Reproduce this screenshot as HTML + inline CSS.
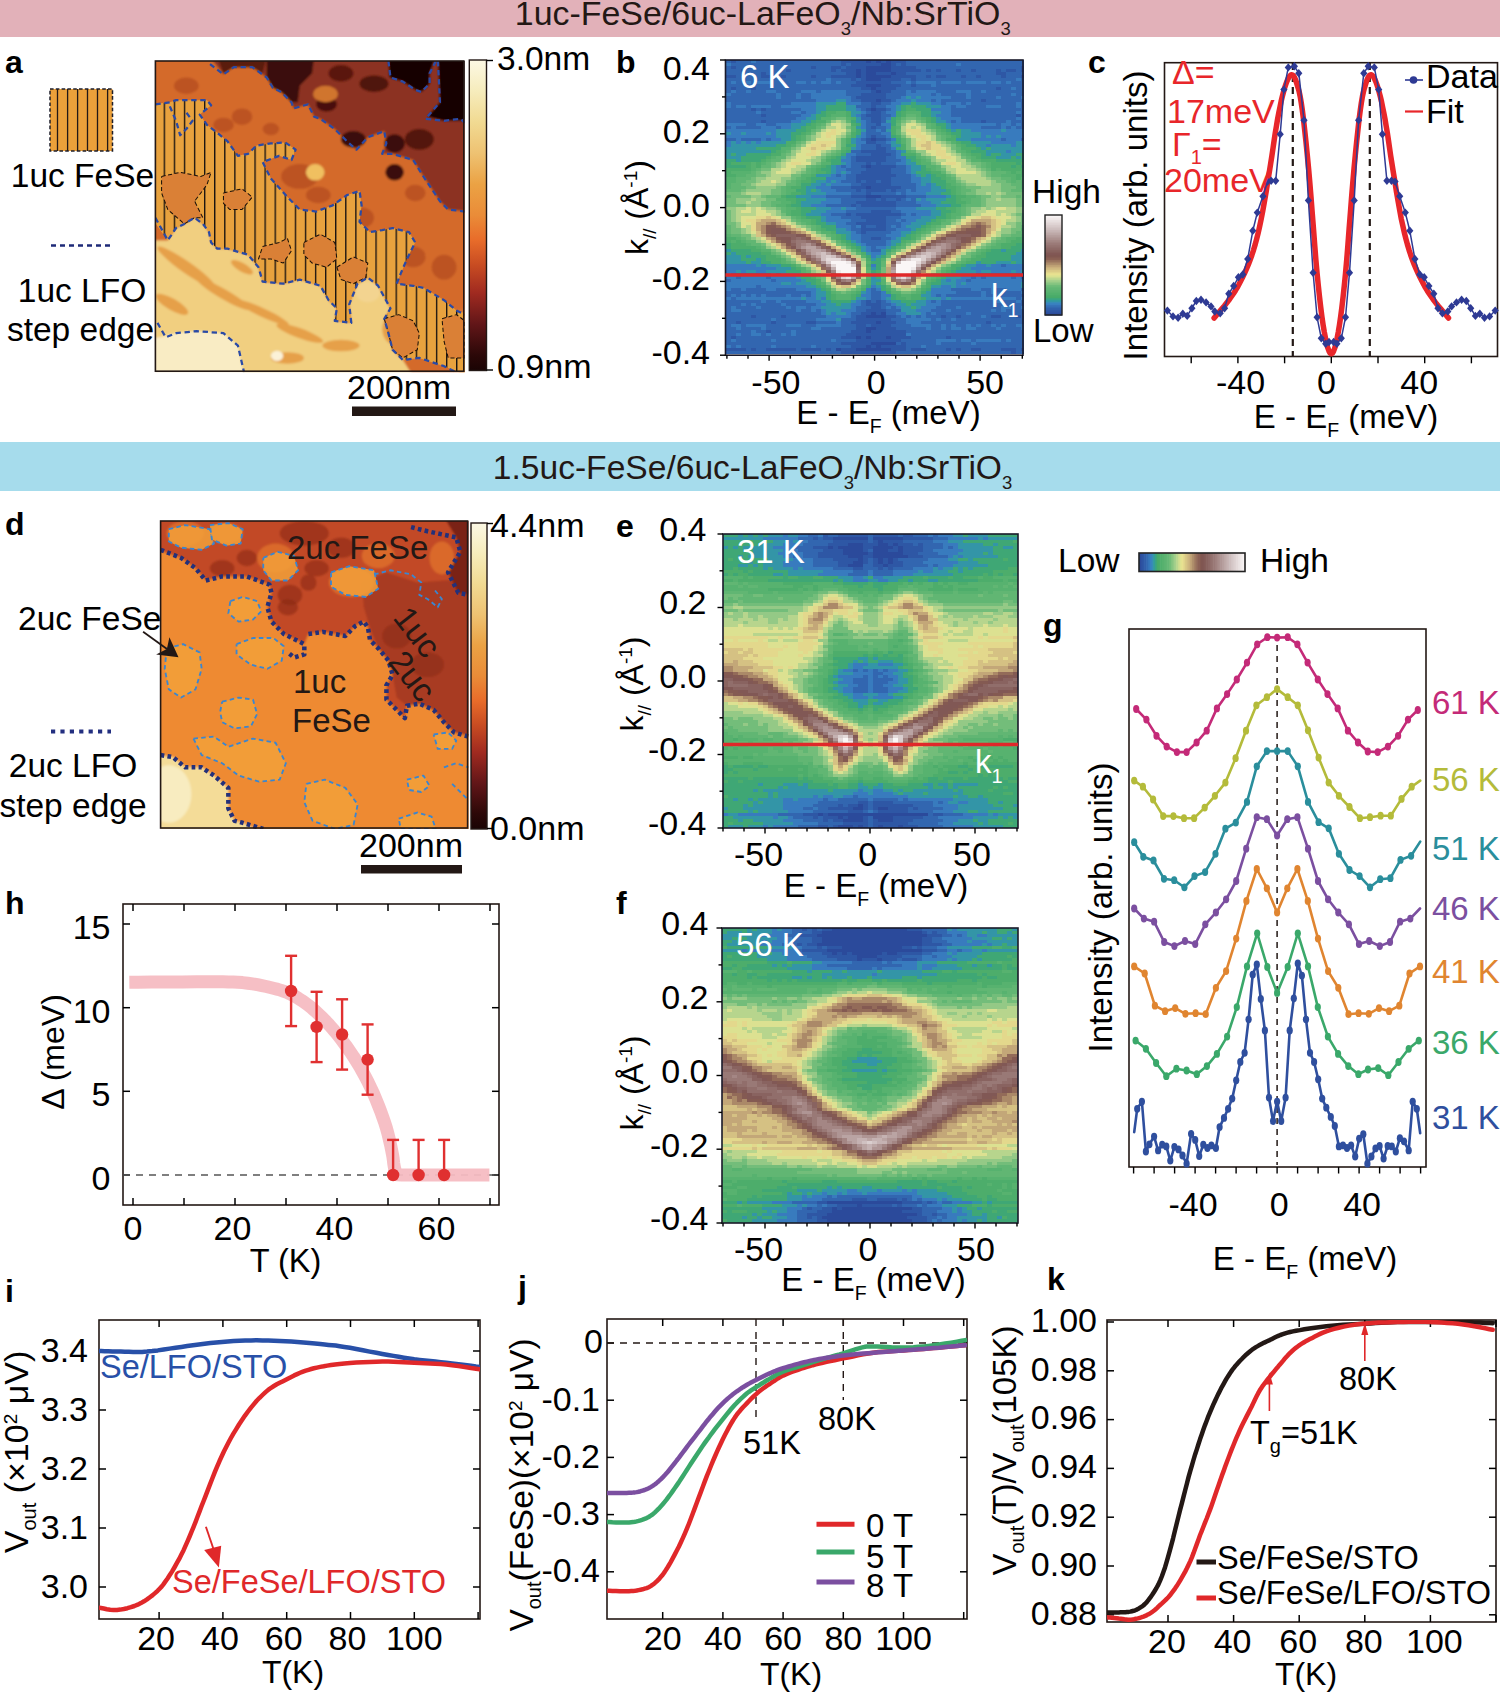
<!DOCTYPE html>
<html><head><meta charset="utf-8"><style>
html,body{margin:0;padding:0;background:#fff;width:1500px;height:1702px;overflow:hidden;}
svg{display:block;}
text{font-family:"Liberation Sans", sans-serif;}
</style></head><body>
<svg width="1500" height="1702" viewBox="0 0 1500 1702">
<rect x="0.0" y="0.0" width="1500.0" height="37.0" fill="#e2b1b9" stroke="none" stroke-width="1" />
<text x="514.8" y="24.8" font-size="33.9" fill="#231815">1uc-FeSe/6uc-LaFeO<tspan font-size="18.5" dy="10">3</tspan><tspan dy="-10">/Nb:SrTiO</tspan><tspan font-size="18.5" dy="10">3</tspan></text>
<rect x="0.0" y="442.0" width="1500.0" height="49.0" fill="#a6dcec" stroke="none" stroke-width="1" />
<text x="492.8" y="478.5" font-size="33.6" fill="#231815">1.5uc-FeSe/6uc-LaFeO<tspan font-size="18.5" dy="10">3</tspan><tspan dy="-10">/Nb:SrTiO</tspan><tspan font-size="18.5" dy="10">3</tspan></text>
<text x="5.0" y="73.0" font-size="32" text-anchor="start" fill="#000" font-weight="bold" >a</text>
<text x="616.0" y="73.0" font-size="32" text-anchor="start" fill="#000" font-weight="bold" >b</text>
<text x="1088.0" y="73.0" font-size="32" text-anchor="start" fill="#000" font-weight="bold" >c</text>
<text x="5.0" y="535.0" font-size="32" text-anchor="start" fill="#000" font-weight="bold" >d</text>
<text x="616.0" y="536.5" font-size="32" text-anchor="start" fill="#000" font-weight="bold" >e</text>
<text x="1043.0" y="636.0" font-size="32" text-anchor="start" fill="#000" font-weight="bold" >g</text>
<text x="616.0" y="914.0" font-size="32" text-anchor="start" fill="#000" font-weight="bold" >f</text>
<text x="5.0" y="914.0" font-size="32" text-anchor="start" fill="#000" font-weight="bold" >h</text>
<text x="5.0" y="1302.0" font-size="32" text-anchor="start" fill="#000" font-weight="bold" >i</text>
<text x="518.0" y="1298.0" font-size="32" text-anchor="start" fill="#000" font-weight="bold" >j</text>
<text x="1047.0" y="1290.0" font-size="32" text-anchor="start" fill="#000" font-weight="bold" >k</text>
<g shape-rendering="crispEdges">
<path fill="#3266b0" d="M726 60H731V63H726zM736 60H751V63H736zM756 60H841V63H756zM906 60H1024V63H906zM731 63H841V66H731zM846 63H851V66H846zM896 63H901V66H896zM906 63H956V66H906zM961 63H1024V66H961zM726 66H731V69H726zM736 66H746V69H736zM751 66H811V69H751zM816 66H831V69H816zM841 66H846V69H841zM916 66H1021V69H916zM726 69H741V72H726zM746 69H786V72H746zM791 69H831V72H791zM836 69H841V72H836zM921 69H926V72H921zM931 69H936V72H931zM941 69H956V72H941zM961 69H971V72H961zM976 69H996V72H976zM1001 69H1006V72H1001zM1016 69H1021V72H1016zM726 72H761V75H726zM766 72H846V75H766zM906 72H996V75H906zM1006 72H1024V75H1006zM736 75H761V78H736zM771 75H781V78H771zM786 75H811V78H786zM816 75H831V78H816zM916 75H926V78H916zM931 75H936V78H931zM946 75H961V78H946zM966 75H976V78H966zM981 75H1001V78H981zM1006 75H1021V78H1006zM726 78H826V81H726zM831 78H851V81H831zM856 78H861V81H856zM901 78H911V81H901zM916 78H1016V81H916zM1021 78H1024V81H1021zM726 81H731V84H726zM736 81H746V84H736zM751 81H756V84H751zM771 81H796V84H771zM806 81H811V84H806zM816 81H821V84H816zM831 81H836V84H831zM841 81H856V84H841zM891 81H906V84H891zM911 81H916V84H911zM936 81H941V84H936zM961 81H966V84H961zM986 81H991V84H986zM1001 81H1006V84H1001zM1011 81H1024V84H1011zM726 84H851V87H726zM901 84H911V87H901zM916 84H931V87H916zM936 84H1024V87H936zM726 87H731V90H726zM736 87H751V90H736zM756 87H861V90H756zM896 87H996V90H896zM1001 87H1011V90H1001zM1016 87H1024V90H1016zM726 90H731V93H726zM736 90H746V93H736zM751 90H766V93H751zM776 90H801V93H776zM816 90H821V93H816zM846 90H871V93H846zM891 90H906V93H891zM911 90H916V93H911zM936 90H956V93H936zM971 90H981V93H971zM986 90H1024V93H986zM731 93H776V96H731zM781 93H796V96H781zM801 93H811V96H801zM846 93H861V96H846zM886 93H906V96H886zM931 93H936V96H931zM941 93H966V96H941zM971 93H1011V96H971zM1016 93H1024V96H1016zM726 96H776V99H726zM781 96H796V99H781zM801 96H811V99H801zM851 96H856V99H851zM886 96H901V99H886zM951 96H966V99H951zM971 96H996V99H971zM1001 96H1021V99H1001zM726 99H816V102H726zM851 99H861V102H851zM891 99H896V102H891zM931 99H936V102H931zM941 99H981V102H941zM986 99H1024V102H986zM731 102H791V105H731zM861 102H871V105H861zM881 102H891V105H881zM941 102H946V105H941zM961 102H966V105H961zM971 102H1016V105H971zM1021 102H1024V105H1021zM731 105H736V108H731zM746 105H751V108H746zM771 105H781V108H771zM856 105H871V108H856zM876 105H886V108H876zM951 105H956V108H951zM966 105H986V108H966zM1001 105H1016V108H1001zM1021 105H1024V108H1021zM726 108H751V111H726zM756 108H761V111H756zM766 108H801V111H766zM861 108H866V111H861zM886 108H891V111H886zM951 108H1024V111H951zM726 111H756V114H726zM761 111H791V114H761zM801 111H806V114H801zM866 111H871V114H866zM881 111H886V114H881zM951 111H1016V114H951zM1021 111H1024V114H1021zM726 114H761V117H726zM766 114H801V117H766zM861 114H866V117H861zM881 114H891V117H881zM951 114H1016V117H951zM1021 114H1024V117H1021zM726 117H796V120H726zM861 117H871V120H861zM881 117H886V120H881zM961 117H1016V120H961zM1021 117H1024V120H1021zM726 120H761V123H726zM766 120H791V123H766zM866 120H871V123H866zM881 120H886V123H881zM951 120H956V123H951zM961 120H981V123H961zM986 120H1006V123H986zM1011 120H1024V123H1011zM746 123H756V126H746zM766 123H776V126H766zM866 123H876V126H866zM996 123H1001V126H996zM1011 123H1016V126H1011zM1021 123H1024V126H1021zM726 126H731V129H726zM736 126H761V129H736zM776 126H781V129H776zM866 126H871V129H866zM876 126H886V129H876zM981 126H1001V129H981zM1006 126H1011V129H1006zM1016 126H1024V129H1016zM866 129H876V132H866zM881 129H886V132H881zM866 132H881V135H866zM866 135H871V138H866zM876 135H886V138H876zM726 138H736V141H726zM741 138H761V141H741zM766 138H771V141H766zM861 138H866V141H861zM886 138H891V141H886zM1001 138H1006V141H1001zM1021 138H1024V141H1021zM876 141H886V144H876zM861 144H876V147H861zM881 144H891V147H881zM861 147H876V150H861zM886 147H891V150H886zM851 150H861V153H851zM886 150H896V153H886zM856 153H871V156H856zM891 153H896V156H891zM851 156H856V159H851zM886 156H896V159H886zM851 159H856V162H851zM886 159H901V162H886zM851 162H866V165H851zM871 162H876V165H871zM881 162H896V165H881zM841 165H846V168H841zM851 165H861V168H851zM896 165H906V168H896zM846 168H866V171H846zM891 168H906V171H891zM851 171H861V174H851zM891 171H906V174H891zM836 174H841V177H836zM846 174H856V177H846zM896 174H911V177H896zM846 177H856V180H846zM891 177H911V180H891zM841 180H856V183H841zM861 180H866V183H861zM876 180H881V183H876zM891 180H911V183H891zM851 183H861V186H851zM891 183H916V186H891zM831 186H851V189H831zM901 186H916V189H901zM836 189H856V192H836zM861 189H866V192H861zM886 189H891V192H886zM896 189H906V192H896zM911 189H916V192H911zM851 192H866V195H851zM871 192H896V195H871zM901 192H906V195H901zM826 195H851V198H826zM906 195H926V198H906zM841 198H866V201H841zM876 198H881V201H876zM886 198H896V201H886zM901 198H906V201H901zM911 198H916V201H911zM841 201H856V204H841zM896 201H916V204H896zM826 204H851V207H826zM856 204H861V207H856zM896 204H921V207H896zM856 207H896V210H856zM846 210H871V213H846zM891 210H901V213H891zM831 213H846V216H831zM851 213H856V216H851zM901 213H906V216H901zM911 213H916V216H911zM841 216H861V219H841zM886 216H901V219H886zM851 219H866V222H851zM886 219H896V222H886zM901 219H906V222H901zM846 222H856V225H846zM886 222H901V225H886zM851 225H856V228H851zM866 225H876V228H866zM886 225H891V228H886zM896 225H901V228H896zM851 228H861V231H851zM886 228H896V231H886zM856 231H861V234H856zM866 231H891V234H866zM861 234H886V237H861zM861 237H871V240H861zM881 237H891V240H881zM861 240H886V243H861zM866 243H886V246H866zM871 246H876V249H871zM871 249H881V252H871zM1001 264H1006V267H1001zM731 273H771V276H731zM776 273H781V276H776zM976 273H1024V276H976zM736 276H741V279H736zM766 276H771V279H766zM971 276H976V279H971zM981 276H986V279H981zM1011 276H1016V279H1011zM1021 276H1024V279H1021zM726 279H731V282H726zM771 279H776V282H771zM966 279H971V282H966zM756 285H761V288H756zM731 288H741V291H731zM746 288H766V291H746zM776 288H796V291H776zM871 288H876V291H871zM951 288H971V291H951zM981 288H991V291H981zM996 288H1006V291H996zM1021 288H1024V291H1021zM726 291H811V294H726zM871 291H881V294H871zM956 291H981V294H956zM986 291H991V294H986zM996 291H1021V294H996zM726 294H731V297H726zM736 294H741V297H736zM746 294H751V297H746zM756 294H761V297H756zM766 294H786V297H766zM791 294H801V297H791zM806 294H811V297H806zM871 294H881V297H871zM936 294H941V297H936zM946 294H981V297H946zM986 294H1024V297H986zM731 297H736V300H731zM871 297H881V300H871zM1016 297H1021V300H1016zM726 300H761V303H726zM766 300H776V303H766zM781 300H806V303H781zM861 300H866V303H861zM871 300H876V303H871zM881 300H886V303H881zM931 300H936V303H931zM941 300H996V303H941zM1001 300H1016V303H1001zM1021 300H1024V303H1021zM726 303H741V306H726zM746 303H751V306H746zM756 303H781V306H756zM786 303H816V306H786zM861 303H866V306H861zM881 303H891V306H881zM941 303H1024V306H941zM726 306H731V309H726zM736 306H756V309H736zM761 306H786V309H761zM791 306H796V309H791zM806 306H811V309H806zM856 306H871V309H856zM881 306H886V309H881zM891 306H896V309H891zM936 306H956V309H936zM961 306H1001V309H961zM1011 306H1021V309H1011zM726 309H731V312H726zM741 309H796V312H741zM801 309H811V312H801zM816 309H821V312H816zM856 309H866V312H856zM886 309H901V312H886zM931 309H946V312H931zM951 309H991V312H951zM996 309H1001V312H996zM1006 309H1024V312H1006zM726 312H821V315H726zM851 312H861V315H851zM886 312H896V315H886zM926 312H931V315H926zM936 312H966V315H936zM971 312H1024V315H971zM726 315H751V318H726zM756 315H781V318H756zM786 315H826V318H786zM851 315H856V318H851zM896 315H901V318H896zM906 315H911V318H906zM916 315H921V318H916zM926 315H941V318H926zM946 315H956V318H946zM961 315H981V318H961zM986 315H991V318H986zM1001 315H1016V318H1001zM1021 315H1024V318H1021zM726 318H771V321H726zM776 318H816V321H776zM841 318H856V321H841zM891 318H906V321H891zM931 318H936V321H931zM941 318H951V321H941zM956 318H1024V321H956zM726 321H736V324H726zM741 321H771V324H741zM776 321H806V324H776zM816 321H836V324H816zM841 321H851V324H841zM896 321H906V324H896zM921 321H986V324H921zM991 321H1024V324H991zM726 324H731V327H726zM741 324H746V327H741zM766 324H786V327H766zM801 324H816V327H801zM841 324H856V327H841zM866 324H871V327H866zM891 324H911V327H891zM931 324H941V327H931zM946 324H951V327H946zM956 324H966V327H956zM971 324H976V327H971zM981 324H991V327H981zM996 324H1001V327H996zM1006 324H1016V327H1006zM726 327H736V330H726zM741 327H761V330H741zM766 327H811V330H766zM821 327H856V330H821zM896 327H926V330H896zM931 327H941V330H931zM946 327H951V330H946zM961 327H966V330H961zM976 327H996V330H976zM1001 327H1021V330H1001zM726 330H751V333H726zM756 330H766V333H756zM771 330H791V333H771zM796 330H851V333H796zM906 330H1024V333H906zM726 333H736V336H726zM741 333H751V336H741zM761 333H766V336H761zM771 333H781V336H771zM786 333H791V336H786zM796 333H846V336H796zM911 333H1024V336H911zM726 336H731V339H726zM736 336H841V339H736zM911 336H946V339H911zM951 336H1024V339H951zM726 339H731V342H726zM736 339H771V342H736zM776 339H831V342H776zM836 339H856V342H836zM901 339H936V342H901zM956 339H961V342H956zM971 339H976V342H971zM1001 339H1006V342H1001zM1011 339H1024V342H1011zM726 342H841V345H726zM896 342H901V345H896zM906 342H936V345H906zM941 342H971V345H941zM976 342H1024V345H976zM731 345H736V348H731zM741 345H771V348H741zM776 345H811V348H776zM816 345H851V348H816zM906 345H921V348H906zM926 345H1024V348H926zM746 348H751V351H746zM756 348H766V351H756zM796 348H801V351H796zM821 348H826V351H821zM831 348H836V351H831zM906 348H911V351H906zM926 348H946V351H926zM951 348H956V351H951zM961 348H971V351H961zM981 348H1001V351H981zM1016 348H1021V351H1016zM726 351H841V354H726zM896 351H1011V354H896zM1016 351H1024V354H1016z"/>
<path fill="#2e57a5" d="M731 60H736V63H731zM841 60H866V63H841zM871 60H876V63H871zM881 60H886V63H881zM891 60H906V63H891zM841 63H846V66H841zM851 63H881V66H851zM891 63H896V66H891zM901 63H906V66H901zM731 66H736V69H731zM746 66H751V69H746zM811 66H816V69H811zM831 66H841V69H831zM846 66H866V69H846zM891 66H916V69H891zM1021 66H1024V69H1021zM741 69H746V72H741zM786 69H791V72H786zM831 69H836V72H831zM841 69H856V72H841zM861 69H866V72H861zM891 69H921V72H891zM926 69H931V72H926zM936 69H941V72H936zM956 69H961V72H956zM971 69H976V72H971zM996 69H1001V72H996zM1006 69H1016V72H1006zM1021 69H1024V72H1021zM761 72H766V75H761zM846 72H856V75H846zM861 72H866V75H861zM876 72H891V75H876zM896 72H906V75H896zM996 72H1006V75H996zM726 75H736V78H726zM761 75H771V78H761zM781 75H786V78H781zM811 75H816V78H811zM831 75H856V78H831zM861 75H866V78H861zM891 75H916V78H891zM926 75H931V78H926zM936 75H946V78H936zM961 75H966V78H961zM976 75H981V78H976zM1001 75H1006V78H1001zM1021 75H1024V78H1021zM851 78H856V81H851zM861 78H866V81H861zM881 78H901V81H881zM911 78H916V81H911zM856 81H891V84H856zM851 84H866V87H851zM881 84H901V87H881zM911 84H916V87H911zM731 87H736V90H731zM751 87H756V90H751zM861 87H871V90H861zM876 87H896V90H876zM996 87H1001V90H996zM871 90H876V93H871zM881 90H891V93H881zM861 93H886V96H861zM856 96H886V99H856zM861 99H876V102H861zM881 99H891V102H881zM981 99H986V102H981zM871 102H881V105H871zM871 105H876V108H871zM751 108H756V111H751zM761 108H766V111H761zM866 108H871V111H866zM876 108H886V111H876zM871 111H881V114H871zM761 114H766V117H761zM866 114H881V117H866zM1016 114H1021V117H1016zM871 117H881V120H871zM761 120H766V123H761zM871 120H881V123H871zM981 120H986V123H981zM876 123H881V126H876zM871 126H876V129H871zM871 135H876V138H871zM866 138H871V141H866zM876 138H886V141H876zM866 141H876V144H866zM876 144H881V147H876zM876 147H886V150H876zM861 150H886V153H861zM871 153H891V156H871zM856 156H886V159H856zM856 159H886V162H856zM866 162H871V165H866zM876 162H881V165H876zM861 165H866V168H861zM871 165H896V168H871zM866 168H891V171H866zM861 171H891V174H861zM856 174H896V177H856zM856 177H891V180H856zM856 180H861V183H856zM866 180H876V183H866zM881 180H891V183H881zM861 183H891V186H861zM851 186H866V189H851zM871 186H901V189H871zM856 189H861V192H856zM866 189H886V192H866zM891 189H896V192H891zM866 192H871V195H866zM851 195H866V198H851zM881 195H906V198H881zM866 198H876V201H866zM881 198H886V201H881zM896 198H901V201H896zM856 201H896V204H856zM851 204H856V207H851zM861 204H896V207H861zM871 210H891V213H871zM846 213H851V216H846zM856 213H901V216H856zM861 216H886V219H861zM866 219H886V222H866zM856 222H886V225H856zM861 225H866V228H861zM876 225H886V228H876zM861 228H886V231H861zM861 231H866V234H861zM871 237H881V240H871zM866 300H871V303H866zM876 300H881V303H876zM866 303H881V306H866zM871 306H881V309H871zM866 309H886V312H866zM861 312H871V315H861zM876 312H881V315H876zM751 315H756V318H751zM781 315H786V318H781zM856 315H866V318H856zM886 315H896V318H886zM941 315H946V318H941zM956 315H961V318H956zM991 315H1001V318H991zM1016 315H1021V318H1016zM856 318H891V321H856zM736 321H741V324H736zM771 321H776V324H771zM806 321H816V324H806zM851 321H876V324H851zM881 321H896V324H881zM986 321H991V324H986zM856 324H866V327H856zM871 324H891V327H871zM856 327H866V330H856zM876 327H896V330H876zM766 330H771V333H766zM851 330H866V333H851zM871 330H906V333H871zM846 333H906V336H846zM731 336H736V339H731zM841 336H856V339H841zM861 336H866V339H861zM871 336H886V339H871zM891 336H911V339H891zM946 336H951V339H946zM856 339H901V342H856zM841 342H871V345H841zM901 342H906V345H901zM851 345H866V348H851zM871 345H876V348H871zM881 345H906V348H881zM726 348H746V351H726zM751 348H756V351H751zM766 348H796V351H766zM801 348H821V351H801zM826 348H831V351H826zM841 348H856V351H841zM891 348H906V351H891zM911 348H926V351H911zM946 348H951V351H946zM956 348H961V351H956zM971 348H981V351H971zM1001 348H1016V351H1001zM1021 348H1024V351H1021zM841 351H896V354H841zM1011 351H1016V354H1011z"/>
<path fill="#387bbe" d="M751 60H756V63H751zM726 63H731V66H726zM956 63H961V66H956zM826 78H831V81H826zM1016 78H1021V81H1016zM731 81H736V84H731zM746 81H751V84H746zM756 81H771V84H756zM796 81H806V84H796zM811 81H816V84H811zM821 81H831V84H821zM836 81H841V84H836zM906 81H911V84H906zM916 81H936V84H916zM941 81H961V84H941zM966 81H986V84H966zM991 81H1001V84H991zM1006 81H1011V84H1006zM931 84H936V87H931zM1011 87H1016V90H1011zM731 90H736V93H731zM746 90H751V93H746zM766 90H776V93H766zM801 90H816V93H801zM821 90H846V93H821zM906 90H911V93H906zM916 90H936V93H916zM956 90H971V93H956zM981 90H986V93H981zM726 93H731V96H726zM776 93H781V96H776zM796 93H801V96H796zM811 93H846V96H811zM906 93H931V96H906zM936 93H941V96H936zM966 93H971V96H966zM1011 93H1016V96H1011zM776 96H781V99H776zM796 96H801V99H796zM811 96H851V99H811zM901 96H906V99H901zM911 96H916V99H911zM921 96H951V99H921zM966 96H971V99H966zM996 96H1001V99H996zM1021 96H1024V99H1021zM816 99H836V102H816zM846 99H851V102H846zM896 99H911V102H896zM916 99H931V102H916zM936 99H941V102H936zM726 102H731V105H726zM791 102H816V105H791zM846 102H861V105H846zM891 102H901V105H891zM931 102H941V105H931zM946 102H961V105H946zM966 102H971V105H966zM1016 102H1021V105H1016zM726 105H731V108H726zM736 105H746V108H736zM751 105H771V108H751zM781 105H816V108H781zM886 105H896V108H886zM941 105H951V108H941zM956 105H966V108H956zM986 105H1001V108H986zM1016 105H1021V108H1016zM801 108H816V111H801zM856 108H861V111H856zM891 108H896V111H891zM931 108H951V111H931zM756 111H761V114H756zM791 111H801V114H791zM806 111H816V114H806zM861 111H866V114H861zM886 111H896V114H886zM941 111H951V114H941zM1016 111H1021V114H1016zM801 114H811V117H801zM856 114H861V117H856zM891 114H896V117H891zM936 114H951V117H936zM796 117H806V120H796zM886 117H891V120H886zM941 117H961V120H941zM1016 117H1021V120H1016zM791 120H801V123H791zM861 120H866V123H861zM946 120H951V123H946zM956 120H961V123H956zM1006 120H1011V123H1006zM726 123H746V126H726zM756 123H766V126H756zM776 123H791V126H776zM861 123H866V126H861zM881 123H891V126H881zM951 123H996V126H951zM1001 123H1011V126H1001zM1016 123H1021V126H1016zM731 126H736V129H731zM761 126H776V129H761zM781 126H791V129H781zM861 126H866V129H861zM886 126H891V129H886zM951 126H981V129H951zM1001 126H1006V129H1001zM1011 126H1016V129H1011zM726 129H776V132H726zM876 129H881V132H876zM971 129H1001V132H971zM1006 129H1024V132H1006zM731 132H741V135H731zM746 132H766V135H746zM771 132H776V135H771zM861 132H866V135H861zM881 132H891V135H881zM981 132H1024V135H981zM726 135H776V138H726zM861 135H866V138H861zM886 135H891V138H886zM981 135H986V138H981zM991 135H996V138H991zM1001 135H1024V138H1001zM736 138H741V141H736zM761 138H766V141H761zM771 138H781V141H771zM856 138H861V141H856zM891 138H896V141H891zM971 138H1001V141H971zM1006 138H1021V141H1006zM726 141H731V144H726zM736 141H741V144H736zM746 141H751V144H746zM756 141H761V144H756zM856 141H866V144H856zM886 141H891V144H886zM991 141H1016V144H991zM726 144H731V147H726zM856 144H861V147H856zM986 144H991V147H986zM1011 144H1016V147H1011zM856 147H861V150H856zM891 147H896V150H891zM896 150H901V153H896zM1006 150H1011V153H1006zM846 153H856V156H846zM896 153H901V156H896zM846 156H851V159H846zM896 156H906V159H896zM841 159H851V162H841zM901 159H906V162H901zM846 162H851V165H846zM896 162H906V165H896zM836 165H841V168H836zM846 165H851V168H846zM906 165H911V168H906zM836 168H846V171H836zM906 168H911V171H906zM836 171H841V174H836zM846 171H851V174H846zM906 171H911V174H906zM831 174H836V177H831zM841 174H846V177H841zM911 174H916V177H911zM826 177H846V180H826zM911 177H921V180H911zM826 180H831V183H826zM836 180H841V183H836zM911 180H921V183H911zM821 183H826V186H821zM831 183H851V186H831zM916 183H921V186H916zM926 183H931V186H926zM816 186H831V189H816zM916 186H931V189H916zM821 189H836V192H821zM906 189H911V192H906zM916 189H931V192H916zM826 192H851V195H826zM896 192H901V195H896zM906 192H926V195H906zM811 195H826V198H811zM926 195H946V198H926zM826 198H841V201H826zM906 198H911V201H906zM921 198H926V201H921zM821 201H841V204H821zM916 201H931V204H916zM811 204H826V207H811zM921 204H936V207H921zM831 207H841V210H831zM846 207H856V210H846zM896 207H916V210H896zM826 210H846V213H826zM901 210H931V213H901zM821 213H831V216H821zM906 213H911V216H906zM916 213H931V216H916zM826 216H841V219H826zM901 216H921V219H901zM826 219H851V222H826zM896 219H901V222H896zM906 219H916V222H906zM836 222H846V225H836zM901 222H911V225H901zM836 225H851V228H836zM856 225H861V228H856zM891 225H896V228H891zM901 225H906V228H901zM846 228H851V231H846zM896 228H911V231H896zM851 231H856V234H851zM891 231H901V234H891zM851 234H861V237H851zM886 234H901V237H886zM851 237H861V240H851zM891 237H896V240H891zM856 240H861V243H856zM886 240H891V243H886zM861 243H866V246H861zM886 243H891V246H886zM866 246H871V249H866zM876 246H886V249H876zM866 249H871V252H866zM871 252H881V255H871zM871 255H876V258H871zM726 264H756V267H726zM761 264H766V267H761zM871 264H876V267H871zM976 264H986V267H976zM991 264H1001V267H991zM1006 264H1024V267H1006zM726 267H776V270H726zM971 267H1024V270H971zM726 270H736V273H726zM741 270H746V273H741zM756 270H766V273H756zM976 270H981V273H976zM991 270H1011V273H991zM1016 270H1021V273H1016zM726 273H731V276H726zM771 273H776V276H771zM781 273H796V276H781zM951 273H976V276H951zM726 276H736V279H726zM741 276H766V279H741zM771 276H796V279H771zM961 276H971V279H961zM976 276H981V279H976zM986 276H1011V279H986zM1016 276H1021V279H1016zM731 279H771V282H731zM776 279H801V282H776zM946 279H951V282H946zM956 279H966V282H956zM971 279H1024V282H971zM726 282H781V285H726zM791 282H796V285H791zM956 282H961V285H956zM966 282H1021V285H966zM726 285H756V288H726zM761 285H806V288H761zM871 285H876V288H871zM941 285H951V288H941zM956 285H1021V288H956zM726 288H731V291H726zM741 288H746V291H741zM766 288H776V291H766zM796 288H816V291H796zM866 288H871V291H866zM876 288H881V291H876zM931 288H951V291H931zM971 288H981V291H971zM991 288H996V291H991zM1006 288H1021V291H1006zM811 291H816V294H811zM866 291H871V294H866zM881 291H886V294H881zM931 291H956V294H931zM981 291H986V294H981zM991 291H996V294H991zM1021 291H1024V294H1021zM731 294H736V297H731zM741 294H746V297H741zM751 294H756V297H751zM761 294H766V297H761zM786 294H791V297H786zM801 294H806V297H801zM811 294H816V297H811zM861 294H871V297H861zM881 294H891V297H881zM931 294H936V297H931zM941 294H946V297H941zM981 294H986V297H981zM726 297H731V300H726zM736 297H801V300H736zM806 297H816V300H806zM821 297H826V300H821zM866 297H871V300H866zM881 297H886V300H881zM941 297H946V300H941zM951 297H1016V300H951zM1021 297H1024V300H1021zM761 300H766V303H761zM776 300H781V303H776zM806 300H821V303H806zM856 300H861V303H856zM886 300H891V303H886zM926 300H931V303H926zM936 300H941V303H936zM996 300H1001V303H996zM1016 300H1021V303H1016zM741 303H746V306H741zM751 303H756V306H751zM781 303H786V306H781zM816 303H826V306H816zM851 303H861V306H851zM891 303H896V306H891zM926 303H941V306H926zM731 306H736V309H731zM756 306H761V309H756zM786 306H791V309H786zM796 306H806V309H796zM811 306H821V309H811zM851 306H856V309H851zM886 306H891V309H886zM896 306H901V309H896zM921 306H936V309H921zM956 306H961V309H956zM1001 306H1011V309H1001zM1021 306H1024V309H1021zM731 309H741V312H731zM796 309H801V312H796zM811 309H816V312H811zM821 309H826V312H821zM841 309H856V312H841zM916 309H931V312H916zM946 309H951V312H946zM991 309H996V312H991zM1001 309H1006V312H1001zM821 312H826V315H821zM831 312H836V315H831zM846 312H851V315H846zM896 312H906V315H896zM921 312H926V315H921zM931 312H936V315H931zM966 312H971V315H966zM826 315H851V318H826zM901 315H906V318H901zM911 315H916V318H911zM921 315H926V318H921zM981 315H986V318H981zM771 318H776V321H771zM816 318H836V321H816zM906 318H931V321H906zM936 318H941V321H936zM951 318H956V321H951zM836 321H841V324H836zM906 321H921V324H906zM731 324H741V327H731zM746 324H766V327H746zM786 324H801V327H786zM816 324H841V327H816zM911 324H931V327H911zM941 324H946V327H941zM951 324H956V327H951zM966 324H971V327H966zM976 324H981V327H976zM991 324H996V327H991zM1001 324H1006V327H1001zM1016 324H1024V327H1016zM736 327H741V330H736zM761 327H766V330H761zM811 327H821V330H811zM926 327H931V330H926zM941 327H946V330H941zM951 327H961V330H951zM966 327H976V330H966zM996 327H1001V330H996zM1021 327H1024V330H1021zM751 330H756V333H751zM791 330H796V333H791zM736 333H741V336H736zM751 333H761V336H751zM766 333H771V336H766zM781 333H786V336H781zM791 333H796V336H791zM906 333H911V336H906zM731 339H736V342H731zM771 339H776V342H771zM831 339H836V342H831zM936 339H956V342H936zM961 339H971V342H961zM976 339H1001V342H976zM1006 339H1011V342H1006zM936 342H941V345H936zM971 342H976V345H971zM726 345H731V348H726zM736 345H741V348H736zM771 345H776V348H771zM811 345H816V348H811zM921 345H926V348H921z"/>
<path fill="#2b4a9b" d="M866 60H871V63H866zM876 60H881V63H876zM886 60H891V63H886zM881 63H891V66H881zM866 66H891V69H866zM856 69H861V72H856zM866 69H891V72H866zM856 72H861V75H856zM866 72H876V75H866zM891 72H896V75H891zM856 75H861V78H856zM866 75H891V78H866zM866 78H881V81H866zM866 84H881V87H866zM871 87H876V90H871zM876 90H881V93H876zM876 99H881V102H876zM871 108H876V111H871zM871 138H876V141H871zM866 165H871V168H866zM866 186H871V189H866zM866 195H881V198H866zM871 312H876V315H871zM881 312H886V315H881zM866 315H886V318H866zM876 321H881V324H876zM866 327H876V330H866zM866 330H871V333H866zM856 336H861V339H856zM866 336H871V339H866zM886 336H891V339H886zM871 342H896V345H871zM866 345H871V348H866zM876 345H881V348H876zM836 348H841V351H836zM856 348H891V351H856z"/>
<path fill="#3395a7" d="M906 96H911V99H906zM916 96H921V99H916zM836 99H846V102H836zM911 99H916V102H911zM816 102H836V105H816zM901 102H911V105H901zM916 102H931V105H916zM816 105H826V108H816zM846 105H856V108H846zM896 105H901V108H896zM926 105H941V108H926zM816 108H826V111H816zM846 108H856V111H846zM896 108H901V111H896zM816 111H821V114H816zM851 111H861V114H851zM931 111H941V114H931zM811 114H816V117H811zM851 114H856V117H851zM931 114H936V117H931zM806 117H816V120H806zM856 117H861V120H856zM936 117H941V120H936zM801 120H811V123H801zM856 120H861V123H856zM886 120H891V123H886zM936 120H946V123H936zM791 123H806V126H791zM946 123H951V126H946zM791 126H801V129H791zM856 126H861V129H856zM946 126H951V129H946zM776 129H796V132H776zM861 129H866V132H861zM886 129H891V132H886zM951 129H956V132H951zM961 129H971V132H961zM1001 129H1006V132H1001zM726 132H731V135H726zM741 132H746V135H741zM766 132H771V135H766zM776 132H791V135H776zM961 132H981V135H961zM776 135H791V138H776zM856 135H861V138H856zM961 135H981V138H961zM986 135H991V138H986zM996 135H1001V138H996zM781 138H791V141H781zM851 138H856V141H851zM956 138H971V141H956zM731 141H736V144H731zM741 141H746V144H741zM751 141H756V144H751zM761 141H786V144H761zM851 141H856V144H851zM891 141H896V144H891zM971 141H991V144H971zM1016 141H1024V144H1016zM731 144H776V147H731zM891 144H901V147H891zM976 144H986V147H976zM991 144H1011V147H991zM1016 144H1024V147H1016zM726 147H756V150H726zM851 147H856V150H851zM981 147H986V150H981zM991 147H1024V150H991zM726 150H771V153H726zM901 150H906V153H901zM986 150H1006V153H986zM1011 150H1024V153H1011zM726 153H731V156H726zM736 153H746V156H736zM986 153H991V156H986zM1001 153H1016V156H1001zM726 156H741V159H726zM841 156H846V159H841zM996 156H1011V159H996zM1016 156H1021V159H1016zM736 159H741V162H736zM906 159H911V162H906zM841 162H846V165H841zM906 162H916V165H906zM831 165H836V168H831zM911 165H921V168H911zM831 168H836V171H831zM911 168H921V171H911zM831 171H836V174H831zM841 171H846V174H841zM911 171H916V174H911zM816 174H831V177H816zM916 174H921V177H916zM926 174H931V177H926zM921 177H931V180H921zM816 180H826V183H816zM831 180H836V183H831zM921 180H931V183H921zM811 183H821V186H811zM826 183H831V186H826zM921 183H926V186H921zM931 183H936V186H931zM806 186H816V189H806zM931 186H941V189H931zM806 189H811V192H806zM816 189H821V192H816zM931 189H946V192H931zM806 192H826V195H806zM926 192H941V195H926zM796 195H811V198H796zM946 195H951V198H946zM806 198H826V201H806zM916 198H921V201H916zM926 198H946V201H926zM801 201H821V204H801zM931 201H941V204H931zM801 204H811V207H801zM936 204H951V207H936zM816 207H831V210H816zM841 207H846V210H841zM916 207H936V210H916zM811 210H826V213H811zM931 210H941V213H931zM806 213H821V216H806zM931 213H941V216H931zM821 216H826V219H821zM921 216H936V219H921zM821 219H826V222H821zM916 219H931V222H916zM826 222H836V225H826zM911 222H926V225H911zM906 225H921V228H906zM836 228H846V231H836zM911 228H916V231H911zM836 231H851V234H836zM901 231H911V234H901zM846 234H851V237H846zM901 234H906V237H901zM846 237H851V240H846zM896 237H901V240H896zM851 240H856V243H851zM891 240H901V243H891zM856 243H861V246H856zM891 243H896V246H891zM861 246H866V249H861zM886 246H891V249H886zM726 249H731V252H726zM861 249H866V252H861zM881 249H886V252H881zM1001 249H1006V252H1001zM1021 249H1024V252H1021zM731 252H736V255H731zM866 252H871V255H866zM881 252H886V255H881zM1016 252H1024V255H1016zM726 255H741V258H726zM746 255H751V258H746zM876 255H881V258H876zM1011 255H1024V258H1011zM726 258H741V261H726zM756 258H761V261H756zM871 258H876V261H871zM1011 258H1024V261H1011zM726 261H746V264H726zM751 261H761V264H751zM976 261H981V264H976zM996 261H1011V264H996zM1016 261H1024V264H1016zM756 264H761V267H756zM766 264H781V267H766zM966 264H976V267H966zM986 264H991V267H986zM776 267H791V270H776zM871 267H876V270H871zM961 267H971V270H961zM736 270H741V273H736zM746 270H756V273H746zM766 270H786V273H766zM956 270H976V273H956zM981 270H991V273H981zM1011 270H1016V273H1011zM1021 270H1024V273H1021zM796 273H806V276H796zM871 273H876V276H871zM946 273H951V276H946zM796 276H801V279H796zM871 276H876V279H871zM946 276H961V279H946zM801 279H806V282H801zM871 279H881V282H871zM941 279H946V282H941zM951 279H956V282H951zM781 282H791V285H781zM796 282H811V285H796zM871 282H876V285H871zM941 282H956V285H941zM961 282H966V285H961zM1021 282H1024V285H1021zM806 285H816V288H806zM876 285H881V288H876zM931 285H941V288H931zM951 285H956V288H951zM1021 285H1024V288H1021zM816 288H821V291H816zM816 291H826V294H816zM861 291H866V294H861zM926 291H931V294H926zM816 294H826V297H816zM921 294H931V297H921zM801 297H806V300H801zM816 297H821V300H816zM856 297H866V300H856zM886 297H891V300H886zM926 297H941V300H926zM946 297H951V300H946zM821 300H831V303H821zM851 300H856V303H851zM891 300H901V303H891zM916 300H926V303H916zM826 303H836V306H826zM841 303H851V306H841zM896 303H906V306H896zM911 303H926V306H911zM821 306H851V309H821zM901 306H911V309H901zM916 306H921V309H916zM826 309H841V312H826zM901 309H916V312H901zM826 312H831V315H826zM836 312H846V315H836zM906 312H921V315H906zM836 318H841V321H836z"/>
<path fill="#3fa775" d="M836 102H846V105H836zM911 102H916V105H911zM826 105H846V108H826zM901 105H906V108H901zM911 105H926V108H911zM826 108H846V111H826zM901 108H906V111H901zM916 108H931V111H916zM821 111H826V114H821zM896 111H901V114H896zM921 111H931V114H921zM816 114H826V117H816zM896 114H901V117H896zM921 114H931V117H921zM816 117H821V120H816zM891 117H896V120H891zM931 117H936V120H931zM811 120H816V123H811zM851 120H856V123H851zM891 120H896V123H891zM931 120H936V123H931zM806 123H811V126H806zM856 123H861V126H856zM891 123H896V126H891zM936 123H946V126H936zM801 126H806V129H801zM941 126H946V129H941zM796 129H806V132H796zM856 129H861V132H856zM946 129H951V132H946zM956 129H961V132H956zM791 132H801V135H791zM856 132H861V135H856zM951 132H961V135H951zM791 135H796V138H791zM891 135H896V138H891zM956 135H961V138H956zM791 138H796V141H791zM896 138H901V141H896zM896 141H901V144H896zM961 141H971V144H961zM776 144H786V147H776zM846 144H856V147H846zM966 144H976V147H966zM756 147H781V150H756zM896 147H901V150H896zM976 147H981V150H976zM986 147H991V150H986zM771 150H776V153H771zM846 150H851V153H846zM971 150H986V153H971zM731 153H736V156H731zM746 153H771V156H746zM841 153H846V156H841zM901 153H906V156H901zM981 153H986V156H981zM991 153H1001V156H991zM1016 153H1024V156H1016zM741 156H766V159H741zM836 156H841V159H836zM906 156H916V159H906zM981 156H996V159H981zM1011 156H1016V159H1011zM1021 156H1024V159H1021zM726 159H736V162H726zM741 159H761V162H741zM831 159H841V162H831zM911 159H916V162H911zM996 159H1024V162H996zM726 162H731V165H726zM831 162H841V165H831zM1016 162H1021V165H1016zM726 165H746V168H726zM826 165H831V168H826zM921 165H926V168H921zM1011 165H1016V168H1011zM1021 165H1024V168H1021zM821 168H831V171H821zM921 168H926V171H921zM826 171H831V174H826zM916 171H931V174H916zM921 174H926V177H921zM931 174H936V177H931zM811 177H826V180H811zM931 177H941V180H931zM811 180H816V183H811zM931 180H946V183H931zM801 183H811V186H801zM936 183H946V186H936zM801 186H806V189H801zM941 186H946V189H941zM796 189H806V192H796zM811 189H816V192H811zM946 189H951V192H946zM801 192H806V195H801zM941 192H951V195H941zM786 195H796V198H786zM951 195H956V198H951zM796 198H806V201H796zM946 198H956V201H946zM796 201H801V204H796zM941 201H956V204H941zM791 204H801V207H791zM951 204H961V207H951zM801 207H816V210H801zM936 207H946V210H936zM801 210H811V213H801zM941 210H951V213H941zM801 213H806V216H801zM941 213H946V216H941zM806 216H821V219H806zM936 216H946V219H936zM816 219H821V222H816zM931 219H936V222H931zM816 222H826V225H816zM926 222H931V225H926zM821 225H836V228H821zM921 225H926V228H921zM826 228H836V231H826zM916 228H921V231H916zM911 231H916V234H911zM841 234H846V237H841zM906 234H911V237H906zM841 237H846V240H841zM901 237H911V240H901zM846 240H851V243H846zM726 243H731V246H726zM851 243H856V246H851zM896 243H901V246H896zM1016 243H1024V246H1016zM726 246H731V249H726zM856 246H861V249H856zM891 246H896V249H891zM1011 246H1024V249H1011zM731 249H751V252H731zM886 249H891V252H886zM991 249H1001V252H991zM1006 249H1021V252H1006zM726 252H731V255H726zM736 252H761V255H736zM986 252H1016V255H986zM741 255H746V258H741zM751 255H766V258H751zM866 255H871V258H866zM881 255H886V258H881zM986 255H1011V258H986zM741 258H756V261H741zM761 258H766V261H761zM876 258H881V261H876zM981 258H1011V261H981zM746 261H751V264H746zM761 261H771V264H761zM871 261H881V264H871zM981 261H996V264H981zM1011 261H1016V264H1011zM781 264H791V267H781zM876 264H881V267H876zM961 264H966V267H961zM791 267H796V270H791zM876 267H881V270H876zM956 267H961V270H956zM786 270H801V273H786zM871 270H876V273H871zM951 270H956V273H951zM806 273H811V276H806zM876 273H881V276H876zM941 273H946V276H941zM801 276H811V279H801zM876 276H881V279H876zM941 276H946V279H941zM806 279H816V282H806zM936 279H941V282H936zM811 282H816V285H811zM876 282H881V285H876zM931 282H941V285H931zM816 285H821V288H816zM866 285H871V288H866zM881 285H886V288H881zM821 288H826V291H821zM881 288H886V291H881zM926 288H931V291H926zM826 291H831V294H826zM886 291H891V294H886zM921 291H926V294H921zM826 294H831V297H826zM856 294H861V297H856zM891 294H896V297H891zM826 297H831V300H826zM891 297H896V300H891zM921 297H926V300H921zM831 300H851V303H831zM901 300H916V303H901zM836 303H841V306H836zM906 303H911V306H906zM911 306H916V309H911z"/>
<path fill="#4dad6b" d="M906 105H911V108H906zM906 108H916V111H906zM826 111H836V114H826zM846 111H851V114H846zM901 111H906V114H901zM826 114H831V117H826zM846 114H851V117H846zM901 114H906V117H901zM851 117H856V120H851zM896 117H901V120H896zM926 117H931V120H926zM816 120H826V123H816zM926 120H931V123H926zM811 123H816V126H811zM851 123H856V126H851zM806 126H816V129H806zM891 126H896V129H891zM936 126H941V129H936zM806 129H811V132H806zM891 129H896V132H891zM941 129H946V132H941zM801 132H806V135H801zM851 132H856V135H851zM891 132H896V135H891zM946 132H951V135H946zM796 135H801V138H796zM851 135H856V138H851zM896 135H901V138H896zM951 135H956V138H951zM796 138H801V141H796zM846 138H851V141H846zM946 138H956V141H946zM786 141H796V144H786zM846 141H851V144H846zM956 141H961V144H956zM786 144H791V147H786zM901 144H906V147H901zM961 144H966V147H961zM846 147H851V150H846zM901 147H906V150H901zM961 147H976V150H961zM776 150H781V153H776zM841 150H846V153H841zM966 150H971V153H966zM771 153H781V156H771zM906 153H916V156H906zM971 153H981V156H971zM766 156H771V159H766zM831 156H836V159H831zM976 156H981V159H976zM761 159H766V162H761zM826 159H831V162H826zM916 159H921V162H916zM981 159H996V162H981zM731 162H751V165H731zM756 162H761V165H756zM916 162H921V165H916zM991 162H1016V165H991zM1021 162H1024V165H1021zM746 165H751V168H746zM756 165H761V168H756zM821 165H826V168H821zM991 165H1011V168H991zM1016 165H1021V168H1016zM726 168H751V171H726zM816 168H821V171H816zM926 168H931V171H926zM991 168H996V171H991zM1001 168H1024V171H1001zM726 171H731V174H726zM816 171H826V174H816zM931 171H941V174H931zM1011 171H1016V174H1011zM1021 171H1024V174H1021zM726 174H736V177H726zM811 174H816V177H811zM936 174H946V177H936zM1016 174H1024V177H1016zM806 177H811V180H806zM941 177H946V180H941zM1016 177H1021V180H1016zM801 180H811V183H801zM946 183H951V186H946zM791 186H801V189H791zM946 186H956V189H946zM951 189H956V192H951zM791 192H801V195H791zM951 192H956V195H951zM781 195H786V198H781zM956 195H966V198H956zM786 198H796V201H786zM956 198H961V201H956zM791 201H796V204H791zM956 201H966V204H956zM786 204H791V207H786zM796 207H801V210H796zM946 207H956V210H946zM791 210H801V213H791zM951 210H956V213H951zM791 213H801V216H791zM946 213H951V216H946zM801 216H806V219H801zM946 216H951V219H946zM811 219H816V222H811zM936 219H941V222H936zM811 222H816V225H811zM931 222H941V225H931zM926 225H931V228H926zM821 228H826V231H821zM921 228H926V231H921zM831 231H836V234H831zM916 231H921V234H916zM836 234H841V237H836zM911 234H916V237H911zM726 237H736V240H726zM836 237H841V240H836zM911 237H916V240H911zM1016 237H1024V240H1016zM726 240H731V243H726zM736 240H741V243H736zM841 240H846V243H841zM901 240H906V243H901zM1011 240H1024V243H1011zM731 243H746V246H731zM846 243H851V246H846zM1001 243H1016V246H1001zM731 246H756V249H731zM851 246H856V249H851zM1001 246H1011V249H1001zM751 249H761V252H751zM856 249H861V252H856zM986 249H991V252H986zM761 252H771V255H761zM861 252H866V255H861zM981 252H986V255H981zM766 255H776V258H766zM976 255H986V258H976zM766 258H781V261H766zM866 258H871V261H866zM971 258H981V261H971zM771 261H781V264H771zM966 261H976V264H966zM791 264H796V267H791zM866 264H871V267H866zM951 264H961V267H951zM796 267H801V270H796zM951 267H956V270H951zM876 270H881V273H876zM946 270H951V273H946zM936 273H941V276H936zM811 276H816V279H811zM936 276H941V279H936zM816 279H821V282H816zM866 279H871V282H866zM931 279H936V282H931zM816 282H821V285H816zM866 282H871V285H866zM926 282H931V285H926zM821 285H826V288H821zM926 285H931V288H926zM826 288H831V291H826zM861 288H866V291H861zM886 288H891V291H886zM921 288H926V291H921zM856 291H861V294H856zM831 294H836V297H831zM851 294H856V297H851zM896 294H901V297H896zM911 294H921V297H911zM831 297H836V300H831zM851 297H856V300H851zM896 297H906V300H896zM911 297H921V300H911z"/>
<path fill="#57b26f" d="M836 111H846V114H836zM906 111H921V114H906zM831 114H846V117H831zM916 114H921V117H916zM821 117H831V120H821zM846 117H851V120H846zM921 117H926V120H921zM896 120H901V123H896zM816 123H821V126H816zM931 123H936V126H931zM851 126H856V129H851zM896 126H901V129H896zM931 126H936V129H931zM851 129H856V132H851zM936 129H941V132H936zM806 132H811V135H806zM941 132H946V135H941zM801 135H806V138H801zM946 135H951V138H946zM801 138H806V141H801zM901 138H906V141H901zM901 141H906V144H901zM951 141H956V144H951zM791 144H796V147H791zM956 144H961V147H956zM781 147H791V150H781zM841 147H846V150H841zM781 150H786V153H781zM906 150H911V153H906zM961 150H966V153H961zM836 153H841V156H836zM966 153H971V156H966zM771 156H776V159H771zM826 156H831V159H826zM916 156H921V159H916zM971 156H976V159H971zM766 159H771V162H766zM921 159H926V162H921zM971 159H981V162H971zM751 162H756V165H751zM761 162H766V165H761zM821 162H831V165H821zM921 162H931V165H921zM986 162H991V165H986zM751 165H756V168H751zM816 165H821V168H816zM926 165H936V168H926zM986 165H991V168H986zM751 168H756V171H751zM811 168H816V171H811zM931 168H936V171H931zM996 168H1001V171H996zM731 171H751V174H731zM811 171H816V174H811zM1006 171H1011V174H1006zM1016 171H1021V174H1016zM736 174H746V177H736zM801 174H811V177H801zM1001 174H1016V177H1001zM726 177H736V180H726zM801 177H806V180H801zM946 177H951V180H946zM1011 177H1016V180H1011zM1021 177H1024V180H1021zM726 180H736V183H726zM796 180H801V183H796zM946 180H956V183H946zM1011 180H1016V183H1011zM1021 180H1024V183H1021zM726 183H731V186H726zM796 183H801V186H796zM951 183H956V186H951zM1021 183H1024V186H1021zM726 186H731V189H726zM786 186H791V189H786zM956 186H961V189H956zM1021 186H1024V189H1021zM786 189H796V192H786zM956 189H961V192H956zM786 192H791V195H786zM956 192H961V195H956zM966 195H976V198H966zM776 198H786V201H776zM961 198H971V201H961zM781 201H791V204H781zM966 201H971V204H966zM776 204H786V207H776zM961 204H966V207H961zM786 207H796V210H786zM956 207H961V210H956zM786 210H791V213H786zM956 210H961V213H956zM786 213H791V216H786zM951 213H961V216H951zM796 216H801V219H796zM951 216H956V219H951zM801 219H811V222H801zM941 219H946V222H941zM806 222H811V225H806zM816 225H821V228H816zM931 225H936V228H931zM816 228H821V231H816zM926 228H931V231H926zM1021 228H1024V231H1021zM821 231H831V234H821zM921 231H926V234H921zM726 234H731V237H726zM831 234H836V237H831zM916 234H921V237H916zM1021 234H1024V237H1021zM736 237H741V240H736zM831 237H836V240H831zM1006 237H1016V240H1006zM731 240H736V243H731zM741 240H746V243H741zM906 240H911V243H906zM1006 240H1011V243H1006zM746 243H751V246H746zM901 243H906V246H901zM996 243H1001V246H996zM756 246H761V249H756zM896 246H901V249H896zM991 246H1001V249H991zM761 249H771V252H761zM891 249H896V252H891zM981 249H986V252H981zM886 252H891V255H886zM976 252H981V255H976zM776 255H781V258H776zM861 255H866V258H861zM971 255H976V258H971zM781 258H786V261H781zM881 258H886V261H881zM966 258H971V261H966zM781 261H786V264H781zM866 261H871V264H866zM961 261H966V264H961zM801 267H806V270H801zM866 267H871V270H866zM946 267H951V270H946zM801 270H806V273H801zM941 270H946V273H941zM811 273H816V276H811zM866 273H871V276H866zM931 273H936V276H931zM866 276H871V279H866zM931 276H936V279H931zM881 279H886V282H881zM926 279H931V282H926zM821 282H826V285H821zM881 282H886V285H881zM861 285H866V288H861zM886 285H891V288H886zM921 285H926V288H921zM831 291H836V294H831zM851 291H856V294H851zM891 291H901V294H891zM916 291H921V294H916zM836 294H851V297H836zM901 294H911V297H901zM836 297H851V300H836zM906 297H911V300H906z"/>
<path fill="#61b673" d="M906 114H916V117H906zM831 117H836V120H831zM901 117H906V120H901zM916 117H921V120H916zM826 120H831V123H826zM846 120H851V123H846zM921 120H926V123H921zM821 123H826V126H821zM896 123H901V126H896zM926 123H931V126H926zM816 126H821V129H816zM926 126H931V129H926zM811 129H816V132H811zM896 129H901V132H896zM896 132H901V135H896zM936 132H941V135H936zM846 135H851V138H846zM941 135H946V138H941zM841 138H846V141H841zM941 138H946V141H941zM796 141H801V144H796zM841 141H846V144H841zM841 144H846V147H841zM956 147H961V150H956zM786 150H791V153H786zM836 150H841V153H836zM911 150H916V153H911zM956 150H961V153H956zM781 153H786V156H781zM831 153H836V156H831zM916 153H921V156H916zM961 153H966V156H961zM776 156H786V159H776zM921 156H926V159H921zM966 156H971V159H966zM771 159H781V162H771zM821 159H826V162H821zM926 159H931V162H926zM766 162H771V165H766zM981 162H986V165H981zM761 165H771V168H761zM811 165H816V168H811zM936 165H941V168H936zM981 165H986V168H981zM756 168H761V171H756zM806 168H811V171H806zM936 168H941V171H936zM986 168H991V171H986zM751 171H756V174H751zM806 171H811V174H806zM941 171H946V174H941zM991 171H1006V174H991zM746 174H756V177H746zM946 174H951V177H946zM991 174H1001V177H991zM736 177H751V180H736zM796 177H801V180H796zM951 177H956V180H951zM1001 177H1011V180H1001zM736 180H746V183H736zM791 180H796V183H791zM1006 180H1011V183H1006zM1016 180H1021V183H1016zM731 183H741V186H731zM786 183H796V186H786zM956 183H961V186H956zM1011 183H1021V186H1011zM731 186H746V189H731zM781 186H786V189H781zM961 186H966V189H961zM1016 186H1021V189H1016zM726 189H741V192H726zM781 189H786V192H781zM961 189H971V192H961zM1011 189H1024V192H1011zM781 192H786V195H781zM961 192H966V195H961zM726 195H731V198H726zM766 195H781V198H766zM976 195H981V198H976zM1016 195H1021V198H1016zM971 198H981V201H971zM771 201H781V204H771zM971 201H981V204H971zM771 204H776V207H771zM966 204H981V207H966zM781 207H786V210H781zM961 207H966V210H961zM781 210H786V213H781zM961 210H966V213H961zM961 213H966V216H961zM791 216H796V219H791zM956 216H961V219H956zM796 219H801V222H796zM946 219H951V222H946zM801 222H806V225H801zM941 222H951V225H941zM726 225H731V228H726zM811 225H816V228H811zM936 225H941V228H936zM1021 225H1024V228H1021zM726 228H731V231H726zM811 228H816V231H811zM931 228H936V231H931zM726 231H731V234H726zM926 231H931V234H926zM1016 231H1024V234H1016zM731 234H741V237H731zM826 234H831V237H826zM1011 234H1021V237H1011zM741 237H746V240H741zM916 237H921V240H916zM1001 237H1006V240H1001zM746 240H756V243H746zM836 240H841V243H836zM911 240H916V243H911zM996 240H1006V243H996zM751 243H761V246H751zM841 243H846V246H841zM991 243H996V246H991zM761 246H766V249H761zM846 246H851V249H846zM901 246H906V249H901zM986 246H991V249H986zM851 249H856V252H851zM976 249H981V252H976zM771 252H776V255H771zM856 252H861V255H856zM971 252H976V255H971zM886 255H891V258H886zM961 258H966V261H961zM786 261H791V264H786zM881 261H886V264H881zM956 261H961V264H956zM796 264H801V267H796zM881 264H886V267H881zM941 267H946V270H941zM806 270H811V273H806zM866 270H871V273H866zM881 273H886V276H881zM816 276H821V279H816zM881 276H886V279H881zM926 276H931V279H926zM826 285H831V288H826zM856 288H861V291H856zM891 288H896V291H891zM916 288H921V291H916zM836 291H841V294H836zM846 291H851V294H846zM911 291H916V294H911z"/>
<path fill="#73bd7a" d="M836 117H846V120H836zM906 117H916V120H906zM901 120H906V123H901zM916 120H921V123H916zM821 126H826V129H821zM846 126H851V129H846zM816 129H821V132H816zM931 129H936V132H931zM811 132H816V135H811zM846 132H851V135H846zM806 135H811V138H806zM901 135H906V138H901zM936 135H941V138H936zM806 138H811V141H806zM906 138H911V141H906zM936 138H941V141H936zM801 141H806V144H801zM906 141H911V144H906zM946 141H951V144H946zM796 144H801V147H796zM906 144H911V147H906zM951 144H956V147H951zM791 147H796V150H791zM906 147H911V150H906zM951 147H956V150H951zM831 150H836V153H831zM786 153H791V156H786zM826 153H831V156H826zM821 156H826V159H821zM926 156H931V159H926zM961 156H966V159H961zM966 159H971V162H966zM771 162H776V165H771zM816 162H821V165H816zM931 162H936V165H931zM971 162H981V165H971zM771 165H776V168H771zM806 165H811V168H806zM976 165H981V168H976zM761 168H771V171H761zM941 168H946V171H941zM981 168H986V171H981zM756 171H761V174H756zM801 171H806V174H801zM986 171H991V174H986zM756 174H766V177H756zM791 174H801V177H791zM951 174H956V177H951zM986 174H991V177H986zM751 177H756V180H751zM791 177H796V180H791zM991 177H1001V180H991zM746 180H756V183H746zM786 180H791V183H786zM956 180H961V183H956zM996 180H1006V183H996zM741 183H751V186H741zM961 183H966V186H961zM1001 183H1011V186H1001zM746 186H756V189H746zM776 186H781V189H776zM966 186H981V189H966zM1001 186H1016V189H1001zM741 189H746V192H741zM771 189H781V192H771zM971 189H976V192H971zM1001 189H1011V192H1001zM726 192H741V195H726zM771 192H781V195H771zM966 192H976V195H966zM1006 192H1024V195H1006zM731 195H751V198H731zM761 195H766V198H761zM981 195H991V198H981zM1001 195H1016V198H1001zM1021 195H1024V198H1021zM726 198H736V201H726zM766 198H776V201H766zM981 198H986V201H981zM1016 198H1024V201H1016zM726 201H736V204H726zM761 201H771V204H761zM981 201H986V204H981zM1016 201H1024V204H1016zM726 204H746V207H726zM761 204H771V207H761zM981 204H986V207H981zM1016 204H1024V207H1016zM776 207H781V210H776zM966 207H971V210H966zM726 210H731V213H726zM966 210H971V213H966zM726 213H731V216H726zM781 213H786V216H781zM966 213H971V216H966zM1016 213H1024V216H1016zM726 216H731V219H726zM1021 216H1024V219H1021zM726 219H731V222H726zM791 219H796V222H791zM951 219H956V222H951zM1021 219H1024V222H1021zM726 222H736V225H726zM796 222H801V225H796zM1016 222H1024V225H1016zM731 225H736V228H731zM806 225H811V228H806zM941 225H946V228H941zM1016 225H1021V228H1016zM731 228H741V231H731zM936 228H941V231H936zM1011 228H1021V231H1011zM731 231H741V234H731zM816 231H821V234H816zM1011 231H1016V234H1011zM741 234H751V237H741zM921 234H926V237H921zM1001 234H1011V237H1001zM746 237H751V240H746zM996 237H1001V240H996zM991 240H996V243H991zM761 243H766V246H761zM836 243H841V246H836zM906 243H911V246H906zM986 243H991V246H986zM981 246H986V249H981zM771 249H776V252H771zM896 249H901V252H896zM776 252H781V255H776zM891 252H896V255H891zM966 252H971V255H966zM781 255H786V258H781zM961 255H971V258H961zM786 258H791V261H786zM791 261H796V264H791zM946 264H951V267H946zM806 267H811V270H806zM881 267H886V270H881zM881 270H886V273H881zM936 270H941V273H936zM816 273H821V276H816zM821 276H826V279H821zM821 279H826V282H821zM861 279H866V282H861zM861 282H866V285H861zM921 282H926V285H921zM856 285H861V288H856zM831 288H836V291H831zM851 288H856V291H851zM841 291H846V294H841zM901 291H911V294H901z"/>
<path fill="#94c986" d="M831 120H836V123H831zM841 120H846V123H841zM906 120H911V123H906zM826 123H831V126H826zM846 123H851V126H846zM901 123H906V126H901zM921 123H926V126H921zM846 129H851V132H846zM926 129H931V132H926zM901 132H906V135H901zM931 132H936V135H931zM811 135H816V138H811zM841 135H846V138H841zM811 138H816V141H811zM836 138H841V141H836zM836 141H841V144H836zM941 141H946V144H941zM801 144H806V147H801zM836 144H841V147H836zM946 144H951V147H946zM796 147H801V150H796zM836 147H841V150H836zM911 147H916V150H911zM791 150H796V153H791zM826 150H831V153H826zM916 150H926V153H916zM951 150H956V153H951zM791 153H796V156H791zM821 153H826V156H821zM921 153H926V156H921zM956 153H961V156H956zM786 156H791V159H786zM816 156H821V159H816zM931 156H936V159H931zM781 159H786V162H781zM811 159H821V162H811zM931 159H936V162H931zM776 162H781V165H776zM811 162H816V165H811zM936 162H941V165H936zM966 162H971V165H966zM776 165H781V168H776zM941 165H946V168H941zM971 165H976V168H971zM801 168H806V171H801zM976 168H981V171H976zM761 171H771V174H761zM796 171H801V174H796zM946 171H951V174H946zM981 171H986V174H981zM766 174H771V177H766zM981 174H986V177H981zM756 177H766V180H756zM781 177H791V180H781zM956 177H961V180H956zM986 177H991V180H986zM756 180H761V183H756zM781 180H786V183H781zM961 180H966V183H961zM991 180H996V183H991zM751 183H756V186H751zM776 183H786V186H776zM966 183H976V186H966zM991 183H1001V186H991zM756 186H776V189H756zM981 186H1001V189H981zM746 189H771V192H746zM976 189H1001V192H976zM741 192H746V195H741zM761 192H771V195H761zM976 192H986V195H976zM991 192H996V195H991zM1001 192H1006V195H1001zM751 195H761V198H751zM991 195H1001V198H991zM736 198H751V201H736zM756 198H766V201H756zM986 198H996V201H986zM1001 198H1016V201H1001zM736 201H746V204H736zM751 201H761V204H751zM986 201H1016V204H986zM746 204H761V207H746zM986 204H1016V207H986zM726 207H736V210H726zM766 207H776V210H766zM971 207H981V210H971zM986 207H991V210H986zM1016 207H1024V210H1016zM731 210H736V213H731zM776 210H781V213H776zM971 210H976V213H971zM1016 210H1024V213H1016zM731 213H736V216H731zM776 213H781V216H776zM1011 213H1016V216H1011zM731 216H736V219H731zM781 216H791V219H781zM961 216H966V219H961zM1016 216H1021V219H1016zM731 219H736V222H731zM956 219H961V222H956zM1016 219H1021V222H1016zM736 222H741V225H736zM951 222H956V225H951zM1006 222H1016V225H1006zM736 225H741V228H736zM801 225H806V228H801zM1011 225H1016V228H1011zM741 228H746V231H741zM806 228H811V231H806zM1001 228H1011V231H1001zM741 231H746V234H741zM931 231H936V234H931zM1001 231H1011V234H1001zM821 234H826V237H821zM926 234H931V237H926zM751 237H756V240H751zM826 237H831V240H826zM921 237H926V240H921zM991 237H996V240H991zM756 240H761V243H756zM831 240H836V243H831zM916 240H921V243H916zM981 243H986V246H981zM766 246H771V249H766zM841 246H846V249H841zM976 246H981V249H976zM776 249H781V252H776zM846 249H851V252H846zM971 249H976V252H971zM781 252H786V255H781zM851 252H856V255H851zM786 255H791V258H786zM791 258H796V261H791zM861 258H866V261H861zM956 258H961V261H956zM951 261H956V264H951zM801 264H806V267H801zM941 264H946V267H941zM936 267H941V270H936zM811 270H816V273H811zM926 273H931V276H926zM921 279H926V282H921zM826 282H831V285H826zM886 282H891V285H886zM916 285H921V288H916zM846 288H851V291H846zM896 288H901V291H896zM911 288H916V291H911z"/>
<path fill="#b7d58d" d="M836 120H841V123H836zM911 120H916V123H911zM841 123H846V126H841zM916 123H921V126H916zM826 126H836V129H826zM841 126H846V129H841zM901 126H906V129H901zM911 126H916V129H911zM921 126H926V129H921zM821 129H826V132H821zM901 129H906V132H901zM921 129H926V132H921zM816 132H821V135H816zM841 132H846V135H841zM926 132H931V135H926zM816 135H821V138H816zM836 135H841V138H836zM906 135H911V138H906zM931 135H936V138H931zM911 138H916V141H911zM931 138H936V141H931zM806 141H811V144H806zM911 141H916V144H911zM936 141H941V144H936zM911 144H916V147H911zM941 144H946V147H941zM831 147H836V150H831zM946 147H951V150H946zM796 150H801V153H796zM821 150H826V153H821zM946 150H951V153H946zM926 153H931V156H926zM951 153H956V156H951zM791 156H796V159H791zM811 156H816V159H811zM956 156H961V159H956zM786 159H791V162H786zM806 159H811V162H806zM936 159H946V162H936zM956 159H966V162H956zM781 162H786V165H781zM961 162H966V165H961zM781 165H786V168H781zM796 165H806V168H796zM946 165H951V168H946zM961 165H971V168H961zM771 168H781V171H771zM791 168H801V171H791zM946 168H956V171H946zM966 168H976V171H966zM771 171H776V174H771zM791 171H796V174H791zM951 171H956V174H951zM976 171H981V174H976zM771 174H791V177H771zM956 174H981V177H956zM766 177H781V180H766zM961 177H986V180H961zM761 180H771V183H761zM776 180H781V183H776zM966 180H991V183H966zM756 183H776V186H756zM976 183H991V186H976zM746 192H761V195H746zM986 192H991V195H986zM996 192H1001V195H996zM751 198H756V201H751zM996 198H1001V201H996zM746 201H751V204H746zM736 207H746V210H736zM751 207H756V210H751zM761 207H766V210H761zM981 207H986V210H981zM991 207H996V210H991zM1006 207H1016V210H1006zM736 210H741V213H736zM751 210H756V213H751zM766 210H776V213H766zM976 210H986V213H976zM996 210H1016V213H996zM736 213H756V216H736zM771 213H776V216H771zM971 213H981V216H971zM996 213H1001V216H996zM1006 213H1011V216H1006zM736 216H741V219H736zM1011 216H1016V219H1011zM736 219H741V222H736zM786 219H791V222H786zM1006 219H1016V222H1006zM791 222H796V225H791zM956 222H961V225H956zM746 225H751V228H746zM796 225H801V228H796zM946 225H951V228H946zM1001 225H1011V228H1001zM746 228H751V231H746zM941 228H946V231H941zM746 231H751V234H746zM811 231H816V234H811zM996 231H1001V234H996zM751 234H756V237H751zM816 234H821V237H816zM996 234H1001V237H996zM756 237H761V240H756zM821 237H826V240H821zM761 240H766V243H761zM986 240H991V243H986zM766 243H771V246H766zM911 243H916V246H911zM771 246H776V249H771zM906 246H911V249H906zM901 249H906V252H901zM966 249H971V252H966zM961 252H966V255H961zM856 255H861V258H856zM956 255H961V258H956zM886 258H891V261H886zM796 261H801V264H796zM861 261H866V264H861zM946 261H951V264H946zM806 264H811V267H806zM861 264H866V267H861zM811 267H816V270H811zM816 270H821V273H816zM931 270H936V273H931zM821 273H826V276H821zM861 276H866V279H861zM831 285H836V288H831zM891 285H896V288H891zM836 288H846V291H836zM901 288H911V291H901z"/>
<path fill="#dce191" d="M831 123H841V126H831zM906 123H916V126H906zM836 126H841V129H836zM906 126H911V129H906zM916 126H921V129H916zM826 129H831V132H826zM836 129H846V132H836zM821 132H826V135H821zM836 132H841V135H836zM906 132H911V135H906zM921 132H926V135H921zM821 135H826V138H821zM831 135H836V138H831zM911 135H916V138H911zM926 135H931V138H926zM816 138H836V141H816zM916 138H921V141H916zM926 138H931V141H926zM811 141H816V144H811zM806 144H811V147H806zM831 144H836V147H831zM801 147H806V150H801zM826 147H831V150H826zM916 147H921V150H916zM941 147H946V150H941zM801 150H811V153H801zM816 150H821V153H816zM926 150H936V153H926zM796 153H806V156H796zM816 153H821V156H816zM931 153H936V156H931zM946 153H951V156H946zM796 156H811V159H796zM936 156H941V159H936zM951 156H956V159H951zM791 159H806V162H791zM946 159H956V162H946zM786 162H791V165H786zM801 162H811V165H801zM941 162H946V165H941zM956 162H961V165H956zM786 165H796V168H786zM951 165H961V168H951zM781 168H791V171H781zM956 168H966V171H956zM776 171H791V174H776zM956 171H976V174H956zM771 180H776V183H771zM746 207H751V210H746zM756 207H761V210H756zM996 207H1006V210H996zM741 210H751V213H741zM756 210H766V213H756zM986 210H996V213H986zM756 213H771V216H756zM981 213H996V216H981zM1001 213H1006V216H1001zM741 216H756V219H741zM776 216H781V219H776zM966 216H976V219H966zM996 216H1011V219H996zM741 219H746V222H741zM961 219H966V222H961zM1001 219H1006V222H1001zM741 222H751V225H741zM786 222H791V225H786zM1001 222H1006V225H1001zM741 225H746V228H741zM951 225H956V228H951zM801 228H806V231H801zM946 228H951V231H946zM996 228H1001V231H996zM751 231H756V234H751zM936 231H941V234H936zM931 234H936V237H931zM991 234H996V237H991zM761 237H766V240H761zM926 237H931V240H926zM986 237H991V240H986zM826 240H831V243H826zM981 240H986V243H981zM771 243H776V246H771zM831 243H836V246H831zM976 243H981V246H976zM971 246H976V249H971zM781 249H786V252H781zM786 252H791V255H786zM896 252H901V255H896zM791 255H796V258H791zM891 255H896V258H891zM951 258H956V261H951zM801 261H806V264H801zM936 264H941V267H936zM861 267H866V270H861zM931 267H936V270H931zM861 270H866V273H861zM861 273H866V276H861zM921 276H926V279H921zM826 279H831V282H826zM886 279H891V282H886zM856 282H861V285H856zM916 282H921V285H916zM851 285H856V288H851zM911 285H916V288H911z"/>
<path fill="#e3d88c" d="M831 129H836V132H831zM906 129H921V132H906zM826 132H836V135H826zM911 132H921V135H911zM826 135H831V138H826zM916 135H926V138H916zM921 138H926V141H921zM816 141H836V144H816zM916 141H926V144H916zM931 141H936V144H931zM811 144H821V147H811zM826 144H831V147H826zM916 144H921V147H916zM931 144H941V147H931zM806 147H811V150H806zM816 147H826V150H816zM921 147H926V150H921zM931 147H941V150H931zM811 150H816V153H811zM936 150H946V153H936zM806 153H816V156H806zM936 153H946V156H936zM941 156H951V159H941zM791 162H801V165H791zM946 162H956V165H946zM756 216H766V219H756zM771 216H776V219H771zM976 216H981V219H976zM991 216H996V219H991zM746 219H756V222H746zM781 219H786V222H781zM966 219H971V222H966zM996 219H1001V222H996zM751 222H756V225H751zM961 222H966V225H961zM996 222H1001V225H996zM751 225H756V228H751zM791 225H796V228H791zM996 225H1001V228H996zM751 228H756V231H751zM806 231H811V234H806zM941 231H946V234H941zM991 231H996V234H991zM811 234H816V237H811zM766 240H771V243H766zM921 240H926V243H921zM916 243H921V246H916zM776 246H781V249H776zM836 246H841V249H836zM911 246H916V249H911zM841 249H846V252H841zM906 249H911V252H906zM961 249H966V252H961zM796 258H801V261H796zM886 261H891V264H886zM811 264H816V267H811zM816 267H821V270H816zM926 270H931V273H926zM886 273H891V276H886zM921 273H926V276H921zM826 276H831V279H826zM886 276H891V279H886zM916 279H921V282H916zM831 282H836V285H831zM891 282H896V285H891zM836 285H841V288H836zM896 285H901V288H896z"/>
<path fill="#d5c183" d="M926 141H931V144H926zM821 144H826V147H821zM921 144H931V147H921zM811 147H816V150H811zM926 147H931V150H926zM766 216H771V219H766zM981 216H991V219H981zM756 219H761V222H756zM776 219H781V222H776zM991 219H996V222H991zM781 222H786V225H781zM991 222H996V225H991zM956 225H961V228H956zM991 225H996V228H991zM796 228H801V231H796zM951 228H956V231H951zM991 228H996V231H991zM756 231H761V234H756zM756 234H761V237H756zM986 234H991V237H986zM816 237H821V240H816zM931 237H936V240H931zM981 237H986V240H981zM821 240H826V243H821zM976 240H981V243H976zM776 243H781V246H776zM826 243H831V246H826zM971 243H976V246H971zM966 246H971V249H966zM791 252H796V255H791zM846 252H851V255H846zM901 252H906V255H901zM956 252H961V255H956zM796 255H801V258H796zM851 255H856V258H851zM951 255H956V258H951zM856 258H861V261H856zM946 258H951V261H946zM941 261H946V264H941zM886 264H891V267H886zM821 270H826V273H821zM856 279H861V282H856zM841 285H851V288H841zM901 285H911V288H901z"/>
<path fill="#c3a778" d="M761 219H776V222H761zM971 219H991V222H971zM756 222H766V225H756zM776 222H781V225H776zM966 222H971V225H966zM986 222H991V225H986zM756 225H761V228H756zM786 225H791V228H786zM756 228H761V231H756zM791 228H796V231H791zM986 228H991V231H986zM801 231H806V234H801zM986 231H991V234H986zM761 234H766V237H761zM936 234H941V237H936zM766 237H771V240H766zM811 237H816V240H811zM976 237H981V240H976zM771 240H776V243H771zM926 240H931V243H926zM921 243H926V246H921zM781 246H786V249H781zM831 246H836V249H831zM786 249H791V252H786zM836 249H841V252H836zM956 249H961V252H956zM801 258H806V261H801zM806 261H811V264H806zM931 264H936V267H931zM886 267H891V270H886zM926 267H931V270H926zM886 270H891V273H886zM826 273H831V276H826zM916 276H921V279H916zM851 282H856V285H851z"/>
<path fill="#ab8968" d="M766 222H771V225H766zM971 222H976V225H971zM981 222H986V225H981zM761 225H766V228H761zM781 225H786V228H781zM961 225H971V228H961zM986 225H991V228H986zM761 228H766V231H761zM786 228H791V231H786zM956 228H961V231H956zM761 231H766V234H761zM796 231H801V234H796zM946 231H951V234H946zM806 234H811V237H806zM941 234H946V237H941zM771 237H776V240H771zM971 240H976V243H971zM781 243H786V246H781zM966 243H971V246H966zM916 246H921V249H916zM961 246H966V249H961zM791 249H796V252H791zM841 252H846V255H841zM951 252H956V255H951zM896 255H901V258H896zM946 255H951V258H946zM891 258H896V261H891zM941 258H946V261H941zM936 261H941V264H936zM816 264H821V267H816zM921 270H926V273H921zM831 279H836V282H831zM911 282H916V285H911z"/>
<path fill="#936b59" d="M771 222H776V225H771zM976 222H981V225H976zM776 225H781V228H776zM971 225H976V228H971zM981 225H986V228H981zM961 228H966V231H961zM981 228H986V231H981zM791 231H796V234H791zM951 231H956V234H951zM981 231H986V234H981zM766 234H771V237H766zM981 234H986V237H981zM936 237H941V240H936zM971 237H976V240H971zM776 240H781V243H776zM816 240H821V243H816zM821 243H826V246H821zM961 243H966V246H961zM786 246H791V249H786zM911 249H916V252H911zM796 252H801V255H796zM906 252H911V255H906zM801 255H806V258H801zM811 261H816V264H811zM856 261H861V264H856zM821 267H826V270H821zM856 276H861V279H856zM891 279H896V282H891zM836 282H841V285H836zM896 282H901V285H896z"/>
<path fill="#845a52" d="M766 225H776V228H766zM766 228H771V231H766zM781 228H786V231H781zM966 228H981V231H966zM766 231H771V234H766zM786 231H791V234H786zM956 231H966V234H956zM771 234H776V237H771zM801 234H806V237H801zM946 234H951V237H946zM976 234H981V237H976zM776 237H781V240H776zM806 237H811V240H806zM966 237H971V240H966zM781 240H786V243H781zM931 240H936V243H931zM966 240H971V243H966zM786 243H791V246H786zM926 243H931V246H926zM826 246H831V249H826zM956 246H961V249H956zM831 249H836V252H831zM951 249H956V252H951zM946 252H951V255H946zM846 255H851V258H846zM806 258H811V261H806zM856 273H861V276H856zM916 273H921V276H916zM831 276H836V279H831zM911 279H916V282H911zM846 282H851V285H846zM906 282H911V285H906z"/>
<path fill="#815855" d="M976 225H981V228H976zM771 228H781V231H771zM771 231H786V234H771zM966 231H981V234H966zM796 234H801V237H796zM951 234H956V237H951zM971 234H976V237H971zM781 237H791V240H781zM941 237H946V240H941zM961 237H966V240H961zM786 240H791V243H786zM961 240H966V243H961zM816 243H821V246H816zM791 246H796V249H791zM921 246H926V249H921zM796 249H801V252H796zM916 249H921V252H916zM836 252H841V255H836zM901 255H906V258H901zM941 255H946V258H941zM851 258H856V261H851zM936 258H941V261H936zM891 261H896V264H891zM931 261H936V264H931zM856 264H861V267H856zM926 264H931V267H926zM921 267H926V270H921zM826 270H831V273H826zM836 279H841V282H836zM841 282H846V285H841zM901 282H906V285H901z"/>
<path fill="#896360" d="M776 234H796V237H776zM956 234H971V237H956zM791 237H796V240H791zM801 237H806V240H801zM956 237H961V240H956zM811 240H816V243H811zM936 240H941V243H936zM791 243H796V246H791zM956 243H961V246H956zM821 246H826V249H821zM801 252H806V255H801zM806 255H811V258H806zM821 264H826V267H821zM856 267H861V270H856zM831 273H836V276H831zM911 276H916V279H911zM851 279H856V282H851z"/>
<path fill="#916e6b" d="M796 237H801V240H796zM946 237H956V240H946zM791 240H796V243H791zM806 240H811V243H806zM941 240H946V243H941zM956 240H961V243H956zM931 243H936V246H931zM951 243H956V246H951zM951 246H956V249H951zM801 249H806V252H801zM826 249H831V252H826zM946 249H951V252H946zM911 252H916V255H911zM841 255H846V258H841zM811 258H816V261H811zM896 258H901V261H896zM816 261H821V264H816zM826 267H831V270H826zM856 270H861V273H856zM916 270H921V273H916zM891 276H896V279H891z"/>
<path fill="#997976" d="M796 240H806V243H796zM946 240H956V243H946zM796 243H801V246H796zM811 243H816V246H811zM796 246H801V249H796zM926 246H931V249H926zM921 249H926V252H921zM831 252H836V255H831zM941 252H946V255H941zM936 255H941V258H936zM931 258H936V261H931zM926 261H931V264H926zM891 264H896V267H891zM921 264H926V267H921zM891 273H896V276H891zM841 279H846V282H841zM896 279H901V282H896zM906 279H911V282H906z"/>
<path fill="#a48684" d="M801 243H806V246H801zM936 243H941V246H936zM946 243H951V246H946zM816 246H821V249H816zM946 246H951V249H946zM941 249H946V252H941zM806 252H811V255H806zM811 255H816V258H811zM906 255H911V258H906zM816 258H821V261H816zM831 270H836V273H831zM836 276H841V279H836zM846 279H851V282H846z"/>
<path fill="#af9594" d="M806 243H811V246H806zM941 243H946V246H941zM801 246H806V249H801zM931 246H936V249H931zM941 246H946V249H941zM806 249H811V252H806zM821 249H826V252H821zM916 252H921V255H916zM936 252H941V255H936zM836 255H841V258H836zM846 258H851V261H846zM821 261H826V264H821zM826 264H831V267H826zM891 267H896V270H891zM916 267H921V270H916zM911 273H916V276H911zM901 279H906V282H901z"/>
<path fill="#baa4a3" d="M806 246H816V249H806zM936 246H941V249H936zM811 249H821V252H811zM926 249H941V252H926zM811 252H816V255H811zM826 252H831V255H826zM816 255H821V258H816zM911 255H916V258H911zM931 255H936V258H931zM926 258H931V261H926zM851 261H856V264H851zM891 270H896V273H891zM851 276H856V279H851z"/>
<path fill="#c5b2b2" d="M816 252H821V255H816zM921 252H926V255H921zM931 252H936V255H931zM901 258H906V261H901zM921 261H926V264H921zM831 267H836V270H831zM836 273H841V276H836zM906 276H911V279H906z"/>
<path fill="#d0c1c1" d="M821 252H826V255H821zM926 252H931V255H926zM821 255H826V258H821zM831 255H836V258H831zM916 255H921V258H916zM926 255H931V258H926zM821 258H826V261H821zM841 258H846V261H841zM896 261H901V264H896zM916 264H921V267H916zM911 270H916V273H911zM896 276H901V279H896z"/>
<path fill="#dacece" d="M826 255H831V258H826zM921 255H926V258H921zM906 258H911V261H906zM921 258H926V261H921zM826 261H831V264H826zM851 264H856V267H851zM851 273H856V276H851zM841 276H846V279H841z"/>
<path fill="#e5dbdb" d="M826 258H841V261H826zM916 261H921V264H916zM831 264H836V267H831zM846 276H851V279H846zM901 276H906V279H901z"/>
<path fill="#efe9e9" d="M911 258H921V261H911zM846 261H851V264H846zM911 267H916V270H911zM836 270H841V273H836zM906 273H911V276H906z"/>
<path fill="#faf6f6" d="M831 261H846V264H831zM901 261H916V264H901zM836 264H851V267H836zM896 264H916V267H896zM836 267H856V270H836zM896 267H911V270H896zM841 270H856V273H841zM896 270H911V273H896zM841 273H851V276H841zM896 273H906V276H896z"/>
</g>
<g shape-rendering="crispEdges">
<path fill="#3fa775" d="M723 534H738V537H723zM743 534H748V537H743zM753 534H758V537H753zM763 534H768V537H763zM963 534H968V537H963zM988 534H1018V537H988zM723 540H748V543H723zM753 540H773V543H753zM963 540H1013V543H963zM723 543H758V546H723zM983 543H993V546H983zM998 543H1018V546H998zM728 546H733V549H728zM738 546H743V549H738zM993 546H1003V549H993zM1013 546H1018V549H1013zM723 549H743V552H723zM748 549H753V552H748zM993 549H1018V552H993zM723 552H753V555H723zM983 552H988V555H983zM993 552H1018V555H993zM723 555H738V558H723zM743 555H748V558H743zM998 555H1018V558H998zM723 558H728V561H723zM733 558H768V561H733zM958 558H968V561H958zM973 558H1003V561H973zM1008 558H1018V561H1008zM723 561H748V564H723zM753 561H763V564H753zM978 561H1018V564H978zM723 564H738V567H723zM748 564H753V567H748zM758 564H763V567H758zM988 564H1018V567H988zM723 567H733V570H723zM738 567H763V570H738zM768 567H773V570H768zM953 567H958V570H953zM963 567H968V570H963zM973 567H1008V570H973zM743 570H748V573H743zM753 570H788V573H753zM948 570H958V573H948zM963 570H993V573H963zM723 573H728V576H723zM733 573H738V576H733zM748 573H773V576H748zM783 573H788V576H783zM953 573H983V576H953zM988 573H993V576H988zM998 573H1003V576H998zM1013 573H1018V576H1013zM783 576H788V579H783zM798 576H813V579H798zM823 576H838V579H823zM868 576H873V579H868zM903 576H923V579H903zM928 576H948V579H928zM953 576H963V579H953zM768 579H833V582H768zM838 579H843V582H838zM898 579H908V582H898zM913 579H928V582H913zM938 579H978V582H938zM843 582H868V585H843zM873 582H888V585H873zM858 585H863V588H858zM873 585H883V588H873zM878 588H883V591H878zM888 651H893V654H888zM863 654H868V657H863zM873 654H878V657H873zM883 654H888V657H883zM898 654H903V657H898zM833 657H858V660H833zM868 657H873V660H868zM878 657H903V660H878zM838 660H853V663H838zM858 660H863V663H858zM868 660H878V663H868zM893 660H903V663H893zM833 663H848V666H833zM903 663H908V666H903zM838 666H848V669H838zM898 666H903V669H898zM833 669H838V672H833zM908 669H913V672H908zM833 672H838V675H833zM903 672H908V675H903zM828 675H833V678H828zM903 675H913V678H903zM828 678H838V681H828zM908 678H913V681H908zM828 681H833V684H828zM908 681H913V684H908zM833 684H838V687H833zM903 684H913V687H903zM828 687H833V690H828zM908 687H918V690H908zM828 690H838V693H828zM908 690H913V693H908zM838 693H843V696H838zM893 693H903V696H893zM833 696H848V699H833zM903 696H908V699H903zM843 699H853V702H843zM868 699H878V702H868zM888 699H903V702H888zM848 702H858V705H848zM868 702H873V705H868zM883 702H898V705H883zM848 705H858V708H848zM863 705H868V708H863zM873 705H888V708H873zM858 708H863V711H858zM873 708H878V711H873zM723 765H728V768H723zM733 765H753V768H733zM758 765H768V768H758zM958 765H968V768H958zM978 765H1013V768H978zM723 768H733V771H723zM753 768H758V771H753zM968 768H973V771H968zM723 771H728V774H723zM733 771H738V774H733zM948 771H958V774H948zM963 771H968V774H963zM978 774H983V777H978zM988 774H993V777H988zM723 777H748V780H723zM753 777H798V780H753zM803 777H808V780H803zM928 777H938V780H928zM943 777H963V780H943zM968 777H1003V780H968zM1008 777H1018V780H1008zM728 780H738V783H728zM743 780H813V783H743zM858 780H863V783H858zM928 780H948V783H928zM953 780H1008V783H953zM723 783H758V786H723zM763 783H783V786H763zM798 783H803V786H798zM808 783H828V786H808zM833 783H838V786H833zM848 783H858V786H848zM863 783H878V786H863zM883 783H893V786H883zM908 783H923V786H908zM933 783H938V786H933zM948 783H953V786H948zM978 783H1018V786H978zM723 786H778V789H723zM783 786H788V789H783zM808 786H838V789H808zM848 786H858V789H848zM868 786H873V789H868zM883 786H928V789H883zM933 786H943V789H933zM948 786H953V789H948zM958 786H993V789H958zM998 786H1003V789H998zM1008 786H1018V789H1008zM723 789H753V792H723zM758 789H763V792H758zM828 789H833V792H828zM893 789H898V792H893zM903 789H913V792H903zM953 789H958V792H953zM963 789H988V792H963zM993 789H1018V792H993zM723 792H768V795H723zM773 792H778V795H773zM898 792H903V795H898zM923 792H928V795H923zM963 792H1003V795H963zM1013 792H1018V795H1013zM728 795H768V798H728zM773 795H778V798H773zM953 795H958V798H953zM968 795H978V798H968zM983 795H1018V798H983zM723 798H733V801H723zM738 798H748V801H738zM753 798H758V801H753zM988 798H1018V801H988zM723 801H753V804H723zM758 801H763V804H758zM988 801H998V804H988zM1003 801H1018V804H1003zM723 804H743V807H723zM748 804H753V807H748zM993 804H1013V807H993zM728 807H743V810H728zM1003 807H1018V810H1003zM723 810H748V813H723zM753 810H758V813H753zM968 810H978V813H968zM988 810H1018V813H988zM723 816H733V819H723zM998 816H1003V819H998zM1008 816H1013V819H1008zM723 819H738V822H723zM743 819H753V822H743zM973 819H978V822H973zM988 819H1018V822H988zM723 822H728V825H723zM733 822H763V825H733zM978 822H983V825H978zM988 822H1008V825H988zM1013 822H1018V825H1013zM723 825H728V828H723zM743 825H748V828H743zM1003 825H1018V828H1003z"/>
<path fill="#3395a7" d="M738 534H743V537H738zM748 534H753V537H748zM758 534H763V537H758zM768 534H783V537H768zM788 534H798V537H788zM953 534H963V537H953zM968 534H988V537H968zM723 537H763V540H723zM978 537H983V540H978zM988 537H1018V540H988zM773 540H788V543H773zM793 540H798V543H793zM948 540H963V543H948zM758 543H783V546H758zM958 543H983V546H958zM993 543H998V546H993zM723 546H728V549H723zM733 546H738V549H733zM743 546H773V549H743zM958 546H993V549H958zM1003 546H1013V549H1003zM743 549H748V552H743zM753 549H783V552H753zM963 549H993V552H963zM753 552H778V555H753zM958 552H983V555H958zM988 552H993V555H988zM738 555H743V558H738zM748 555H783V558H748zM953 555H958V558H953zM963 555H998V558H963zM768 558H793V561H768zM948 558H958V561H948zM968 558H973V561H968zM748 561H753V564H748zM763 561H783V564H763zM958 561H978V564H958zM738 564H748V567H738zM753 564H758V567H753zM763 564H783V567H763zM953 564H988V567H953zM763 567H768V570H763zM773 567H793V570H773zM798 567H803V570H798zM933 567H938V570H933zM943 567H953V570H943zM958 567H963V570H958zM968 567H973V570H968zM788 570H823V573H788zM918 570H923V573H918zM933 570H948V573H933zM958 570H963V573H958zM773 573H783V576H773zM788 573H818V576H788zM913 573H953V576H913zM838 576H853V579H838zM863 576H868V579H863zM883 576H903V579H883zM833 579H838V582H833zM843 579H853V582H843zM868 579H878V582H868zM888 579H898V582H888zM908 579H913V582H908zM928 579H938V582H928zM858 657H868V660H858zM873 657H878V660H873zM853 660H858V663H853zM863 660H868V663H863zM878 660H893V663H878zM848 663H853V666H848zM868 663H878V666H868zM893 663H903V666H893zM848 666H853V669H848zM863 666H898V669H863zM838 669H843V672H838zM898 669H908V672H898zM838 672H853V675H838zM893 672H903V675H893zM833 675H838V678H833zM898 675H903V678H898zM838 678H843V681H838zM898 678H908V681H898zM833 681H838V684H833zM898 681H908V684H898zM838 684H848V687H838zM893 684H903V687H893zM833 687H843V690H833zM903 687H908V690H903zM838 690H843V693H838zM898 690H908V693H898zM843 693H853V696H843zM863 693H878V696H863zM888 693H893V696H888zM848 696H853V699H848zM868 696H873V699H868zM893 696H903V699H893zM853 699H868V702H853zM878 699H888V702H878zM858 702H868V705H858zM873 702H883V705H873zM858 705H863V708H858zM758 783H763V786H758zM783 783H798V786H783zM803 783H808V786H803zM858 783H863V786H858zM878 783H883V786H878zM923 783H933V786H923zM938 783H948V786H938zM953 783H978V786H953zM778 786H783V789H778zM788 786H808V789H788zM858 786H868V789H858zM873 786H883V789H873zM928 786H933V789H928zM943 786H948V789H943zM953 786H958V789H953zM753 789H758V792H753zM763 789H828V792H763zM833 789H858V792H833zM863 789H873V792H863zM883 789H893V792H883zM898 789H903V792H898zM913 789H953V792H913zM958 789H963V792H958zM768 792H773V795H768zM778 792H853V795H778zM868 792H873V795H868zM893 792H898V795H893zM903 792H923V795H903zM928 792H963V795H928zM768 795H773V798H768zM778 795H813V798H778zM818 795H823V798H818zM833 795H843V798H833zM908 795H953V798H908zM958 795H968V798H958zM978 795H983V798H978zM733 798H738V801H733zM748 798H753V801H748zM758 798H783V801H758zM793 798H798V801H793zM953 798H988V801H953zM753 801H758V804H753zM763 801H783V804H763zM948 801H958V804H948zM968 801H988V804H968zM998 801H1003V804H998zM743 804H748V807H743zM753 804H783V807H753zM958 804H993V807H958zM1013 804H1018V807H1013zM723 807H728V810H723zM743 807H783V810H743zM958 807H1003V810H958zM748 810H753V813H748zM758 810H788V813H758zM953 810H968V813H953zM978 810H988V813H978zM728 813H738V816H728zM988 813H993V816H988zM998 813H1018V816H998zM733 816H773V819H733zM778 816H788V819H778zM973 816H998V819H973zM1003 816H1008V819H1003zM1013 816H1018V819H1013zM738 819H743V822H738zM753 819H783V822H753zM958 819H973V822H958zM978 819H988V822H978zM763 822H793V825H763zM953 822H978V825H953zM983 822H988V825H983zM728 825H743V828H728zM748 825H763V828H748zM768 825H773V828H768zM973 825H1003V828H973z"/>
<path fill="#387bbe" d="M783 534H788V537H783zM798 534H808V537H798zM818 534H823V537H818zM928 534H933V537H928zM938 534H953V537H938zM763 537H798V540H763zM948 537H978V540H948zM983 537H988V540H983zM788 540H793V543H788zM798 540H808V543H798zM933 540H948V543H933zM783 543H803V546H783zM943 543H958V546H943zM773 546H793V549H773zM943 546H948V549H943zM953 546H958V549H953zM783 549H798V552H783zM933 549H963V552H933zM778 552H803V555H778zM938 552H958V555H938zM783 555H793V558H783zM798 555H803V558H798zM948 555H953V558H948zM958 555H963V558H958zM793 558H813V561H793zM928 558H948V561H928zM783 561H813V564H783zM923 561H958V564H923zM783 564H813V567H783zM928 564H933V567H928zM938 564H953V567H938zM793 567H798V570H793zM803 567H833V570H803zM913 567H933V570H913zM938 567H943V570H938zM823 570H853V573H823zM868 570H873V573H868zM893 570H918V573H893zM923 570H933V573H923zM818 573H848V576H818zM868 573H873V576H868zM893 573H913V576H893zM853 576H863V579H853zM873 576H883V579H873zM853 579H868V582H853zM878 579H888V582H878zM853 663H868V666H853zM878 663H893V666H878zM853 666H863V669H853zM843 669H853V672H843zM858 669H863V672H858zM868 669H873V672H868zM878 669H883V672H878zM888 669H898V672H888zM853 672H873V675H853zM883 672H893V675H883zM838 675H863V678H838zM868 675H873V678H868zM878 675H883V678H878zM888 675H898V678H888zM843 678H853V681H843zM868 678H873V681H868zM893 678H898V681H893zM838 681H853V684H838zM868 681H873V684H868zM888 681H898V684H888zM848 684H858V687H848zM868 684H873V687H868zM883 684H893V687H883zM843 687H853V690H843zM868 687H873V690H868zM888 687H903V690H888zM843 690H853V693H843zM868 690H873V693H868zM888 690H898V693H888zM853 693H863V696H853zM878 693H888V696H878zM853 696H868V699H853zM873 696H893V699H873zM858 789H863V792H858zM873 789H883V792H873zM853 792H868V795H853zM873 792H893V795H873zM813 795H818V798H813zM823 795H833V798H823zM843 795H853V798H843zM858 795H908V798H858zM783 798H793V801H783zM798 798H823V801H798zM828 798H838V801H828zM868 798H873V801H868zM898 798H903V801H898zM908 798H953V801H908zM783 801H818V804H783zM933 801H938V804H933zM943 801H948V804H943zM958 801H968V804H958zM783 804H813V807H783zM933 804H958V807H933zM783 807H803V810H783zM813 807H818V810H813zM943 807H958V810H943zM788 810H813V813H788zM868 810H873V813H868zM933 810H953V813H933zM723 813H728V816H723zM738 813H778V816H738zM963 813H988V816H963zM993 813H998V816H993zM773 816H778V819H773zM788 816H793V819H788zM938 816H973V819H938zM783 819H803V822H783zM943 819H958V822H943zM793 822H818V825H793zM938 822H953V825H938zM763 825H768V828H763zM773 825H798V828H773zM943 825H973V828H943z"/>
<path fill="#3266b0" d="M808 534H818V537H808zM828 534H838V537H828zM868 534H873V537H868zM898 534H903V537H898zM913 534H928V537H913zM933 534H938V537H933zM798 537H813V540H798zM818 537H823V540H818zM868 537H873V540H868zM933 537H948V540H933zM808 540H833V543H808zM868 540H873V543H868zM903 540H933V543H903zM803 543H828V546H803zM913 543H918V546H913zM923 543H943V546H923zM793 546H813V549H793zM923 546H943V549H923zM948 546H953V549H948zM798 549H823V552H798zM868 549H873V552H868zM923 549H933V552H923zM803 552H818V555H803zM918 552H938V555H918zM793 555H798V558H793zM803 555H818V558H803zM923 555H948V558H923zM813 558H833V561H813zM868 558H873V561H868zM898 558H928V561H898zM813 561H838V564H813zM868 561H873V564H868zM903 561H923V564H903zM813 564H838V567H813zM863 564H873V567H863zM903 564H928V567H903zM933 564H938V567H933zM833 567H853V570H833zM863 567H878V570H863zM883 567H888V570H883zM893 567H913V570H893zM853 570H868V573H853zM873 570H893V573H873zM848 573H868V576H848zM873 573H893V576H873zM853 669H858V672H853zM863 669H868V672H863zM873 669H878V672H873zM883 669H888V672H883zM873 672H883V675H873zM863 675H868V678H863zM873 675H878V678H873zM883 675H888V678H883zM853 678H868V681H853zM873 678H893V681H873zM853 681H868V684H853zM873 681H888V684H873zM858 684H868V687H858zM873 684H883V687H873zM853 687H868V690H853zM873 687H888V690H873zM853 690H868V693H853zM873 690H888V693H873zM853 795H858V798H853zM823 798H828V801H823zM838 798H868V801H838zM873 798H898V801H873zM903 798H908V801H903zM818 801H858V804H818zM868 801H873V804H868zM893 801H933V804H893zM938 801H943V804H938zM813 804H838V807H813zM843 804H848V807H843zM868 804H873V807H868zM913 804H933V807H913zM803 807H813V810H803zM818 807H828V810H818zM868 807H873V810H868zM908 807H913V810H908zM918 807H943V810H918zM813 810H848V813H813zM863 810H868V813H863zM873 810H878V813H873zM908 810H933V813H908zM778 813H803V816H778zM928 813H933V816H928zM943 813H963V816H943zM793 816H813V819H793zM818 816H823V819H818zM868 816H873V819H868zM923 816H938V819H923zM803 819H823V822H803zM828 819H833V822H828zM868 819H873V822H868zM913 819H943V822H913zM818 822H843V825H818zM868 822H873V825H868zM908 822H938V825H908zM798 825H818V828H798zM828 825H833V828H828zM868 825H873V828H868zM918 825H943V828H918z"/>
<path fill="#2e57a5" d="M823 534H828V537H823zM838 534H868V537H838zM873 534H898V537H873zM903 534H913V537H903zM813 537H818V540H813zM823 537H833V540H823zM903 537H933V540H903zM833 540H868V543H833zM873 540H878V543H873zM883 540H903V543H883zM828 543H848V546H828zM863 543H878V546H863zM888 543H893V546H888zM898 543H913V546H898zM918 543H923V546H918zM813 546H828V549H813zM833 546H838V549H833zM863 546H873V549H863zM893 546H898V549H893zM903 546H923V549H903zM823 549H843V552H823zM863 549H868V552H863zM888 549H898V552H888zM903 549H923V552H903zM818 552H843V555H818zM868 552H873V555H868zM903 552H918V555H903zM818 555H848V558H818zM863 555H873V558H863zM908 555H923V558H908zM833 558H858V561H833zM863 558H868V561H863zM873 558H878V561H873zM883 558H888V561H883zM893 558H898V561H893zM838 561H853V564H838zM863 561H868V564H863zM873 561H878V564H873zM883 561H888V564H883zM893 561H903V564H893zM838 564H848V567H838zM873 564H883V567H873zM888 564H903V567H888zM853 567H863V570H853zM878 567H883V570H878zM888 567H893V570H888zM858 801H868V804H858zM873 801H893V804H873zM838 804H843V807H838zM848 804H858V807H848zM863 804H868V807H863zM873 804H913V807H873zM828 807H853V810H828zM863 807H868V810H863zM873 807H878V810H873zM888 807H908V810H888zM913 807H918V810H913zM848 810H863V813H848zM878 810H908V813H878zM803 813H818V816H803zM823 813H828V816H823zM933 813H943V816H933zM813 816H818V819H813zM823 816H838V819H823zM843 816H848V819H843zM863 816H868V819H863zM893 816H923V819H893zM823 819H828V822H823zM833 819H843V822H833zM863 819H868V822H863zM873 819H878V822H873zM893 819H913V822H893zM843 822H868V825H843zM873 822H908V825H873zM818 825H828V828H818zM833 825H838V828H833zM853 825H858V828H853zM863 825H868V828H863zM873 825H878V828H873zM883 825H898V828H883zM903 825H918V828H903z"/>
<path fill="#2b4a9b" d="M833 537H868V540H833zM873 537H903V540H873zM878 540H883V543H878zM848 543H863V546H848zM878 543H888V546H878zM893 543H898V546H893zM828 546H833V549H828zM838 546H863V549H838zM873 546H893V549H873zM898 546H903V549H898zM843 549H863V552H843zM873 549H888V552H873zM898 549H903V552H898zM843 552H868V555H843zM873 552H903V555H873zM848 555H863V558H848zM873 555H908V558H873zM858 558H863V561H858zM878 558H883V561H878zM888 558H893V561H888zM853 561H863V564H853zM878 561H883V564H878zM888 561H893V564H888zM848 564H863V567H848zM883 564H888V567H883zM858 804H863V807H858zM853 807H863V810H853zM878 807H888V810H878zM818 813H823V816H818zM828 813H928V816H828zM838 816H843V819H838zM848 816H863V819H848zM873 816H893V819H873zM843 819H863V822H843zM878 819H893V822H878zM838 825H853V828H838zM858 825H863V828H858zM878 825H883V828H878zM898 825H903V828H898z"/>
<path fill="#4dad6b" d="M748 540H753V543H748zM1013 540H1018V543H1013zM728 558H733V561H728zM1003 558H1008V561H1003zM733 567H738V570H733zM1008 567H1018V570H1008zM723 570H743V573H723zM748 570H753V573H748zM993 570H1018V573H993zM728 573H733V576H728zM738 573H748V576H738zM983 573H988V576H983zM993 573H998V576H993zM1003 573H1013V576H1003zM743 576H748V579H743zM753 576H783V579H753zM788 576H798V579H788zM813 576H823V579H813zM923 576H928V579H923zM948 576H953V579H948zM963 576H978V579H963zM983 576H993V579H983zM723 579H733V582H723zM738 579H768V582H738zM978 579H1003V582H978zM1008 579H1018V582H1008zM783 582H813V585H783zM833 582H843V585H833zM868 582H873V585H868zM888 582H903V585H888zM908 582H913V585H908zM918 582H923V585H918zM933 582H938V585H933zM943 582H948V585H943zM958 582H968V585H958zM793 585H803V588H793zM813 585H818V588H813zM843 585H858V588H843zM863 585H873V588H863zM883 585H898V588H883zM933 585H943V588H933zM948 585H953V588H948zM768 588H798V591H768zM803 588H808V591H803zM813 588H818V591H813zM848 588H878V591H848zM883 588H898V591H883zM928 588H953V591H928zM958 588H978V591H958zM858 591H863V594H858zM878 591H883V594H878zM898 639H903V642H898zM893 645H898V648H893zM833 651H868V654H833zM873 651H883V654H873zM893 651H908V654H893zM833 654H863V657H833zM868 654H873V657H868zM878 654H883V657H878zM888 654H898V657H888zM903 657H908V660H903zM833 660H838V663H833zM903 660H908V663H903zM828 663H833V666H828zM908 663H913V666H908zM833 666H838V669H833zM903 666H913V669H903zM828 669H833V672H828zM913 669H918V672H913zM828 672H833V675H828zM908 672H913V675H908zM913 675H918V678H913zM823 678H828V681H823zM913 678H918V681H913zM823 681H828V684H823zM913 681H918V684H913zM823 684H833V687H823zM823 687H828V690H823zM823 690H828V693H823zM913 690H918V693H913zM833 693H838V696H833zM903 693H913V696H903zM828 696H833V699H828zM908 696H913V699H908zM838 699H843V702H838zM838 702H848V705H838zM898 702H903V705H898zM843 705H848V708H843zM868 705H873V708H868zM888 705H893V708H888zM848 708H858V711H848zM863 708H868V711H863zM878 708H888V711H878zM858 711H863V714H858zM873 711H883V714H873zM733 738H738V741H733zM1003 738H1018V741H1003zM723 747H728V750H723zM733 747H738V750H733zM1013 747H1018V750H1013zM723 756H738V759H723zM743 756H753V759H743zM968 756H973V759H968zM978 756H983V759H978zM988 756H993V759H988zM998 756H1003V759H998zM973 759H983V762H973zM993 759H998V762H993zM1003 759H1008V762H1003zM723 762H728V765H723zM743 762H763V765H743zM963 762H968V765H963zM978 762H983V765H978zM988 762H1018V765H988zM728 765H733V768H728zM753 765H758V768H753zM768 765H808V768H768zM933 765H938V768H933zM943 765H958V768H943zM968 765H978V768H968zM1013 765H1018V768H1013zM733 768H753V771H733zM758 768H778V771H758zM783 768H798V771H783zM803 768H808V771H803zM938 768H943V771H938zM948 768H968V771H948zM973 768H1018V771H973zM728 771H733V774H728zM738 771H808V774H738zM938 771H948V774H938zM958 771H963V774H958zM968 771H1018V774H968zM723 774H798V777H723zM803 774H808V777H803zM813 774H818V777H813zM933 774H978V777H933zM983 774H988V777H983zM993 774H1018V777H993zM748 777H753V780H748zM798 777H803V780H798zM808 777H823V780H808zM858 777H863V780H858zM873 777H883V780H873zM913 777H918V780H913zM923 777H928V780H923zM938 777H943V780H938zM963 777H968V780H963zM1003 777H1008V780H1003zM723 780H728V783H723zM738 780H743V783H738zM813 780H833V783H813zM848 780H858V783H848zM863 780H888V783H863zM908 780H928V783H908zM948 780H953V783H948zM1008 780H1018V783H1008zM828 783H833V786H828zM838 783H848V786H838zM893 783H908V786H893zM838 786H848V789H838zM993 786H998V789H993zM1003 786H1008V789H1003zM988 789H993V792H988zM1003 792H1013V795H1003zM723 795H728V798H723zM728 822H733V825H728zM1008 822H1013V825H1008z"/>
<path fill="#57b26f" d="M723 576H743V579H723zM748 576H753V579H748zM978 576H983V579H978zM993 576H1018V579H993zM733 579H738V582H733zM1003 579H1008V582H1003zM738 582H743V585H738zM748 582H783V585H748zM813 582H833V585H813zM903 582H908V585H903zM913 582H918V585H913zM923 582H933V585H923zM938 582H943V585H938zM948 582H958V585H948zM968 582H1008V585H968zM1013 582H1018V585H1013zM723 585H738V588H723zM743 585H748V588H743zM758 585H793V588H758zM803 585H813V588H803zM818 585H843V588H818zM898 585H908V588H898zM913 585H933V588H913zM943 585H948V588H943zM953 585H993V588H953zM998 585H1003V588H998zM1008 585H1013V588H1008zM723 588H768V591H723zM798 588H803V591H798zM808 588H813V591H808zM818 588H823V591H818zM838 588H848V591H838zM918 588H928V591H918zM953 588H958V591H953zM978 588H1018V591H978zM748 591H773V594H748zM778 591H803V594H778zM848 591H858V594H848zM863 591H878V594H863zM883 591H893V594H883zM933 591H953V594H933zM958 591H983V594H958zM988 591H993V594H988zM863 594H868V597H863zM873 594H878V597H873zM833 633H843V636H833zM898 633H903V636H898zM833 639H848V642H833zM888 639H898V642H888zM903 639H908V642H903zM838 642H848V645H838zM888 642H903V645H888zM833 645H858V648H833zM863 645H868V648H863zM888 645H893V648H888zM898 645H908V648H898zM833 648H858V651H833zM873 648H878V651H873zM888 648H908V651H888zM868 651H873V654H868zM883 651H888V654H883zM908 651H913V654H908zM828 654H833V657H828zM903 654H908V657H903zM828 657H833V660H828zM908 657H913V660H908zM908 660H913V663H908zM823 663H828V666H823zM913 663H918V666H913zM823 666H833V669H823zM818 669H828V672H818zM918 669H923V672H918zM823 672H828V675H823zM913 672H918V675H913zM818 675H828V678H818zM818 678H823V681H818zM918 678H923V681H918zM818 681H823V684H818zM918 681H928V684H918zM818 684H823V687H818zM913 684H923V687H913zM813 687H823V690H813zM918 687H928V690H918zM813 690H823V693H813zM918 690H928V693H918zM823 693H833V696H823zM913 693H918V696H913zM818 696H828V699H818zM913 696H923V699H913zM828 699H838V702H828zM903 699H908V702H903zM833 702H838V705H833zM903 702H913V705H903zM833 705H843V708H833zM893 705H903V708H893zM838 708H848V711H838zM868 708H873V711H868zM888 708H903V711H888zM843 711H858V714H843zM863 711H873V714H863zM883 711H888V714H883zM853 714H868V717H853zM873 714H893V717H873zM858 717H868V720H858zM873 717H878V720H873zM723 732H728V735H723zM723 735H733V738H723zM738 735H743V738H738zM998 735H1003V738H998zM1008 735H1013V738H1008zM723 738H733V741H723zM738 738H758V741H738zM763 738H773V741H763zM963 738H1003V741H963zM723 741H733V744H723zM748 741H753V744H748zM988 741H1003V744H988zM1013 741H1018V744H1013zM723 744H733V747H723zM738 744H748V747H738zM983 744H988V747H983zM993 744H998V747H993zM1003 744H1018V747H1003zM728 747H733V750H728zM738 747H768V750H738zM773 747H783V750H773zM963 747H983V750H963zM988 747H1013V750H988zM723 750H768V753H723zM778 750H783V753H778zM953 750H958V753H953zM978 750H988V753H978zM993 750H1018V753H993zM723 753H753V756H723zM758 753H763V756H758zM978 753H1018V756H978zM738 756H743V759H738zM753 756H798V759H753zM943 756H948V759H943zM953 756H968V759H953zM973 756H978V759H973zM983 756H988V759H983zM993 756H998V759H993zM1003 756H1018V759H1003zM723 759H798V762H723zM948 759H958V762H948zM963 759H973V762H963zM983 759H993V762H983zM998 759H1003V762H998zM1008 759H1018V762H1008zM728 762H743V765H728zM763 762H803V765H763zM808 762H813V765H808zM928 762H933V765H928zM938 762H963V765H938zM968 762H978V765H968zM983 762H988V765H983zM808 765H813V768H808zM818 765H823V768H818zM923 765H933V768H923zM938 765H943V768H938zM778 768H783V771H778zM798 768H803V771H798zM808 768H818V771H808zM923 768H938V771H923zM943 768H948V771H943zM808 771H818V774H808zM858 771H868V774H858zM873 771H883V774H873zM923 771H938V774H923zM798 774H803V777H798zM808 774H813V777H808zM818 774H823V777H818zM858 774H883V777H858zM918 774H933V777H918zM823 777H838V780H823zM848 777H858V780H848zM863 777H873V780H863zM883 777H893V780H883zM908 777H913V780H908zM918 777H923V780H918zM833 780H848V783H833zM888 780H908V783H888z"/>
<path fill="#61b673" d="M723 582H738V585H723zM743 582H748V585H743zM1008 582H1013V585H1008zM738 585H743V588H738zM748 585H758V588H748zM908 585H913V588H908zM993 585H998V588H993zM1003 585H1008V588H1003zM1013 585H1018V588H1013zM823 588H838V591H823zM898 588H918V591H898zM723 591H748V594H723zM773 591H778V594H773zM803 591H818V594H803zM843 591H848V594H843zM893 591H898V594H893zM918 591H933V594H918zM953 591H958V594H953zM983 591H988V594H983zM993 591H1018V594H993zM743 594H753V597H743zM763 594H813V597H763zM848 594H863V597H848zM868 594H873V597H868zM878 594H883V597H878zM933 594H978V597H933zM983 594H1003V597H983zM1008 594H1018V597H1008zM728 597H733V600H728zM738 597H778V600H738zM783 597H808V600H783zM858 597H878V600H858zM928 597H1018V600H928zM723 600H738V603H723zM743 600H803V603H743zM863 600H878V603H863zM938 600H1003V603H938zM1013 600H1018V603H1013zM898 630H908V633H898zM843 633H848V636H843zM893 633H898V636H893zM903 633H913V636H903zM893 636H908V639H893zM828 639H833V642H828zM848 639H888V642H848zM908 639H913V642H908zM833 642H838V645H833zM848 642H868V645H848zM873 642H888V645H873zM903 642H908V645H903zM828 645H833V648H828zM858 645H863V648H858zM868 645H888V648H868zM908 645H913V648H908zM828 648H833V651H828zM858 648H873V651H858zM878 648H888V651H878zM908 648H913V651H908zM828 651H833V654H828zM908 654H918V657H908zM823 657H828V660H823zM913 657H918V660H913zM823 660H833V663H823zM913 660H918V663H913zM918 663H923V666H918zM818 666H823V669H818zM913 666H923V669H913zM813 669H818V672H813zM923 669H928V672H923zM818 672H823V675H818zM918 672H923V675H918zM813 675H818V678H813zM918 675H928V678H918zM808 678H818V681H808zM923 678H928V681H923zM808 681H818V684H808zM928 681H938V684H928zM813 684H818V687H813zM923 684H928V687H923zM808 687H813V690H808zM928 687H933V690H928zM808 690H813V693H808zM928 690H933V693H928zM818 693H823V696H818zM918 693H928V696H918zM813 696H818V699H813zM823 699H828V702H823zM908 699H918V702H908zM823 702H833V705H823zM913 702H918V705H913zM828 705H833V708H828zM903 705H908V708H903zM833 708H838V711H833zM903 708H908V711H903zM838 711H843V714H838zM888 711H903V714H888zM843 714H853V717H843zM868 714H873V717H868zM893 714H898V717H893zM853 717H858V720H853zM868 717H873V720H868zM878 717H893V720H878zM858 720H878V723H858zM723 723H728V726H723zM728 726H733V729H728zM723 729H738V732H723zM998 729H1003V732H998zM1008 729H1013V732H1008zM728 732H758V735H728zM768 732H783V735H768zM978 732H1018V735H978zM733 735H738V738H733zM743 735H768V738H743zM773 735H783V738H773zM958 735H998V738H958zM1003 735H1008V738H1003zM1013 735H1018V738H1013zM758 738H763V741H758zM773 738H798V741H773zM948 738H963V741H948zM733 741H748V744H733zM753 741H783V744H753zM788 741H793V744H788zM948 741H953V744H948zM958 741H988V744H958zM1003 741H1013V744H1003zM733 744H738V747H733zM748 744H793V747H748zM958 744H963V747H958zM968 744H983V747H968zM988 744H993V747H988zM998 744H1003V747H998zM768 747H773V750H768zM783 747H793V750H783zM798 747H808V750H798zM938 747H963V750H938zM983 747H988V750H983zM768 750H778V753H768zM783 750H793V753H783zM803 750H808V753H803zM938 750H953V753H938zM958 750H978V753H958zM988 750H993V753H988zM753 753H758V756H753zM763 753H798V756H763zM943 753H978V756H943zM798 756H813V759H798zM933 756H943V759H933zM948 756H953V759H948zM798 759H813V762H798zM928 759H948V762H928zM958 759H963V762H958zM803 762H808V765H803zM923 762H928V765H923zM933 762H938V765H933zM813 765H818V768H813zM858 765H868V768H858zM873 765H883V768H873zM913 765H923V768H913zM818 768H828V771H818zM858 768H883V771H858zM913 768H923V771H913zM818 771H828V774H818zM868 771H873V774H868zM883 771H888V774H883zM913 771H923V774H913zM823 774H828V777H823zM853 774H858V777H853zM883 774H893V777H883zM913 774H918V777H913zM843 777H848V780H843zM893 777H908V780H893z"/>
<path fill="#73bd7a" d="M818 591H828V594H818zM838 591H843V594H838zM898 591H903V594H898zM913 591H918V594H913zM723 594H743V597H723zM753 594H763V597H753zM813 594H818V597H813zM883 594H893V597H883zM923 594H933V597H923zM978 594H983V597H978zM1003 594H1008V597H1003zM723 597H728V600H723zM733 597H738V600H733zM778 597H783V600H778zM808 597H818V600H808zM853 597H858V600H853zM878 597H893V600H878zM923 597H928V600H923zM738 600H743V603H738zM803 600H813V603H803zM858 600H863V603H858zM878 600H883V603H878zM928 600H938V603H928zM1003 600H1013V603H1003zM723 603H733V606H723zM738 603H803V606H738zM863 603H878V606H863zM943 603H1003V606H943zM1008 603H1018V606H1008zM868 606H873V609H868zM723 609H738V612H723zM743 609H788V612H743zM863 609H878V612H863zM943 609H998V612H943zM1003 609H1018V612H1003zM838 621H843V624H838zM898 621H903V624H898zM833 624H843V627H833zM898 624H903V627H898zM833 627H848V630H833zM898 627H908V630H898zM828 630H853V633H828zM893 630H898V633H893zM828 633H833V636H828zM848 633H858V636H848zM863 633H878V636H863zM883 633H893V636H883zM828 636H853V639H828zM888 636H893V639H888zM828 642H833V645H828zM868 642H873V645H868zM908 642H913V645H908zM823 645H828V648H823zM913 645H918V648H913zM913 648H918V651H913zM823 651H828V654H823zM913 651H918V654H913zM823 654H828V657H823zM818 657H823V660H818zM818 660H823V663H818zM918 660H923V663H918zM813 663H823V666H813zM923 663H928V666H923zM803 669H813V672H803zM928 669H933V672H928zM813 672H818V675H813zM923 672H928V675H923zM808 675H813V678H808zM928 675H933V678H928zM803 678H808V681H803zM928 678H933V681H928zM803 681H808V684H803zM803 684H813V687H803zM928 684H933V687H928zM803 687H808V690H803zM933 687H938V690H933zM803 690H808V693H803zM933 690H938V693H933zM808 693H818V696H808zM928 693H933V696H928zM923 696H933V699H923zM818 699H823V702H818zM918 699H923V702H918zM818 702H823V705H818zM918 702H923V705H918zM823 705H828V708H823zM908 705H918V708H908zM828 708H833V711H828zM908 708H913V711H908zM903 711H908V714H903zM838 714H843V717H838zM998 714H1003V717H998zM1013 714H1018V717H1013zM723 717H733V720H723zM738 717H753V720H738zM843 717H853V720H843zM893 717H898V720H893zM983 717H993V720H983zM998 717H1008V720H998zM1013 717H1018V720H1013zM723 720H758V723H723zM853 720H858V723H853zM878 720H888V723H878zM988 720H1018V723H988zM728 723H743V726H728zM748 723H758V726H748zM763 723H768V726H763zM858 723H878V726H858zM968 723H978V726H968zM983 723H993V726H983zM998 723H1018V726H998zM723 726H728V729H723zM733 726H768V729H733zM963 726H968V729H963zM973 726H1018V729H973zM738 729H768V732H738zM968 729H998V732H968zM1003 729H1008V732H1003zM1013 729H1018V732H1013zM758 732H768V735H758zM783 732H788V735H783zM953 732H978V735H953zM768 735H773V738H768zM783 735H798V738H783zM943 735H958V738H943zM798 738H808V741H798zM933 738H948V741H933zM783 741H788V744H783zM793 741H803V744H793zM943 741H948V744H943zM953 741H958V744H953zM793 744H808V747H793zM933 744H958V747H933zM963 744H968V747H963zM793 747H798V750H793zM808 747H818V750H808zM928 747H938V750H928zM793 750H803V753H793zM808 750H818V753H808zM923 750H938V753H923zM798 753H818V756H798zM928 753H943V756H928zM813 756H823V759H813zM923 756H933V759H923zM813 759H823V762H813zM918 759H928V762H918zM813 762H823V765H813zM858 762H873V765H858zM878 762H883V765H878zM918 762H923V765H918zM823 765H828V768H823zM853 765H858V768H853zM868 765H873V768H868zM883 765H888V768H883zM853 768H858V771H853zM883 768H888V771H883zM828 771H833V774H828zM853 771H858V774H853zM888 771H893V774H888zM908 771H913V774H908zM828 774H833V777H828zM848 774H853V777H848zM903 774H913V777H903zM838 777H843V780H838z"/>
<path fill="#94c986" d="M828 591H838V594H828zM903 591H913V594H903zM818 594H823V597H818zM843 594H848V597H843zM893 594H898V597H893zM918 594H923V597H918zM818 597H823V600H818zM848 597H853V600H848zM918 597H923V600H918zM813 600H818V603H813zM853 600H858V603H853zM883 600H888V603H883zM923 600H928V603H923zM733 603H738V606H733zM803 603H813V606H803zM858 603H863V606H858zM878 603H883V606H878zM928 603H943V606H928zM1003 603H1008V606H1003zM723 606H733V609H723zM743 606H803V609H743zM863 606H868V609H863zM873 606H878V609H873zM943 606H1018V609H943zM738 609H743V612H738zM788 609H803V612H788zM858 609H863V612H858zM878 609H883V612H878zM938 609H943V612H938zM998 609H1003V612H998zM723 612H728V615H723zM733 612H743V615H733zM748 612H798V615H748zM863 612H878V615H863zM948 612H983V615H948zM993 612H1003V615H993zM1013 612H1018V615H1013zM723 615H743V618H723zM748 615H758V618H748zM763 615H788V618H763zM863 615H878V618H863zM943 615H948V618H943zM953 615H973V618H953zM978 615H993V618H978zM1008 615H1018V618H1008zM733 618H738V621H733zM753 618H758V621H753zM768 618H778V621H768zM783 618H788V621H783zM838 618H843V621H838zM863 618H878V621H863zM898 618H903V621H898zM963 618H968V621H963zM993 618H998V621H993zM743 621H748V624H743zM768 621H778V624H768zM833 621H838V624H833zM843 621H848V624H843zM863 621H878V624H863zM903 621H908V624H903zM953 621H958V624H953zM973 621H978V624H973zM988 621H993V624H988zM843 624H848V627H843zM868 624H878V627H868zM893 624H898V627H893zM903 624H908V627H903zM953 624H958V627H953zM828 627H833V630H828zM893 627H898V630H893zM908 627H913V630H908zM858 630H863V633H858zM868 630H883V633H868zM888 630H893V633H888zM908 630H913V633H908zM823 633H828V636H823zM858 633H863V636H858zM878 633H883V636H878zM913 633H918V636H913zM853 636H888V639H853zM908 636H913V639H908zM818 639H828V642H818zM913 639H918V642H913zM823 642H828V645H823zM913 642H918V645H913zM823 648H828V651H823zM818 651H823V654H818zM918 651H923V654H918zM918 654H923V657H918zM813 657H818V660H813zM918 657H923V660H918zM813 660H818V663H813zM923 660H928V663H923zM808 663H813V666H808zM928 663H933V666H928zM808 666H818V669H808zM923 666H933V669H923zM793 669H803V672H793zM933 669H948V672H933zM798 672H803V675H798zM808 672H813V675H808zM928 672H938V675H928zM798 675H808V678H798zM933 675H943V678H933zM793 678H803V681H793zM933 678H943V681H933zM793 681H803V684H793zM938 681H943V684H938zM798 684H803V687H798zM933 684H943V687H933zM798 687H803V690H798zM938 687H943V690H938zM798 690H803V693H798zM938 690H943V693H938zM808 696H813V699H808zM813 699H818V702H813zM923 699H928V702H923zM818 705H823V708H818zM913 708H918V711H913zM1008 708H1013V711H1008zM723 711H743V714H723zM833 711H838V714H833zM983 711H988V714H983zM998 711H1018V714H998zM723 714H763V717H723zM833 714H838V717H833zM898 714H903V717H898zM978 714H998V717H978zM1003 714H1013V717H1003zM733 717H738V720H733zM753 717H773V720H753zM973 717H983V720H973zM993 717H998V720H993zM1008 717H1013V720H1008zM758 720H778V723H758zM848 720H853V723H848zM888 720H893V723H888zM958 720H988V723H958zM743 723H748V726H743zM758 723H763V726H758zM768 723H778V726H768zM878 723H883V726H878zM958 723H968V726H958zM978 723H983V726H978zM993 723H998V726H993zM768 726H783V729H768zM863 726H878V729H863zM953 726H963V729H953zM968 726H973V729H968zM768 729H793V732H768zM948 729H968V732H948zM788 732H798V735H788zM868 732H873V735H868zM943 732H953V735H943zM798 735H803V738H798zM938 735H943V738H938zM808 738H813V741H808zM868 738H873V741H868zM928 738H933V741H928zM803 741H813V744H803zM928 741H943V744H928zM808 744H818V747H808zM923 744H933V747H923zM818 747H823V750H818zM918 747H928V750H918zM818 750H823V753H818zM918 750H923V753H918zM818 753H823V756H818zM873 753H878V756H873zM918 753H928V756H918zM823 756H828V759H823zM863 756H878V759H863zM913 756H923V759H913zM823 759H828V762H823zM863 759H883V762H863zM913 759H918V762H913zM823 762H828V765H823zM873 762H878V765H873zM883 762H888V765H883zM913 762H918V765H913zM828 765H833V768H828zM908 765H913V768H908zM828 768H833V771H828zM848 768H853V771H848zM888 768H893V771H888zM908 768H913V771H908zM848 771H853V774H848zM833 774H848V777H833zM893 774H903V777H893z"/>
<path fill="#b7d58d" d="M823 594H828V597H823zM838 594H843V597H838zM898 594H903V597H898zM913 594H918V597H913zM843 597H848V600H843zM893 597H898V600H893zM818 600H823V603H818zM843 600H853V603H843zM888 600H893V603H888zM918 600H923V603H918zM883 603H888V606H883zM923 603H928V606H923zM733 606H743V609H733zM803 606H808V609H803zM858 606H863V609H858zM878 606H883V609H878zM933 606H943V609H933zM803 609H808V612H803zM933 609H938V612H933zM728 612H733V615H728zM743 612H748V615H743zM878 612H883V615H878zM943 612H948V615H943zM983 612H993V615H983zM1003 612H1013V615H1003zM743 615H748V618H743zM758 615H763V618H758zM788 615H798V618H788zM833 615H843V618H833zM858 615H863V618H858zM878 615H883V618H878zM898 615H908V618H898zM938 615H943V618H938zM948 615H953V618H948zM973 615H978V618H973zM993 615H1008V618H993zM723 618H733V621H723zM738 618H753V621H738zM758 618H768V621H758zM778 618H783V621H778zM788 618H798V621H788zM833 618H838V621H833zM843 618H848V621H843zM858 618H863V621H858zM878 618H883V621H878zM893 618H898V621H893zM903 618H908V621H903zM938 618H963V621H938zM968 618H993V621H968zM998 618H1018V621H998zM723 621H743V624H723zM748 621H768V624H748zM778 621H798V624H778zM828 621H833V624H828zM848 621H853V624H848zM878 621H883V624H878zM893 621H898V624H893zM908 621H913V624H908zM943 621H953V624H943zM958 621H973V624H958zM978 621H988V624H978zM993 621H1018V624H993zM723 624H738V627H723zM743 624H798V627H743zM828 624H833V627H828zM848 624H868V627H848zM878 624H893V627H878zM908 624H913V627H908zM948 624H953V627H948zM958 624H983V627H958zM988 624H1003V627H988zM1008 624H1018V627H1008zM768 627H773V630H768zM778 627H783V630H778zM788 627H793V630H788zM823 627H828V630H823zM848 627H893V630H848zM968 627H973V630H968zM823 630H828V633H823zM853 630H858V633H853zM863 630H868V633H863zM883 630H888V633H883zM913 630H918V633H913zM948 630H953V633H948zM963 630H973V633H963zM753 633H798V636H753zM943 633H948V636H943zM953 633H973V636H953zM983 633H988V636H983zM823 636H828V639H823zM913 636H918V639H913zM768 639H778V642H768zM783 639H798V642H783zM918 639H923V642H918zM948 639H968V642H948zM818 645H823V648H818zM918 645H923V648H918zM818 648H823V651H818zM918 648H923V651H918zM813 651H818V654H813zM813 654H823V657H813zM803 657H813V660H803zM923 657H943V660H923zM808 660H813V663H808zM928 660H938V663H928zM943 660H948V663H943zM798 663H808V666H798zM933 663H953V666H933zM798 666H808V669H798zM933 666H938V669H933zM778 669H783V672H778zM788 669H793V672H788zM948 669H958V672H948zM788 672H798V675H788zM803 672H808V675H803zM938 672H948V675H938zM793 675H798V678H793zM943 675H953V678H943zM788 678H793V681H788zM943 678H953V681H943zM943 681H953V684H943zM793 684H798V687H793zM943 684H948V687H943zM793 687H798V690H793zM943 687H948V690H943zM803 693H808V696H803zM933 693H938V696H933zM803 696H808V699H803zM933 696H938V699H933zM723 702H728V705H723zM813 702H818V705H813zM923 702H928V705H923zM1013 702H1018V705H1013zM723 705H738V708H723zM918 705H923V708H918zM998 705H1003V708H998zM1008 705H1018V708H1008zM723 708H758V711H723zM823 708H828V711H823zM983 708H1008V711H983zM1013 708H1018V711H1013zM743 711H763V714H743zM828 711H833V714H828zM908 711H913V714H908zM973 711H983V714H973zM988 711H998V714H988zM763 714H773V717H763zM903 714H908V717H903zM968 714H978V717H968zM773 717H783V720H773zM838 717H843V720H838zM898 717H903V720H898zM963 717H973V720H963zM778 720H783V723H778zM843 720H848V723H843zM893 720H898V723H893zM778 723H788V726H778zM853 723H858V726H853zM883 723H888V726H883zM953 723H958V726H953zM783 726H793V729H783zM858 726H863V729H858zM878 726H883V729H878zM948 726H953V729H948zM858 729H883V732H858zM943 729H948V732H943zM798 732H803V735H798zM863 732H868V735H863zM873 732H878V735H873zM938 732H943V735H938zM803 735H808V738H803zM863 735H878V738H863zM933 735H938V738H933zM813 738H818V741H813zM863 738H868V741H863zM873 738H878V741H873zM868 741H873V744H868zM923 741H928V744H923zM868 744H873V747H868zM863 747H878V750H863zM823 750H828V753H823zM863 750H878V753H863zM823 753H828V756H823zM863 753H873V756H863zM913 753H918V756H913zM828 756H833V759H828zM858 756H863V759H858zM878 756H883V759H878zM858 759H863V762H858zM828 762H833V765H828zM853 762H858V765H853zM908 762H913V765H908zM848 765H853V768H848zM833 771H838V774H833zM843 771H848V774H843zM893 771H898V774H893zM903 771H908V774H903z"/>
<path fill="#dce191" d="M828 594H838V597H828zM903 594H913V597H903zM823 597H828V600H823zM838 597H843V600H838zM898 597H903V600H898zM913 597H918V600H913zM893 600H898V603H893zM813 603H823V606H813zM848 603H858V606H848zM888 603H893V606H888zM808 606H813V609H808zM853 606H858V609H853zM928 606H933V609H928zM808 609H813V612H808zM848 609H858V612H848zM883 609H898V612H883zM928 609H933V612H928zM798 612H803V615H798zM833 612H838V615H833zM848 612H853V615H848zM858 612H863V615H858zM893 612H903V615H893zM933 612H943V615H933zM798 615H803V618H798zM843 615H848V618H843zM883 615H898V618H883zM933 615H938V618H933zM798 618H803V621H798zM828 618H833V621H828zM848 618H858V621H848zM883 618H893V621H883zM908 618H913V621H908zM798 621H803V624H798zM853 621H863V624H853zM883 621H893V624H883zM938 621H943V624H938zM738 624H743V627H738zM798 624H803V627H798zM823 624H828V627H823zM913 624H918V627H913zM938 624H948V627H938zM983 624H988V627H983zM1003 624H1008V627H1003zM723 627H768V630H723zM773 627H778V630H773zM783 627H788V630H783zM793 627H798V630H793zM913 627H918V630H913zM943 627H968V630H943zM973 627H1003V630H973zM1008 627H1018V630H1008zM723 630H803V633H723zM938 630H948V633H938zM953 630H963V633H953zM973 630H1003V633H973zM1008 630H1018V633H1008zM723 633H753V636H723zM798 633H803V636H798zM818 633H823V636H818zM918 633H923V636H918zM938 633H943V636H938zM948 633H953V636H948zM973 633H983V636H973zM988 633H1018V636H988zM768 636H778V639H768zM783 636H793V639H783zM943 636H978V639H943zM983 636H988V639H983zM723 639H733V642H723zM738 639H758V642H738zM763 639H768V642H763zM778 639H783V642H778zM798 639H803V642H798zM813 639H818V642H813zM928 639H948V642H928zM968 639H1013V642H968zM768 642H798V645H768zM818 642H823V645H818zM918 642H923V645H918zM943 642H968V645H943zM768 645H783V648H768zM788 645H798V648H788zM813 645H818V648H813zM923 645H928V648H923zM938 645H973V648H938zM978 645H983V648H978zM783 648H798V651H783zM813 648H818V651H813zM923 648H928V651H923zM943 648H958V651H943zM778 651H803V654H778zM808 651H813V654H808zM923 651H938V654H923zM943 651H968V654H943zM973 651H978V654H973zM778 654H798V657H778zM803 654H813V657H803zM923 654H933V657H923zM938 654H958V657H938zM763 657H803V660H763zM943 657H968V660H943zM773 660H808V663H773zM938 660H943V663H938zM948 660H963V663H948zM773 663H798V666H773zM953 663H963V666H953zM783 666H788V669H783zM793 666H798V669H793zM938 666H948V669H938zM953 666H958V669H953zM763 669H768V672H763zM783 669H788V672H783zM958 669H968V672H958zM778 672H788V675H778zM948 672H958V675H948zM778 675H793V678H778zM953 675H958V678H953zM778 678H788V681H778zM953 678H963V681H953zM783 681H793V684H783zM953 681H958V684H953zM788 684H793V687H788zM948 684H953V687H948zM788 687H793V690H788zM948 687H953V690H948zM793 690H798V693H793zM943 690H948V693H943zM798 693H803V696H798zM938 693H943V696H938zM798 696H803V699H798zM808 699H813V702H808zM928 699H933V702H928zM728 702H738V705H728zM743 702H748V705H743zM928 702H933V705H928zM1008 702H1013V705H1008zM738 705H758V708H738zM813 705H818V708H813zM923 705H928V708H923zM988 705H998V708H988zM1003 705H1008V708H1003zM758 708H763V711H758zM818 708H823V711H818zM973 708H983V711H973zM763 711H768V714H763zM823 711H828V714H823zM913 711H918V714H913zM773 714H778V717H773zM828 714H833V717H828zM908 714H913V717H908zM963 714H968V717H963zM953 717H963V720H953zM783 720H788V723H783zM953 720H958V723H953zM788 723H793V726H788zM848 723H853V726H848zM888 723H893V726H888zM948 723H953V726H948zM793 726H798V729H793zM853 726H858V729H853zM883 726H888V729H883zM943 726H948V729H943zM793 729H803V732H793zM938 729H943V732H938zM803 732H808V735H803zM933 732H938V735H933zM808 735H813V738H808zM928 735H933V738H928zM923 738H928V741H923zM813 741H818V744H813zM863 741H868V744H863zM873 741H878V744H873zM818 744H823V747H818zM863 744H868V747H863zM873 744H878V747H873zM918 744H923V747H918zM823 747H828V750H823zM913 747H918V750H913zM858 750H863V753H858zM913 750H918V753H913zM828 753H833V756H828zM858 753H863V756H858zM878 753H883V756H878zM908 753H913V756H908zM883 756H888V759H883zM828 759H833V762H828zM853 759H858V762H853zM883 759H888V762H883zM908 759H913V762H908zM888 765H893V768H888zM903 765H908V768H903zM903 768H908V771H903zM838 771H843V774H838zM898 771H903V774H898z"/>
<path fill="#e3d88c" d="M828 597H838V600H828zM903 597H913V600H903zM823 600H828V603H823zM838 600H843V603H838zM898 600H903V603H898zM913 600H918V603H913zM843 603H848V606H843zM893 603H898V606H893zM918 603H923V606H918zM813 606H818V609H813zM883 606H888V609H883zM923 606H928V609H923zM813 609H818V612H813zM833 609H848V612H833zM898 609H908V612H898zM923 609H928V612H923zM803 612H813V615H803zM838 612H848V615H838zM853 612H858V615H853zM883 612H893V615H883zM903 612H908V615H903zM928 612H933V615H928zM803 615H808V618H803zM828 615H833V618H828zM848 615H858V618H848zM908 615H913V618H908zM803 618H808V621H803zM803 621H808V624H803zM823 621H828V624H823zM913 621H918V624H913zM933 621H938V624H933zM803 624H808V627H803zM933 624H938V627H933zM798 627H803V630H798zM938 627H943V630H938zM1003 627H1008V630H1003zM818 630H823V633H818zM918 630H923V633H918zM1003 630H1008V633H1003zM803 633H818V636H803zM923 633H938V636H923zM723 636H768V639H723zM778 636H783V639H778zM793 636H803V639H793zM818 636H823V639H818zM918 636H923V639H918zM938 636H943V639H938zM978 636H983V639H978zM988 636H1013V639H988zM733 639H738V642H733zM758 639H763V642H758zM803 639H813V642H803zM923 639H928V642H923zM1013 639H1018V642H1013zM723 642H768V645H723zM798 642H818V645H798zM923 642H943V645H923zM968 642H1013V645H968zM723 645H768V648H723zM783 645H788V648H783zM798 645H813V648H798zM928 645H938V648H928zM973 645H978V648H973zM983 645H1013V648H983zM743 648H748V651H743zM753 648H783V651H753zM798 648H813V651H798zM928 648H943V651H928zM958 648H988V651H958zM723 651H728V654H723zM738 651H743V654H738zM753 651H778V654H753zM803 651H808V654H803zM938 651H943V654H938zM968 651H973V654H968zM978 651H993V654H978zM1013 651H1018V654H1013zM748 654H753V657H748zM758 654H778V657H758zM798 654H803V657H798zM933 654H938V657H933zM958 654H988V657H958zM743 657H763V660H743zM968 657H998V660H968zM1003 657H1008V660H1003zM753 660H773V663H753zM963 660H978V663H963zM983 660H988V663H983zM758 663H773V666H758zM963 663H978V666H963zM773 666H783V669H773zM788 666H793V669H788zM948 666H953V669H948zM958 666H968V669H958zM768 669H778V672H768zM968 669H978V672H968zM768 672H778V675H768zM958 672H973V675H958zM773 675H778V678H773zM958 675H968V678H958zM778 681H783V684H778zM958 681H963V684H958zM783 684H788V687H783zM953 684H958V687H953zM953 687H958V690H953zM788 690H793V693H788zM948 690H953V693H948zM943 693H948V696H943zM938 696H943V699H938zM803 699H808V702H803zM933 699H938V702H933zM1013 699H1018V702H1013zM738 702H743V705H738zM748 702H758V705H748zM808 702H813V705H808zM983 702H1008V705H983zM758 705H763V708H758zM978 705H988V708H978zM763 708H768V711H763zM918 708H923V711H918zM768 711H773V714H768zM968 711H973V714H968zM778 714H783V717H778zM958 714H963V717H958zM783 717H788V720H783zM833 717H838V720H833zM903 717H908V720H903zM788 720H793V723H788zM838 720H843V723H838zM898 720H903V723H898zM948 720H953V723H948zM793 723H798V726H793zM893 723H898V726H893zM943 723H948V726H943zM808 732H813V735H808zM858 732H863V735H858zM878 732H883V735H878zM928 732H933V735H928zM813 735H818V738H813zM923 735H928V738H923zM858 738H863V741H858zM818 741H823V744H818zM918 741H923V744H918zM823 744H828V747H823zM913 744H918V747H913zM858 747H863V750H858zM878 747H883V750H878zM828 750H833V753H828zM878 750H883V753H878zM908 750H913V753H908zM853 756H858V759H853zM908 756H913V759H908zM848 762H853V765H848zM888 762H893V765H888zM833 765H838V768H833zM843 765H848V768H843zM893 765H898V768H893zM833 768H838V771H833zM843 768H848V771H843zM893 768H898V771H893z"/>
<path fill="#d5c183" d="M828 600H838V603H828zM903 600H913V603H903zM823 603H828V606H823zM838 603H843V606H838zM898 603H903V606H898zM913 603H918V606H913zM818 606H823V609H818zM843 606H853V609H843zM888 606H898V609H888zM818 609H833V612H818zM908 609H923V612H908zM828 612H833V615H828zM908 612H913V615H908zM808 615H813V618H808zM913 615H918V618H913zM928 615H933V618H928zM823 618H828V621H823zM913 618H918V621H913zM928 618H938V621H928zM808 624H813V627H808zM818 624H823V627H818zM918 624H923V627H918zM928 624H933V627H928zM803 627H808V630H803zM818 627H823V630H818zM918 627H923V630H918zM928 627H938V630H928zM803 630H818V633H803zM923 630H938V633H923zM803 636H818V639H803zM923 636H938V639H923zM1013 636H1018V639H1013zM1013 642H1018V645H1013zM1013 645H1018V648H1013zM723 648H743V651H723zM748 648H753V651H748zM988 648H1018V651H988zM728 651H738V654H728zM743 651H753V654H743zM993 651H1013V654H993zM723 654H748V657H723zM753 654H758V657H753zM988 654H1018V657H988zM723 657H743V660H723zM998 657H1003V660H998zM1008 657H1018V660H1008zM723 660H733V663H723zM738 660H753V663H738zM978 660H983V663H978zM988 660H1013V663H988zM738 663H758V666H738zM978 663H1008V666H978zM753 666H773V669H753zM968 666H983V669H968zM748 669H763V672H748zM978 669H998V672H978zM763 672H768V675H763zM973 672H978V675H973zM768 675H773V678H768zM968 675H973V678H968zM773 678H778V681H773zM963 678H973V681H963zM963 681H968V684H963zM778 684H783V687H778zM958 684H963V687H958zM783 687H788V690H783zM793 693H798V696H793zM723 696H733V699H723zM793 696H798V699H793zM943 696H948V699H943zM1003 696H1018V699H1003zM723 699H738V702H723zM998 699H1013V702H998zM933 702H938V705H933zM978 702H983V705H978zM763 705H768V708H763zM808 705H813V708H808zM928 705H933V708H928zM973 705H978V708H973zM768 708H773V711H768zM813 708H818V711H813zM923 708H928V711H923zM968 708H973V711H968zM773 711H778V714H773zM918 711H923V714H918zM963 711H968V714H963zM783 714H788V717H783zM823 714H828V717H823zM913 714H918V717H913zM828 717H833V720H828zM908 717H913V720H908zM943 720H948V723H943zM843 723H848V726H843zM798 726H803V729H798zM848 726H853V729H848zM888 726H893V729H888zM938 726H943V729H938zM803 729H808V732H803zM853 729H858V732H853zM883 729H888V732H883zM933 729H938V732H933zM858 735H863V738H858zM878 735H883V738H878zM818 738H823V741H818zM878 738H883V741H878zM918 738H923V741H918zM858 744H863V747H858zM878 744H883V747H878zM828 747H833V750H828zM908 747H913V750H908zM833 756H838V759H833zM903 756H908V759H903zM833 759H838V762H833zM833 762H838V765H833zM903 762H908V765H903zM898 765H903V768H898zM838 768H843V771H838zM898 768H903V771H898z"/>
<path fill="#ab8968" d="M828 603H838V606H828zM903 603H913V606H903zM823 606H838V609H823zM903 606H913V609H903zM818 612H823V615H818zM913 612H918V615H913zM818 615H823V618H818zM918 615H928V618H918zM813 618H823V621H813zM918 618H928V621H918zM723 666H733V669H723zM1008 666H1018V669H1008zM723 669H733V672H723zM1013 669H1018V672H1013zM738 672H753V675H738zM993 672H998V675H993zM748 675H758V678H748zM983 675H988V678H983zM973 678H978V681H973zM768 681H773V684H768zM968 681H973V684H968zM963 684H968V687H963zM963 687H968V690H963zM778 690H783V693H778zM958 690H963V693H958zM723 693H728V696H723zM948 693H953V696H948zM743 696H753V699H743zM788 696H793V699H788zM948 696H953V699H948zM988 696H1003V699H988zM748 699H758V702H748zM983 699H988V702H983zM993 699H998V702H993zM763 702H768V705H763zM798 702H803V705H798zM938 702H943V705H938zM973 702H978V705H973zM768 705H773V708H768zM803 705H808V708H803zM933 705H938V708H933zM968 705H973V708H968zM928 708H933V711H928zM923 711H928V714H923zM953 711H958V714H953zM788 714H793V717H788zM818 714H823V717H818zM918 714H923V717H918zM948 714H953V717H948zM793 717H798V720H793zM943 717H948V720H943zM798 720H803V723H798zM828 720H833V723H828zM898 723H903V726H898zM843 726H848V729H843zM893 726H898V729H893zM808 729H813V732H808zM928 729H933V732H928zM853 732H858V735H853zM883 732H888V735H883zM923 732H928V735H923zM818 735H823V738H818zM918 735H923V738H918zM823 738H828V741H823zM913 738H918V741H913zM828 744H833V747H828zM908 744H913V747H908zM833 750H838V753H833zM853 750H858V753H853zM903 750H908V753H903zM903 753H908V756H903zM848 756H853V759H848zM888 756H893V759H888zM838 762H843V765H838zM893 762H903V765H893z"/>
<path fill="#c3a778" d="M838 606H843V609H838zM898 606H903V609H898zM913 606H923V609H913zM813 612H818V615H813zM823 612H828V615H823zM918 612H928V615H918zM813 615H818V618H813zM823 615H828V618H823zM808 618H813V621H808zM808 621H823V624H808zM918 621H933V624H918zM813 624H818V627H813zM923 624H928V627H923zM808 627H818V630H808zM923 627H928V630H923zM733 660H738V663H733zM1013 660H1018V663H1013zM723 663H738V666H723zM1008 663H1018V666H1008zM733 666H753V669H733zM983 666H1008V669H983zM733 669H748V672H733zM998 669H1013V672H998zM753 672H763V675H753zM978 672H993V675H978zM758 675H768V678H758zM973 675H983V678H973zM763 678H773V681H763zM773 681H778V684H773zM773 684H778V687H773zM778 687H783V690H778zM958 687H963V690H958zM783 690H788V693H783zM953 690H958V693H953zM788 693H793V696H788zM733 696H743V699H733zM738 699H748V702H738zM798 699H803V702H798zM938 699H943V702H938zM988 699H993V702H988zM758 702H763V705H758zM803 702H808V705H803zM773 708H778V711H773zM963 708H968V711H963zM778 711H783V714H778zM818 711H823V714H818zM958 711H963V714H958zM953 714H958V717H953zM788 717H793V720H788zM948 717H953V720H948zM793 720H798V723H793zM833 720H838V723H833zM903 720H908V723H903zM798 723H803V726H798zM838 723H843V726H838zM938 723H943V726H938zM803 726H808V729H803zM933 726H938V729H933zM813 732H818V735H813zM823 741H828V744H823zM858 741H863V744H858zM878 741H883V744H878zM913 741H918V744H913zM833 753H838V756H833zM853 753H858V756H853zM883 753H888V756H883zM848 759H853V762H848zM888 759H893V762H888zM903 759H908V762H903zM843 762H848V765H843zM838 765H843V768H838z"/>
<path fill="#845a52" d="M723 672H733V675H723zM1013 672H1018V675H1013zM733 675H743V678H733zM998 675H1003V678H998zM1008 675H1013V678H1008zM748 678H753V681H748zM988 678H998V681H988zM753 681H758V684H753zM978 681H988V684H978zM768 684H773V687H768zM768 687H773V690H768zM968 687H973V690H968zM728 690H738V693H728zM773 690H778V693H773zM1008 690H1018V693H1008zM733 693H743V696H733zM958 693H963V696H958zM993 693H1003V696H993zM758 696H768V699H758zM978 696H983V699H978zM763 699H768V702H763zM788 699H793V702H788zM793 702H798V705H793zM943 702H948V705H943zM963 702H968V705H963zM798 705H803V708H798zM938 705H943V708H938zM958 705H963V708H958zM783 708H788V711H783zM933 708H938V711H933zM953 708H958V711H953zM788 711H793V714H788zM808 711H813V714H808zM948 711H953V714H948zM793 714H798V717H793zM813 714H818V717H813zM923 714H928V717H923zM943 714H948V717H943zM798 717H803V720H798zM938 717H943V720H938zM803 723H808V726H803zM833 723H838V726H833zM903 723H908V726H903zM933 723H938V726H933zM838 726H843V729H838zM818 732H823V735H818zM828 741H833V744H828zM908 741H913V744H908zM853 747H858V750H853zM883 747H888V750H883zM898 756H903V759H898zM843 759H848V762H843zM893 759H898V762H893z"/>
<path fill="#936b59" d="M733 672H738V675H733zM998 672H1013V675H998zM743 675H748V678H743zM988 675H998V678H988zM753 678H763V681H753zM978 678H988V681H978zM758 681H768V684H758zM973 681H978V684H973zM968 684H973V687H968zM773 687H778V690H773zM723 690H728V693H723zM963 690H968V693H963zM728 693H733V696H728zM783 693H788V696H783zM953 693H958V696H953zM1003 693H1018V696H1003zM753 696H758V699H753zM783 696H788V699H783zM953 696H958V699H953zM983 696H988V699H983zM758 699H763V702H758zM793 699H798V702H793zM943 699H948V702H943zM978 699H983V702H978zM768 702H773V705H768zM968 702H973V705H968zM773 705H778V708H773zM963 705H968V708H963zM778 708H783V711H778zM803 708H813V711H803zM958 708H963V711H958zM783 711H788V714H783zM813 711H818V714H813zM823 717H828V720H823zM913 717H918V720H913zM908 720H913V723H908zM938 720H943V723H938zM808 726H813V729H808zM848 729H853V732H848zM888 729H893V732H888zM833 747H838V750H833zM903 747H908V750H903zM883 750H888V753H883zM838 756H843V759H838zM838 759H843V762H838zM898 759H903V762H898z"/>
<path fill="#815855" d="M723 675H733V678H723zM1003 675H1008V678H1003zM1013 675H1018V678H1013zM733 678H748V681H733zM998 678H1003V681H998zM748 681H753V684H748zM988 681H993V684H988zM763 684H768V687H763zM973 684H983V687H973zM723 687H733V690H723zM763 687H768V690H763zM973 687H978V690H973zM1013 687H1018V690H1013zM738 690H748V693H738zM768 690H773V693H768zM968 690H973V693H968zM998 690H1008V693H998zM743 693H758V696H743zM778 693H783V696H778zM978 693H983V696H978zM988 693H993V696H988zM768 696H773V699H768zM778 696H783V699H778zM958 696H978V699H958zM948 699H953V702H948zM968 699H978V702H968zM773 702H793V705H773zM948 702H963V705H948zM778 705H788V708H778zM793 705H798V708H793zM943 705H958V708H943zM788 708H803V711H788zM938 708H953V711H938zM793 711H808V714H793zM928 711H933V714H928zM938 711H948V714H938zM798 714H808V717H798zM938 714H943V717H938zM818 717H823V720H818zM918 717H923V720H918zM933 717H938V720H933zM803 720H808V723H803zM823 720H828V723H823zM913 720H918V723H913zM933 720H938V723H933zM898 726H903V729H898zM928 726H933V729H928zM813 729H818V732H813zM843 729H848V732H843zM923 729H928V732H923zM918 732H923V735H918zM823 735H828V738H823zM853 735H858V738H853zM883 735H888V738H883zM913 735H918V738H913zM908 738H913V741H908zM903 744H908V747H903zM838 753H843V756H838zM888 753H893V756H888zM843 756H848V759H843zM893 756H898V759H893z"/>
<path fill="#896360" d="M723 678H733V681H723zM1003 678H1013V681H1003zM723 681H728V684H723zM733 681H748V684H733zM993 681H1008V684H993zM1013 681H1018V684H1013zM723 684H728V687H723zM748 684H763V687H748zM983 684H988V687H983zM733 687H763V690H733zM978 687H1013V690H978zM748 690H768V693H748zM973 690H998V693H973zM758 693H763V696H758zM768 693H778V696H768zM963 693H968V696H963zM983 693H988V696H983zM773 696H778V699H773zM768 699H788V702H768zM953 699H968V702H953zM788 705H793V708H788zM933 711H938V714H933zM808 714H813V717H808zM928 714H938V717H928zM803 717H808V720H803zM923 717H928V720H923zM808 723H813V726H808zM828 723H833V726H828zM908 723H913V726H908zM928 723H933V726H928zM833 726H838V729H833zM923 726H928V729H923zM893 729H898V732H893zM828 738H833V741H828zM853 738H858V741H853zM883 738H888V741H883zM833 744H838V747H833zM853 744H858V747H853zM883 744H888V747H883zM848 753H853V756H848zM898 753H903V756H898z"/>
<path fill="#916e6b" d="M1013 678H1018V681H1013zM728 681H733V684H728zM1008 681H1013V684H1008zM728 684H748V687H728zM988 684H1018V687H988zM763 693H768V696H763zM968 693H978V696H968zM808 717H818V720H808zM928 717H933V720H928zM808 720H813V723H808zM918 720H933V723H918zM813 726H818V729H813zM903 726H908V729H903zM853 741H858V744H853zM883 741H888V744H883zM838 750H843V753H838zM848 750H853V753H848zM888 750H893V753H888zM898 750H903V753H898zM843 753H848V756H843zM893 753H898V756H893z"/>
<path fill="#997976" d="M813 720H823V723H813zM918 723H928V726H918zM908 726H913V729H908zM818 729H823V732H818zM838 729H843V732H838zM898 729H903V732H898zM918 729H923V732H918zM823 732H828V735H823zM848 732H853V735H848zM888 732H893V735H888zM913 732H918V735H913zM833 741H838V744H833zM903 741H908V744H903z"/>
<path fill="#a48684" d="M813 723H828V726H813zM913 723H918V726H913zM818 726H823V729H818zM828 726H833V729H828zM913 729H918V732H913zM828 735H833V738H828zM908 735H913V738H908zM903 738H908V741H903zM838 747H843V750H838zM848 747H853V750H848zM898 747H903V750H898z"/>
<path fill="#af9594" d="M823 726H828V729H823zM913 726H923V729H913zM823 729H838V732H823zM903 729H908V732H903zM843 732H848V735H843zM893 732H898V735H893zM833 738H838V741H833zM888 747H893V750H888zM843 750H848V753H843zM893 750H898V753H893z"/>
<path fill="#baa4a3" d="M908 729H913V732H908zM828 732H843V735H828zM898 732H913V735H898zM848 735H853V738H848zM888 735H893V738H888zM903 735H908V738H903zM838 744H843V747H838z"/>
<path fill="#c5b2b2" d="M833 735H838V738H833zM898 744H903V747H898zM843 747H848V750H843zM893 747H898V750H893z"/>
<path fill="#dacece" d="M838 735H843V738H838zM898 735H903V738H898zM848 738H853V741H848zM888 738H893V741H888zM898 738H903V741H898zM838 741H843V744H838zM898 741H903V744H898z"/>
<path fill="#e5dbdb" d="M843 735H848V738H843zM893 735H898V738H893zM838 738H843V741H838zM888 741H893V744H888z"/>
<path fill="#faf6f6" d="M843 738H848V741H843zM893 738H898V741H893zM843 741H848V744H843zM893 741H898V744H893z"/>
<path fill="#efe9e9" d="M848 741H853V744H848zM843 744H848V747H843zM893 744H898V747H893z"/>
<path fill="#d0c1c1" d="M848 744H853V747H848zM888 744H893V747H888z"/>
</g>
<g shape-rendering="crispEdges">
<path fill="#3fa775" d="M722 928H747V931H722zM752 928H757V931H752zM997 928H1012V931H997zM1017 928H1018V931H1017zM722 931H727V934H722zM742 931H747V934H742zM982 931H987V934H982zM997 931H1007V934H997zM1012 931H1018V934H1012zM732 937H747V940H732zM992 937H1002V940H992zM1007 937H1012V940H1007zM1017 937H1018V940H1017zM722 940H732V943H722zM737 940H742V943H737zM1017 940H1018V943H1017zM722 943H727V946H722zM1002 943H1007V946H1002zM727 946H772V949H727zM972 946H992V949H972zM1002 946H1012V949H1002zM722 952H757V955H722zM767 952H772V955H767zM982 952H1017V955H982zM722 955H727V958H722zM732 955H757V958H732zM977 955H1007V958H977zM1012 955H1017V958H1012zM722 958H767V961H722zM972 958H977V961H972zM982 958H1012V961H982zM1017 958H1018V961H1017zM767 961H787V964H767zM792 961H812V964H792zM937 961H967V964H937zM732 964H737V967H732zM747 964H772V967H747zM777 964H782V967H777zM787 964H792V967H787zM957 964H972V967H957zM977 964H987V967H977zM992 964H1002V967H992zM1007 964H1012V967H1007zM1017 964H1018V967H1017zM722 967H732V970H722zM742 967H787V970H742zM962 967H1002V970H962zM1007 967H1017V970H1007zM792 970H807V973H792zM812 970H832V973H812zM842 970H847V973H842zM877 970H882V973H877zM922 970H942V973H922zM952 970H957V973H952zM732 973H737V976H732zM747 973H757V976H747zM767 973H822V976H767zM937 973H977V976H937zM982 973H987V976H982zM747 976H752V979H747zM757 976H792V979H757zM802 976H807V979H802zM812 976H822V979H812zM827 976H832V979H827zM847 976H852V979H847zM867 976H872V979H867zM902 976H917V979H902zM922 976H982V979H922zM987 976H997V979H987zM767 979H772V982H767zM777 979H782V982H777zM787 979H792V982H787zM797 979H842V982H797zM847 979H857V982H847zM872 979H882V982H872zM887 979H917V982H887zM922 979H957V982H922zM972 979H977V982H972zM927 982H932V985H927zM862 1048H872V1051H862zM857 1051H882V1054H857zM857 1054H862V1057H857zM867 1054H872V1057H867zM847 1057H857V1060H847zM877 1057H897V1060H877zM842 1060H852V1063H842zM882 1060H897V1063H882zM842 1063H867V1066H842zM877 1063H892V1066H877zM847 1066H887V1069H847zM842 1069H852V1072H842zM877 1069H882V1072H877zM887 1069H897V1072H887zM857 1072H887V1075H857zM857 1075H882V1078H857zM842 1078H892V1081H842zM867 1081H887V1084H867zM857 1084H872V1087H857zM862 1087H872V1090H862zM782 1180H787V1183H782zM822 1180H837V1183H822zM897 1180H922V1183H897zM927 1180H937V1183H927zM952 1180H957V1183H952zM787 1183H922V1186H787zM927 1183H947V1186H927zM777 1186H792V1189H777zM797 1186H827V1189H797zM832 1186H837V1189H832zM842 1186H862V1189H842zM872 1186H897V1189H872zM902 1186H937V1189H902zM942 1186H962V1189H942zM967 1186H972V1189H967zM762 1189H797V1192H762zM817 1189H822V1192H817zM937 1189H962V1192H937zM782 1192H787V1195H782zM792 1192H802V1195H792zM807 1192H812V1195H807zM947 1192H967V1195H947zM752 1195H757V1198H752zM762 1195H787V1198H762zM952 1195H977V1198H952zM987 1195H992V1198H987zM747 1198H787V1201H747zM962 1198H982V1201H962zM987 1198H997V1201H987zM722 1201H737V1204H722zM742 1201H747V1204H742zM982 1201H987V1204H982zM992 1201H1018V1204H992zM762 1204H782V1207H762zM957 1204H972V1207H957zM987 1204H992V1207H987zM722 1207H762V1210H722zM967 1207H977V1210H967zM982 1207H1018V1210H982zM727 1210H732V1213H727zM747 1210H767V1213H747zM772 1210H777V1213H772zM972 1210H992V1213H972zM997 1210H1007V1213H997zM722 1213H752V1216H722zM757 1213H762V1216H757zM972 1213H982V1216H972zM987 1213H1018V1216H987zM722 1216H742V1219H722zM747 1216H757V1219H747zM762 1216H772V1219H762zM987 1216H997V1219H987zM1007 1216H1018V1219H1007zM727 1219H752V1222H727zM977 1219H982V1222H977zM987 1219H1018V1222H987zM737 1222H777V1223H737zM967 1222H997V1223H967z"/>
<path fill="#3395a7" d="M747 928H752V931H747zM757 928H772V931H757zM777 928H782V931H777zM947 928H952V931H947zM957 928H997V931H957zM1012 928H1017V931H1012zM727 931H742V934H727zM747 931H772V934H747zM967 931H982V934H967zM987 931H997V934H987zM1007 931H1012V934H1007zM722 934H762V937H722zM967 934H977V937H967zM987 934H1018V937H987zM722 937H732V940H722zM747 937H777V940H747zM972 937H992V940H972zM1002 937H1007V940H1002zM1012 937H1017V940H1012zM732 940H737V943H732zM742 940H762V943H742zM767 940H772V943H767zM967 940H972V943H967zM987 940H1017V943H987zM727 943H757V946H727zM982 943H987V946H982zM992 943H1002V946H992zM1007 943H1018V946H1007zM772 946H792V949H772zM947 946H972V949H947zM722 949H742V952H722zM747 949H752V952H747zM757 949H767V952H757zM972 949H982V952H972zM987 949H1018V952H987zM757 952H767V955H757zM772 952H782V955H772zM947 952H952V955H947zM957 952H982V955H957zM757 955H787V958H757zM952 955H977V958H952zM767 958H787V961H767zM947 958H952V961H947zM957 958H972V961H957zM977 958H982V961H977zM812 961H822V964H812zM917 961H937V964H917zM772 964H777V967H772zM782 964H787V967H782zM792 964H812V967H792zM917 964H922V967H917zM937 964H957V967H937zM972 964H977V967H972zM987 964H992V967H987zM787 967H812V970H787zM917 967H922V970H917zM932 967H962V970H932zM807 970H812V973H807zM832 970H842V973H832zM847 970H877V973H847zM882 970H922V973H882zM822 973H872V976H822zM877 973H937V976H877zM792 976H802V979H792zM807 976H812V979H807zM822 976H827V979H822zM832 976H847V979H832zM852 976H867V979H852zM872 976H902V979H872zM917 976H922V979H917zM857 1057H877V1060H857zM852 1060H882V1063H852zM867 1063H877V1066H867zM852 1069H877V1072H852zM882 1069H887V1072H882zM827 1186H832V1189H827zM837 1186H842V1189H837zM862 1186H872V1189H862zM897 1186H902V1189H897zM797 1189H817V1192H797zM822 1189H847V1192H822zM857 1189H877V1192H857zM882 1189H902V1192H882zM907 1189H912V1192H907zM917 1189H937V1192H917zM787 1192H792V1195H787zM802 1192H807V1195H802zM812 1192H822V1195H812zM827 1192H837V1195H827zM842 1192H847V1195H842zM862 1192H867V1195H862zM917 1192H947V1195H917zM787 1195H802V1198H787zM807 1195H812V1198H807zM922 1195H952V1198H922zM787 1198H802V1201H787zM937 1198H942V1201H937zM947 1198H962V1201H947zM737 1201H742V1204H737zM747 1201H772V1204H747zM972 1201H982V1204H972zM987 1201H992V1204H987zM782 1204H797V1207H782zM802 1204H807V1207H802zM942 1204H957V1207H942zM762 1207H787V1210H762zM952 1207H957V1210H952zM962 1207H967V1210H962zM977 1207H982V1210H977zM767 1210H772V1213H767zM777 1210H787V1213H777zM952 1210H957V1213H952zM962 1210H972V1213H962zM752 1213H757V1216H752zM762 1213H777V1216H762zM967 1213H972V1216H967zM982 1213H987V1216H982zM742 1216H747V1219H742zM757 1216H762V1219H757zM772 1216H787V1219H772zM957 1216H987V1219H957zM997 1216H1002V1219H997zM752 1219H777V1222H752zM957 1219H962V1222H957zM967 1219H977V1222H967zM982 1219H987V1222H982zM777 1222H797V1223H777zM947 1222H967V1223H947z"/>
<path fill="#387bbe" d="M772 928H777V931H772zM782 928H792V931H782zM952 928H957V931H952zM772 931H792V934H772zM947 931H967V934H947zM762 934H787V937H762zM952 934H957V937H952zM962 934H967V937H962zM977 934H987V937H977zM777 937H792V940H777zM942 937H972V940H942zM762 940H767V943H762zM772 940H792V943H772zM947 940H967V943H947zM972 940H987V943H972zM757 943H782V946H757zM952 943H982V946H952zM987 943H992V946H987zM792 946H802V949H792zM937 946H947V949H937zM742 949H747V952H742zM752 949H757V952H752zM767 949H797V952H767zM947 949H957V952H947zM962 949H972V952H962zM982 949H987V952H982zM782 952H802V955H782zM932 952H947V955H932zM952 952H957V955H952zM787 955H807V958H787zM922 955H932V958H922zM937 955H952V958H937zM787 958H812V961H787zM922 958H947V961H922zM952 958H957V961H952zM822 961H852V964H822zM882 961H887V964H882zM892 961H917V964H892zM812 964H827V967H812zM902 964H917V967H902zM922 964H937V967H922zM812 967H847V970H812zM872 967H877V970H872zM882 967H917V970H882zM922 967H932V970H922zM872 973H877V976H872zM847 1189H857V1192H847zM877 1189H882V1192H877zM902 1189H907V1192H902zM912 1189H917V1192H912zM822 1192H827V1195H822zM837 1192H842V1195H837zM847 1192H862V1195H847zM867 1192H917V1195H867zM802 1195H807V1198H802zM812 1195H827V1198H812zM832 1195H837V1198H832zM912 1195H922V1198H912zM802 1198H822V1201H802zM912 1198H917V1201H912zM922 1198H937V1201H922zM942 1198H947V1201H942zM772 1201H792V1204H772zM937 1201H942V1204H937zM952 1201H972V1204H952zM797 1204H802V1207H797zM807 1204H817V1207H807zM822 1204H827V1207H822zM917 1204H922V1207H917zM927 1204H942V1207H927zM787 1207H802V1210H787zM942 1207H952V1210H942zM957 1207H962V1210H957zM787 1210H797V1213H787zM937 1210H952V1213H937zM957 1210H962V1213H957zM777 1213H797V1216H777zM947 1213H967V1216H947zM787 1216H797V1219H787zM937 1216H942V1219H937zM947 1216H957V1219H947zM777 1219H797V1222H777zM932 1219H937V1222H932zM942 1219H957V1222H942zM962 1219H967V1222H962zM797 1222H807V1223H797zM932 1222H947V1223H932z"/>
<path fill="#3266b0" d="M792 928H802V931H792zM807 928H812V931H807zM817 928H822V931H817zM922 928H947V931H922zM792 931H812V934H792zM927 931H932V934H927zM937 931H947V934H937zM787 934H797V937H787zM942 934H952V937H942zM957 934H962V937H957zM792 937H812V940H792zM932 937H942V940H932zM792 940H812V943H792zM932 940H947V943H932zM782 943H797V946H782zM802 943H807V946H802zM942 943H952V946H942zM802 946H817V949H802zM822 946H827V949H822zM912 946H917V949H912zM922 946H937V949H922zM797 949H802V952H797zM937 949H947V952H937zM957 949H962V952H957zM802 952H822V955H802zM922 952H932V955H922zM807 955H827V958H807zM902 955H922V958H902zM932 955H937V958H932zM812 958H837V961H812zM897 958H902V961H897zM917 958H922V961H917zM852 961H882V964H852zM887 961H892V964H887zM827 964H902V967H827zM847 967H872V970H847zM877 967H882V970H877zM827 1195H832V1198H827zM837 1195H912V1198H837zM822 1198H852V1201H822zM867 1198H877V1201H867zM897 1198H902V1201H897zM907 1198H912V1201H907zM917 1198H922V1201H917zM792 1201H817V1204H792zM922 1201H927V1204H922zM932 1201H937V1204H932zM942 1201H952V1204H942zM817 1204H822V1207H817zM827 1204H837V1207H827zM892 1204H897V1207H892zM902 1204H917V1207H902zM922 1204H927V1207H922zM802 1207H807V1210H802zM812 1207H822V1210H812zM922 1207H942V1210H922zM797 1210H817V1213H797zM922 1210H937V1213H922zM797 1213H807V1216H797zM922 1213H932V1216H922zM937 1213H947V1216H937zM797 1216H807V1219H797zM812 1216H817V1219H812zM927 1216H937V1219H927zM942 1216H947V1219H942zM797 1219H817V1222H797zM927 1219H932V1222H927zM937 1219H942V1222H937zM807 1222H817V1223H807zM822 1222H827V1223H822zM917 1222H932V1223H917z"/>
<path fill="#2e57a5" d="M802 928H807V931H802zM812 928H817V931H812zM822 928H832V931H822zM907 928H922V931H907zM812 931H822V934H812zM922 931H927V934H922zM932 931H937V934H932zM797 934H817V937H797zM927 934H942V937H927zM812 937H822V940H812zM922 937H932V940H922zM812 940H822V943H812zM922 940H932V943H922zM797 943H802V946H797zM807 943H817V946H807zM922 943H942V946H922zM817 946H822V949H817zM827 946H842V949H827zM902 946H912V949H902zM917 946H922V949H917zM802 949H827V952H802zM922 949H937V952H922zM822 952H832V955H822zM837 952H842V955H837zM847 952H852V955H847zM882 952H887V955H882zM897 952H922V955H897zM827 955H857V958H827zM877 955H902V958H877zM837 958H857V961H837zM862 958H877V961H862zM882 958H897V961H882zM902 958H917V961H902zM852 1198H867V1201H852zM877 1198H897V1201H877zM902 1198H907V1201H902zM817 1201H827V1204H817zM902 1201H922V1204H902zM927 1201H932V1204H927zM837 1204H857V1207H837zM862 1204H892V1207H862zM897 1204H902V1207H897zM807 1207H812V1210H807zM822 1207H832V1210H822zM837 1207H842V1210H837zM912 1207H922V1210H912zM817 1210H832V1213H817zM902 1210H922V1213H902zM807 1213H827V1216H807zM917 1213H922V1216H917zM932 1213H937V1216H932zM807 1216H812V1219H807zM817 1216H822V1219H817zM907 1216H927V1219H907zM817 1219H827V1222H817zM912 1219H927V1222H912zM817 1222H822V1223H817zM827 1222H837V1223H827zM902 1222H917V1223H902z"/>
<path fill="#2b4a9b" d="M832 928H907V931H832zM822 931H922V934H822zM817 934H927V937H817zM822 937H922V940H822zM822 940H922V943H822zM817 943H922V946H817zM842 946H902V949H842zM827 949H922V952H827zM832 952H837V955H832zM842 952H847V955H842zM852 952H882V955H852zM887 952H897V955H887zM857 955H877V958H857zM857 958H862V961H857zM877 958H882V961H877zM827 1201H902V1204H827zM857 1204H862V1207H857zM832 1207H837V1210H832zM842 1207H912V1210H842zM832 1210H902V1213H832zM827 1213H917V1216H827zM822 1216H907V1219H822zM827 1219H912V1222H827zM837 1222H902V1223H837z"/>
<path fill="#4dad6b" d="M722 946H727V949H722zM992 946H1002V949H992zM1012 946H1018V949H1012zM1017 952H1018V955H1017zM727 955H732V958H727zM1007 955H1012V958H1007zM1017 955H1018V958H1017zM1012 958H1017V961H1012zM722 961H767V964H722zM787 961H792V964H787zM967 961H997V964H967zM1002 961H1018V964H1002zM722 964H732V967H722zM737 964H747V967H737zM1002 964H1007V967H1002zM1012 964H1017V967H1012zM732 967H742V970H732zM1002 967H1007V970H1002zM1017 967H1018V970H1017zM737 970H747V973H737zM752 970H792V973H752zM942 970H952V973H942zM957 970H1002V973H957zM1012 970H1017V973H1012zM722 973H732V976H722zM737 973H747V976H737zM757 973H767V976H757zM977 973H982V976H977zM987 973H1018V976H987zM722 976H747V979H722zM752 976H757V979H752zM982 976H987V979H982zM997 976H1018V979H997zM722 979H767V982H722zM772 979H777V982H772zM782 979H787V982H782zM792 979H797V982H792zM842 979H847V982H842zM857 979H872V982H857zM882 979H887V982H882zM917 979H922V982H917zM957 979H972V982H957zM977 979H1018V982H977zM722 982H727V985H722zM737 982H747V985H737zM752 982H837V985H752zM847 982H852V985H847zM877 982H882V985H877zM902 982H927V985H902zM932 982H977V985H932zM982 982H1002V985H982zM767 985H772V988H767zM947 985H952V988H947zM982 985H987V988H982zM947 991H952V994H947zM862 1033H867V1036H862zM857 1036H867V1039H857zM872 1036H887V1039H872zM857 1039H877V1042H857zM857 1042H887V1045H857zM862 1045H877V1048H862zM882 1045H887V1048H882zM847 1048H862V1051H847zM872 1048H892V1051H872zM842 1051H857V1054H842zM882 1051H892V1054H882zM897 1051H902V1054H897zM842 1054H857V1057H842zM862 1054H867V1057H862zM872 1054H892V1057H872zM832 1057H847V1060H832zM897 1057H907V1060H897zM832 1060H842V1063H832zM897 1060H912V1063H897zM832 1063H842V1066H832zM892 1063H902V1066H892zM837 1066H847V1069H837zM887 1066H902V1069H887zM827 1069H842V1072H827zM897 1069H912V1072H897zM837 1072H857V1075H837zM887 1072H902V1075H887zM842 1075H857V1078H842zM882 1075H897V1078H882zM837 1078H842V1081H837zM892 1078H907V1081H892zM842 1081H867V1084H842zM887 1081H892V1084H887zM897 1081H902V1084H897zM847 1084H857V1087H847zM872 1084H897V1087H872zM847 1087H857V1090H847zM872 1087H882V1090H872zM867 1090H872V1093H867zM877 1090H882V1093H877zM857 1093H867V1096H857zM872 1093H887V1096H872zM767 1177H772V1180H767zM792 1177H797V1180H792zM912 1177H917V1180H912zM922 1177H927V1180H922zM957 1177H962V1180H957zM972 1177H977V1180H972zM982 1177H987V1180H982zM722 1180H732V1183H722zM737 1180H782V1183H737zM787 1180H822V1183H787zM837 1180H897V1183H837zM922 1180H927V1183H922zM937 1180H952V1183H937zM957 1180H1018V1183H957zM732 1183H787V1186H732zM922 1183H927V1186H922zM947 1183H987V1186H947zM992 1183H1002V1186H992zM1007 1183H1012V1186H1007zM722 1186H737V1189H722zM747 1186H777V1189H747zM792 1186H797V1189H792zM937 1186H942V1189H937zM962 1186H967V1189H962zM972 1186H1002V1189H972zM1007 1186H1012V1189H1007zM737 1189H762V1192H737zM962 1189H997V1192H962zM1002 1189H1018V1192H1002zM722 1192H727V1195H722zM737 1192H782V1195H737zM967 1192H1002V1195H967zM1012 1192H1018V1195H1012zM722 1195H752V1198H722zM757 1195H762V1198H757zM977 1195H987V1198H977zM992 1195H1018V1198H992zM727 1198H747V1201H727zM982 1198H987V1201H982zM997 1198H1018V1201H997zM722 1204H737V1207H722zM742 1204H762V1207H742zM972 1204H987V1207H972zM992 1204H1018V1207H992zM722 1210H727V1213H722zM732 1210H747V1213H732zM992 1210H997V1213H992zM1007 1210H1018V1213H1007zM1002 1216H1007V1219H1002zM722 1219H727V1222H722zM722 1222H737V1223H722zM997 1222H1018V1223H997z"/>
<path fill="#57b26f" d="M997 961H1002V964H997zM722 970H737V973H722zM747 970H752V973H747zM1002 970H1012V973H1002zM1017 970H1018V973H1017zM727 982H737V985H727zM747 982H752V985H747zM837 982H847V985H837zM852 982H872V985H852zM882 982H902V985H882zM977 982H982V985H977zM1002 982H1018V985H1002zM722 985H732V988H722zM737 985H767V988H737zM772 985H837V988H772zM902 985H947V988H902zM952 985H982V988H952zM987 985H1012V988H987zM1017 985H1018V988H1017zM727 988H732V991H727zM752 988H757V991H752zM777 988H807V991H777zM817 988H822V991H817zM907 988H912V991H907zM917 988H922V991H917zM927 988H932V991H927zM937 988H977V991H937zM722 991H807V994H722zM812 991H822V994H812zM927 991H947V994H927zM952 991H987V994H952zM1002 991H1007V994H1002zM957 994H962V997H957zM862 1030H877V1033H862zM852 1033H857V1036H852zM867 1033H887V1036H867zM842 1036H857V1039H842zM867 1036H872V1039H867zM887 1036H892V1039H887zM847 1039H857V1042H847zM877 1039H897V1042H877zM847 1042H857V1045H847zM887 1042H902V1045H887zM842 1045H862V1048H842zM877 1045H882V1048H877zM887 1045H897V1048H887zM837 1048H847V1051H837zM892 1048H902V1051H892zM832 1051H842V1054H832zM892 1051H897V1054H892zM902 1051H907V1054H902zM837 1054H842V1057H837zM892 1054H912V1057H892zM827 1057H832V1060H827zM907 1057H912V1060H907zM827 1060H832V1063H827zM912 1060H917V1063H912zM822 1063H832V1066H822zM902 1063H912V1066H902zM827 1066H837V1069H827zM902 1066H912V1069H902zM817 1069H827V1072H817zM912 1069H922V1072H912zM832 1072H837V1075H832zM902 1072H912V1075H902zM832 1075H842V1078H832zM897 1075H907V1078H897zM827 1078H837V1081H827zM832 1081H842V1084H832zM892 1081H897V1084H892zM902 1081H912V1084H902zM832 1084H847V1087H832zM897 1084H907V1087H897zM837 1087H847V1090H837zM857 1087H862V1090H857zM882 1087H902V1090H882zM837 1090H842V1093H837zM852 1090H867V1093H852zM872 1090H877V1093H872zM882 1090H892V1093H882zM847 1093H857V1096H847zM867 1093H872V1096H867zM887 1093H892V1096H887zM897 1093H902V1096H897zM857 1096H862V1099H857zM867 1096H882V1099H867zM867 1099H872V1102H867zM877 1099H882V1102H877zM732 1168H742V1171H732zM987 1168H1002V1171H987zM1012 1168H1017V1171H1012zM752 1174H757V1177H752zM722 1177H767V1180H722zM772 1177H792V1180H772zM797 1177H867V1180H797zM877 1177H912V1180H877zM917 1177H922V1180H917zM927 1177H957V1180H927zM962 1177H972V1180H962zM977 1177H982V1180H977zM987 1177H1018V1180H987zM732 1180H737V1183H732zM722 1183H732V1186H722zM987 1183H992V1186H987zM1002 1183H1007V1186H1002zM1012 1183H1018V1186H1012zM737 1186H747V1189H737zM1002 1186H1007V1189H1002zM1012 1186H1018V1189H1012zM722 1189H737V1192H722zM997 1189H1002V1192H997zM727 1192H737V1195H727zM1002 1192H1012V1195H1002zM722 1198H727V1201H722zM737 1204H742V1207H737z"/>
<path fill="#61b673" d="M872 982H877V985H872zM732 985H737V988H732zM837 985H867V988H837zM877 985H902V988H877zM1012 985H1017V988H1012zM722 988H727V991H722zM732 988H752V991H732zM757 988H777V991H757zM807 988H817V991H807zM822 988H837V991H822zM912 988H917V991H912zM922 988H927V991H922zM932 988H937V991H932zM977 988H1018V991H977zM807 991H812V994H807zM822 991H832V994H822zM907 991H927V994H907zM987 991H1002V994H987zM1007 991H1018V994H1007zM727 994H732V997H727zM737 994H742V997H737zM747 994H802V997H747zM932 994H957V997H932zM962 994H972V997H962zM977 994H982V997H977zM987 994H992V997H987zM1002 994H1012V997H1002zM1017 994H1018V997H1017zM772 1000H777V1003H772zM782 1000H787V1003H782zM792 1000H797V1003H792zM942 1000H947V1003H942zM952 1000H972V1003H952zM847 1027H852V1030H847zM857 1027H887V1030H857zM847 1030H862V1033H847zM877 1030H892V1033H877zM842 1033H852V1036H842zM857 1033H862V1036H857zM887 1033H892V1036H887zM837 1036H842V1039H837zM892 1036H902V1039H892zM837 1039H847V1042H837zM897 1039H902V1042H897zM832 1042H847V1045H832zM902 1042H907V1045H902zM837 1045H842V1048H837zM897 1045H902V1048H897zM832 1048H837V1051H832zM902 1048H912V1051H902zM827 1051H832V1054H827zM907 1051H912V1054H907zM827 1054H837V1057H827zM822 1057H827V1060H822zM912 1057H917V1060H912zM817 1060H827V1063H817zM917 1060H922V1063H917zM912 1063H917V1066H912zM817 1066H827V1069H817zM912 1066H922V1069H912zM922 1069H927V1072H922zM817 1072H832V1075H817zM912 1072H917V1075H912zM822 1075H832V1078H822zM907 1075H917V1078H907zM822 1078H827V1081H822zM907 1078H922V1081H907zM822 1081H832V1084H822zM912 1081H917V1084H912zM827 1084H832V1087H827zM907 1084H917V1087H907zM827 1087H837V1090H827zM902 1087H912V1090H902zM842 1090H852V1093H842zM892 1090H907V1093H892zM837 1093H847V1096H837zM892 1093H897V1096H892zM902 1093H907V1096H902zM852 1096H857V1099H852zM862 1096H867V1099H862zM882 1096H887V1099H882zM852 1099H867V1102H852zM872 1099H877V1102H872zM882 1099H887V1102H882zM857 1102H862V1105H857zM867 1102H877V1105H867zM882 1102H887V1105H882zM857 1105H882V1108H857zM862 1108H877V1111H862zM722 1165H732V1168H722zM742 1165H747V1168H742zM977 1165H982V1168H977zM997 1165H1012V1168H997zM1017 1165H1018V1168H1017zM722 1168H732V1171H722zM742 1168H812V1171H742zM927 1168H942V1171H927zM947 1168H987V1171H947zM1002 1168H1012V1171H1002zM1017 1168H1018V1171H1017zM722 1171H797V1174H722zM947 1171H962V1174H947zM967 1171H1018V1174H967zM722 1174H752V1177H722zM757 1174H827V1177H757zM832 1174H837V1177H832zM882 1174H887V1177H882zM897 1174H902V1177H897zM907 1174H912V1177H907zM917 1174H927V1177H917zM932 1174H1018V1177H932zM867 1177H877V1180H867z"/>
<path fill="#73bd7a" d="M867 985H877V988H867zM837 988H852V991H837zM857 988H862V991H857zM887 988H907V991H887zM832 991H837V994H832zM902 991H907V994H902zM722 994H727V997H722zM732 994H737V997H732zM742 994H747V997H742zM802 994H822V997H802zM917 994H932V997H917zM972 994H977V997H972zM982 994H987V997H982zM992 994H1002V997H992zM1012 994H1017V997H1012zM727 997H732V1000H727zM747 997H772V1000H747zM777 997H787V1000H777zM797 997H802V1000H797zM937 997H957V1000H937zM962 997H972V1000H962zM977 997H987V1000H977zM992 997H997V1000H992zM1007 997H1012V1000H1007zM722 1000H772V1003H722zM777 1000H782V1003H777zM787 1000H792V1003H787zM797 1000H807V1003H797zM932 1000H942V1003H932zM947 1000H952V1003H947zM972 1000H1002V1003H972zM1007 1000H1018V1003H1007zM737 1003H747V1006H737zM757 1003H762V1006H757zM767 1003H792V1006H767zM937 1003H982V1006H937zM957 1006H962V1009H957zM967 1006H972V1009H967zM852 1027H857V1030H852zM887 1027H892V1030H887zM837 1030H847V1033H837zM892 1030H902V1033H892zM837 1033H842V1036H837zM892 1033H907V1036H892zM832 1036H837V1039H832zM902 1036H907V1039H902zM832 1039H837V1042H832zM902 1039H907V1042H902zM827 1042H832V1045H827zM907 1042H912V1045H907zM832 1045H837V1048H832zM902 1045H907V1048H902zM827 1048H832V1051H827zM912 1048H917V1051H912zM822 1051H827V1054H822zM912 1051H922V1054H912zM822 1054H827V1057H822zM912 1054H922V1057H912zM817 1057H822V1060H817zM917 1057H927V1060H917zM812 1060H817V1063H812zM922 1060H927V1063H922zM812 1063H822V1066H812zM917 1063H927V1066H917zM812 1066H817V1069H812zM922 1066H927V1069H922zM807 1069H817V1072H807zM927 1069H932V1072H927zM917 1072H922V1075H917zM817 1075H822V1078H817zM917 1075H927V1078H917zM812 1078H822V1081H812zM922 1078H927V1081H922zM817 1081H822V1084H817zM917 1081H922V1084H917zM822 1084H827V1087H822zM822 1087H827V1090H822zM912 1087H917V1090H912zM827 1090H837V1093H827zM907 1090H912V1093H907zM827 1093H837V1096H827zM907 1093H912V1096H907zM837 1096H852V1099H837zM887 1096H902V1099H887zM842 1099H852V1102H842zM887 1099H897V1102H887zM852 1102H857V1105H852zM862 1102H867V1105H862zM877 1102H882V1105H877zM847 1105H857V1108H847zM882 1105H892V1108H882zM852 1108H862V1111H852zM877 1108H887V1111H877zM867 1111H872V1114H867zM722 1159H727V1162H722zM742 1159H747V1162H742zM1012 1159H1018V1162H1012zM722 1162H747V1165H722zM987 1162H992V1165H987zM997 1162H1018V1165H997zM732 1165H742V1168H732zM747 1165H787V1168H747zM797 1165H802V1168H797zM937 1165H947V1168H937zM957 1165H977V1168H957zM982 1165H997V1168H982zM1012 1165H1017V1168H1012zM812 1168H857V1171H812zM892 1168H927V1171H892zM942 1168H947V1171H942zM797 1171H857V1174H797zM882 1171H892V1174H882zM897 1171H902V1174H897zM907 1171H947V1174H907zM962 1171H967V1174H962zM827 1174H832V1177H827zM837 1174H882V1177H837zM887 1174H897V1177H887zM902 1174H907V1177H902zM912 1174H917V1177H912zM927 1174H932V1177H927z"/>
<path fill="#94c986" d="M852 988H857V991H852zM862 988H887V991H862zM837 991H847V994H837zM852 991H857V994H852zM887 991H902V994H887zM822 994H832V997H822zM907 994H917V997H907zM722 997H727V1000H722zM732 997H747V1000H732zM772 997H777V1000H772zM787 997H797V1000H787zM802 997H812V1000H802zM927 997H937V1000H927zM957 997H962V1000H957zM972 997H977V1000H972zM987 997H992V1000H987zM997 997H1007V1000H997zM1012 997H1018V1000H1012zM807 1000H817V1003H807zM917 1000H932V1003H917zM1002 1000H1007V1003H1002zM722 1003H737V1006H722zM747 1003H757V1006H747zM762 1003H767V1006H762zM792 1003H807V1006H792zM932 1003H937V1006H932zM982 1003H1018V1006H982zM722 1006H727V1009H722zM747 1006H752V1009H747zM757 1006H807V1009H757zM937 1006H957V1009H937zM962 1006H967V1009H962zM972 1006H1007V1009H972zM757 1009H762V1012H757zM777 1009H782V1012H777zM787 1009H792V1012H787zM762 1012H782V1015H762zM787 1012H792V1015H787zM947 1012H957V1015H947zM967 1012H972V1015H967zM977 1012H982V1015H977zM767 1015H782V1018H767zM962 1015H967V1018H962zM987 1015H992V1018H987zM772 1018H782V1021H772zM862 1024H867V1027H862zM837 1027H847V1030H837zM892 1027H897V1030H892zM832 1030H837V1033H832zM902 1030H907V1033H902zM832 1033H837V1036H832zM907 1033H912V1036H907zM827 1036H832V1039H827zM907 1036H912V1039H907zM827 1039H832V1042H827zM907 1039H912V1042H907zM822 1045H832V1048H822zM907 1045H912V1048H907zM822 1048H827V1051H822zM817 1051H822V1054H817zM817 1054H822V1057H817zM812 1057H817V1060H812zM807 1060H812V1063H807zM927 1060H932V1063H927zM807 1063H812V1066H807zM927 1063H932V1066H927zM927 1066H932V1069H927zM802 1069H807V1072H802zM932 1069H937V1072H932zM807 1072H817V1075H807zM922 1072H932V1075H922zM812 1075H817V1078H812zM807 1078H812V1081H807zM812 1081H817V1084H812zM922 1081H927V1084H922zM817 1084H822V1087H817zM917 1084H927V1087H917zM817 1087H822V1090H817zM917 1087H922V1090H917zM822 1090H827V1093H822zM912 1090H917V1093H912zM822 1093H827V1096H822zM912 1093H917V1096H912zM832 1096H837V1099H832zM902 1096H912V1099H902zM837 1099H842V1102H837zM897 1099H907V1102H897zM842 1102H852V1105H842zM887 1102H897V1105H887zM842 1105H847V1108H842zM892 1105H897V1108H892zM887 1108H892V1111H887zM872 1111H877V1114H872zM867 1114H872V1117H867zM727 1150H732V1153H727zM1017 1150H1018V1153H1017zM722 1153H727V1156H722zM1012 1153H1018V1156H1012zM722 1156H732V1159H722zM742 1156H747V1159H742zM1002 1156H1018V1159H1002zM727 1159H742V1162H727zM747 1159H767V1162H747zM967 1159H1012V1162H967zM747 1162H772V1165H747zM782 1162H787V1165H782zM957 1162H987V1165H957zM992 1162H997V1165H992zM787 1165H797V1168H787zM802 1165H817V1168H802zM822 1165H837V1168H822zM897 1165H902V1168H897zM907 1165H937V1168H907zM947 1165H957V1168H947zM857 1168H892V1171H857zM857 1171H882V1174H857zM892 1171H897V1174H892zM902 1171H907V1174H902z"/>
<path fill="#b7d58d" d="M847 991H852V994H847zM857 991H867V994H857zM872 991H887V994H872zM832 994H842V997H832zM902 994H907V997H902zM812 997H827V1000H812zM917 997H927V1000H917zM817 1000H827V1003H817zM807 1003H817V1006H807zM927 1003H932V1006H927zM727 1006H747V1009H727zM752 1006H757V1009H752zM932 1006H937V1009H932zM1007 1006H1018V1009H1007zM722 1009H727V1012H722zM732 1009H757V1012H732zM762 1009H777V1012H762zM782 1009H787V1012H782zM792 1009H802V1012H792zM937 1009H987V1012H937zM997 1009H1018V1012H997zM722 1012H762V1015H722zM782 1012H787V1015H782zM792 1012H802V1015H792zM937 1012H947V1015H937zM957 1012H967V1015H957zM972 1012H977V1015H972zM982 1012H1018V1015H982zM722 1015H767V1018H722zM782 1015H802V1018H782zM942 1015H962V1018H942zM967 1015H987V1018H967zM992 1015H1018V1018H992zM722 1018H727V1021H722zM752 1018H772V1021H752zM782 1018H797V1021H782zM952 1018H987V1021H952zM992 1018H997V1021H992zM1002 1018H1007V1021H1002zM1017 1018H1018V1021H1017zM847 1024H862V1027H847zM867 1024H892V1027H867zM742 1027H747V1030H742zM752 1027H787V1030H752zM832 1027H837V1030H832zM897 1027H907V1030H897zM952 1027H987V1030H952zM1012 1027H1017V1030H1012zM747 1030H752V1033H747zM757 1030H782V1033H757zM827 1030H832V1033H827zM907 1030H912V1033H907zM957 1030H982V1033H957zM992 1030H1002V1033H992zM762 1033H772V1036H762zM777 1033H787V1036H777zM827 1033H832V1036H827zM962 1033H972V1036H962zM762 1036H777V1039H762zM822 1036H827V1039H822zM912 1036H917V1039H912zM957 1036H982V1039H957zM822 1039H827V1042H822zM912 1039H917V1042H912zM767 1042H772V1045H767zM822 1042H827V1045H822zM912 1042H922V1045H912zM912 1045H922V1048H912zM817 1048H822V1051H817zM917 1048H922V1051H917zM812 1051H817V1054H812zM922 1051H927V1054H922zM812 1054H817V1057H812zM922 1054H927V1057H922zM807 1057H812V1060H807zM927 1057H932V1060H927zM767 1060H772V1063H767zM802 1060H807V1063H802zM932 1060H937V1063H932zM802 1063H807V1066H802zM932 1063H937V1066H932zM802 1066H812V1069H802zM932 1066H937V1069H932zM802 1072H807V1075H802zM807 1075H812V1078H807zM927 1075H932V1078H927zM927 1078H932V1081H927zM812 1084H817V1087H812zM817 1090H822V1093H817zM917 1090H922V1093H917zM827 1096H832V1099H827zM912 1096H917V1099H912zM832 1099H837V1102H832zM907 1099H912V1102H907zM837 1102H842V1105H837zM897 1102H907V1105H897zM837 1105H842V1108H837zM897 1105H902V1108H897zM847 1108H852V1111H847zM892 1108H897V1111H892zM857 1111H867V1114H857zM877 1111H882V1114H877zM862 1114H867V1117H862zM872 1114H877V1117H872zM867 1117H872V1120H867zM722 1144H732V1147H722zM1007 1144H1018V1147H1007zM722 1150H727V1153H722zM732 1150H757V1153H732zM982 1150H1017V1153H982zM727 1153H747V1156H727zM987 1153H1012V1156H987zM732 1156H742V1159H732zM747 1156H757V1159H747zM762 1156H777V1159H762zM962 1156H967V1159H962zM972 1156H1002V1159H972zM767 1159H812V1162H767zM817 1159H832V1162H817zM922 1159H927V1162H922zM937 1159H967V1162H937zM772 1162H782V1165H772zM787 1162H817V1165H787zM827 1162H832V1165H827zM837 1162H847V1165H837zM892 1162H897V1165H892zM907 1162H957V1165H907zM817 1165H822V1168H817zM837 1165H857V1168H837zM862 1165H867V1168H862zM877 1165H897V1168H877zM902 1165H907V1168H902z"/>
<path fill="#dce191" d="M867 991H872V994H867zM842 994H847V997H842zM892 994H902V997H892zM827 997H832V1000H827zM902 997H917V1000H902zM827 1000H837V1003H827zM907 1000H917V1003H907zM817 1003H822V1006H817zM922 1003H927V1006H922zM807 1006H812V1009H807zM927 1006H932V1009H927zM727 1009H732V1012H727zM802 1009H807V1012H802zM932 1009H937V1012H932zM987 1009H997V1012H987zM802 1012H807V1015H802zM932 1012H937V1015H932zM802 1015H807V1018H802zM937 1015H942V1018H937zM727 1018H752V1021H727zM797 1018H802V1021H797zM867 1018H872V1021H867zM937 1018H952V1021H937zM987 1018H992V1021H987zM997 1018H1002V1021H997zM1007 1018H1017V1021H1007zM722 1021H727V1024H722zM737 1021H742V1024H737zM747 1021H792V1024H747zM852 1021H887V1024H852zM947 1021H992V1024H947zM1002 1021H1007V1024H1002zM737 1024H742V1027H737zM747 1024H787V1027H747zM837 1024H847V1027H837zM892 1024H897V1027H892zM957 1024H987V1027H957zM992 1024H997V1027H992zM722 1027H742V1030H722zM747 1027H752V1030H747zM787 1027H792V1030H787zM827 1027H832V1030H827zM907 1027H912V1030H907zM947 1027H952V1030H947zM987 1027H1012V1030H987zM1017 1027H1018V1030H1017zM722 1030H747V1033H722zM752 1030H757V1033H752zM782 1030H792V1033H782zM822 1030H827V1033H822zM947 1030H957V1033H947zM982 1030H992V1033H982zM1007 1030H1018V1033H1007zM722 1033H727V1036H722zM737 1033H762V1036H737zM772 1033H777V1036H772zM912 1033H917V1036H912zM952 1033H962V1036H952zM972 1033H1002V1036H972zM1007 1033H1012V1036H1007zM737 1036H762V1039H737zM777 1036H787V1039H777zM952 1036H957V1039H952zM982 1036H1002V1039H982zM757 1039H777V1042H757zM962 1039H987V1042H962zM747 1042H767V1045H747zM772 1042H787V1045H772zM817 1042H822V1045H817zM957 1042H977V1045H957zM982 1042H987V1045H982zM992 1042H997V1045H992zM762 1045H767V1048H762zM772 1045H782V1048H772zM817 1045H822V1048H817zM967 1045H972V1048H967zM757 1048H762V1051H757zM767 1048H782V1051H767zM812 1048H817V1051H812zM922 1048H927V1051H922zM957 1048H982V1051H957zM757 1051H777V1054H757zM807 1051H812V1054H807zM957 1051H982V1054H957zM762 1054H767V1057H762zM772 1054H777V1057H772zM807 1054H812V1057H807zM927 1054H932V1057H927zM972 1054H977V1057H972zM762 1057H782V1060H762zM802 1057H807V1060H802zM932 1057H942V1060H932zM957 1057H982V1060H957zM762 1060H767V1063H762zM797 1060H802V1063H797zM937 1060H942V1063H937zM962 1060H977V1063H962zM797 1063H802V1066H797zM937 1063H942V1066H937zM797 1069H802V1072H797zM937 1069H942V1072H937zM932 1072H937V1075H932zM802 1075H807V1078H802zM932 1075H937V1078H932zM802 1078H807V1081H802zM932 1078H937V1081H932zM807 1081H812V1084H807zM927 1081H932V1084H927zM927 1084H932V1087H927zM812 1087H817V1090H812zM922 1087H927V1090H922zM817 1093H822V1096H817zM917 1093H922V1096H917zM822 1096H827V1099H822zM827 1099H832V1102H827zM832 1102H837V1105H832zM832 1105H837V1108H832zM902 1105H907V1108H902zM837 1108H847V1111H837zM852 1111H857V1114H852zM882 1111H892V1114H882zM857 1114H862V1117H857zM877 1114H882V1117H877zM872 1117H877V1120H872zM1017 1138H1018V1141H1017zM732 1144H752V1147H732zM757 1144H767V1147H757zM942 1144H947V1147H942zM977 1144H1007V1147H977zM1012 1147H1018V1150H1012zM757 1150H782V1153H757zM817 1150H822V1153H817zM942 1150H947V1153H942zM952 1150H982V1153H952zM747 1153H777V1156H747zM947 1153H957V1156H947zM962 1153H987V1156H962zM757 1156H762V1159H757zM777 1156H802V1159H777zM807 1156H822V1159H807zM827 1156H832V1159H827zM912 1156H917V1159H912zM932 1156H937V1159H932zM947 1156H952V1159H947zM957 1156H962V1159H957zM967 1156H972V1159H967zM812 1159H817V1162H812zM832 1159H842V1162H832zM897 1159H922V1162H897zM927 1159H937V1162H927zM817 1162H827V1165H817zM832 1162H837V1165H832zM847 1162H857V1165H847zM887 1162H892V1165H887zM897 1162H907V1165H897zM857 1165H862V1168H857zM867 1165H877V1168H867z"/>
<path fill="#e3d88c" d="M847 994H867V997H847zM882 994H892V997H882zM832 997H837V1000H832zM902 1000H907V1003H902zM822 1003H832V1006H822zM907 1003H922V1006H907zM812 1006H822V1009H812zM922 1006H927V1009H922zM807 1009H812V1012H807zM927 1009H932V1012H927zM807 1012H817V1015H807zM927 1012H932V1015H927zM807 1015H812V1018H807zM932 1015H937V1018H932zM802 1018H807V1021H802zM847 1018H867V1021H847zM872 1018H897V1021H872zM932 1018H937V1021H932zM727 1021H737V1024H727zM742 1021H747V1024H742zM792 1021H797V1024H792zM842 1021H852V1024H842zM887 1021H897V1024H887zM942 1021H947V1024H942zM992 1021H1002V1024H992zM1007 1021H1018V1024H1007zM722 1024H737V1027H722zM742 1024H747V1027H742zM787 1024H792V1027H787zM897 1024H907V1027H897zM942 1024H957V1027H942zM987 1024H992V1027H987zM997 1024H1018V1027H997zM792 1027H797V1030H792zM822 1027H827V1030H822zM912 1027H917V1030H912zM942 1027H947V1030H942zM792 1030H797V1033H792zM912 1030H917V1033H912zM1002 1030H1007V1033H1002zM727 1033H737V1036H727zM787 1033H792V1036H787zM822 1033H827V1036H822zM917 1033H922V1036H917zM947 1033H952V1036H947zM1002 1033H1007V1036H1002zM1012 1033H1018V1036H1012zM722 1036H737V1039H722zM787 1036H792V1039H787zM817 1036H822V1039H817zM917 1036H922V1039H917zM947 1036H952V1039H947zM1002 1036H1018V1039H1002zM727 1039H732V1042H727zM737 1039H757V1042H737zM777 1039H792V1042H777zM817 1039H822V1042H817zM917 1039H922V1042H917zM952 1039H962V1042H952zM987 1039H1012V1042H987zM732 1042H747V1045H732zM787 1042H792V1045H787zM812 1042H817V1045H812zM947 1042H957V1045H947zM977 1042H982V1045H977zM987 1042H992V1045H987zM997 1042H1012V1045H997zM747 1045H762V1048H747zM767 1045H772V1048H767zM812 1045H817V1048H812zM957 1045H967V1048H957zM972 1045H987V1048H972zM742 1048H757V1051H742zM762 1048H767V1051H762zM782 1048H787V1051H782zM807 1048H812V1051H807zM927 1048H932V1051H927zM952 1048H957V1051H952zM982 1048H992V1051H982zM747 1051H757V1054H747zM777 1051H787V1054H777zM802 1051H807V1054H802zM927 1051H937V1054H927zM952 1051H957V1054H952zM982 1051H997V1054H982zM757 1054H762V1057H757zM767 1054H772V1057H767zM777 1054H787V1057H777zM802 1054H807V1057H802zM932 1054H937V1057H932zM957 1054H972V1057H957zM977 1054H987V1057H977zM747 1057H762V1060H747zM782 1057H802V1060H782zM952 1057H957V1060H952zM982 1057H987V1060H982zM757 1060H762V1063H757zM772 1060H797V1063H772zM942 1060H947V1063H942zM952 1060H962V1063H952zM977 1060H982V1063H977zM792 1063H797V1066H792zM942 1063H947V1066H942zM962 1063H972V1066H962zM797 1066H802V1069H797zM937 1066H942V1069H937zM942 1069H947V1072H942zM797 1072H802V1075H797zM937 1072H942V1075H937zM802 1081H807V1084H802zM807 1084H812V1087H807zM927 1087H932V1090H927zM812 1090H817V1093H812zM922 1090H927V1093H922zM922 1093H927V1096H922zM917 1096H922V1099H917zM822 1099H827V1102H822zM912 1099H917V1102H912zM827 1102H832V1105H827zM907 1102H912V1105H907zM907 1105H912V1108H907zM1017 1105H1018V1108H1017zM897 1108H907V1111H897zM847 1111H852V1114H847zM852 1114H857V1117H852zM882 1114H887V1117H882zM857 1117H867V1120H857zM867 1120H872V1123H867zM962 1123H967V1126H962zM722 1138H742V1141H722zM967 1138H972V1141H967zM992 1138H997V1141H992zM1002 1138H1017V1141H1002zM722 1141H732V1144H722zM1002 1141H1018V1144H1002zM752 1144H757V1147H752zM767 1144H807V1147H767zM812 1144H817V1147H812zM922 1144H927V1147H922zM937 1144H942V1147H937zM947 1144H977V1147H947zM722 1147H752V1150H722zM757 1147H762V1150H757zM987 1147H992V1150H987zM997 1147H1012V1150H997zM782 1150H817V1153H782zM822 1150H832V1153H822zM912 1150H942V1153H912zM947 1150H952V1153H947zM777 1153H832V1156H777zM902 1153H947V1156H902zM957 1153H962V1156H957zM802 1156H807V1159H802zM822 1156H827V1159H822zM832 1156H842V1159H832zM897 1156H912V1159H897zM917 1156H932V1159H917zM937 1156H947V1159H937zM952 1156H957V1159H952zM842 1159H857V1162H842zM882 1159H897V1162H882zM857 1162H862V1165H857zM877 1162H887V1165H877z"/>
<path fill="#d5c183" d="M867 994H882V997H867zM837 997H842V1000H837zM897 997H902V1000H897zM837 1000H842V1003H837zM897 1000H902V1003H897zM902 1003H907V1006H902zM822 1006H827V1009H822zM912 1006H922V1009H912zM812 1009H817V1012H812zM922 1009H927V1012H922zM922 1012H927V1015H922zM812 1015H817V1018H812zM857 1015H877V1018H857zM882 1015H887V1018H882zM892 1015H897V1018H892zM922 1015H932V1018H922zM807 1018H812V1021H807zM837 1018H847V1021H837zM897 1018H902V1021H897zM927 1018H932V1021H927zM797 1021H807V1024H797zM832 1021H842V1024H832zM897 1021H902V1024H897zM937 1021H942V1024H937zM792 1024H802V1027H792zM827 1024H837V1027H827zM907 1024H917V1027H907zM797 1027H802V1030H797zM817 1027H822V1030H817zM917 1027H922V1030H917zM937 1027H942V1030H937zM797 1030H802V1033H797zM817 1030H822V1033H817zM917 1030H922V1033H917zM937 1030H947V1033H937zM792 1033H797V1036H792zM817 1033H822V1036H817zM942 1033H947V1036H942zM792 1036H797V1039H792zM812 1036H817V1039H812zM922 1036H927V1039H922zM942 1036H947V1039H942zM722 1039H727V1042H722zM732 1039H737V1042H732zM812 1039H817V1042H812zM922 1039H927V1042H922zM947 1039H952V1042H947zM1012 1039H1018V1042H1012zM722 1042H732V1045H722zM792 1042H797V1045H792zM922 1042H927V1045H922zM1012 1042H1018V1045H1012zM732 1045H747V1048H732zM782 1045H792V1048H782zM922 1045H927V1048H922zM947 1045H957V1048H947zM987 1045H1007V1048H987zM737 1048H742V1051H737zM787 1048H792V1051H787zM802 1048H807V1051H802zM947 1048H952V1051H947zM992 1048H1002V1051H992zM732 1051H747V1054H732zM787 1051H802V1054H787zM937 1051H952V1054H937zM997 1051H1002V1054H997zM747 1054H757V1057H747zM787 1054H797V1057H787zM937 1054H957V1057H937zM987 1054H997V1057H987zM942 1057H952V1060H942zM987 1057H997V1060H987zM752 1060H757V1063H752zM947 1060H952V1063H947zM982 1060H992V1063H982zM757 1063H792V1066H757zM947 1063H962V1066H947zM972 1063H982V1066H972zM772 1066H782V1069H772zM792 1066H797V1069H792zM942 1066H952V1069H942zM967 1066H972V1069H967zM767 1069H797V1072H767zM947 1069H972V1072H947zM797 1075H802V1078H797zM937 1075H942V1078H937zM797 1078H802V1081H797zM937 1078H942V1081H937zM932 1081H937V1084H932zM932 1084H937V1087H932zM807 1087H812V1090H807zM812 1093H817V1096H812zM817 1096H822V1099H817zM912 1102H917V1105H912zM722 1105H737V1108H722zM827 1105H832V1108H827zM912 1105H917V1108H912zM997 1105H1002V1108H997zM1007 1105H1017V1108H1007zM722 1108H747V1111H722zM752 1108H757V1111H752zM832 1108H837V1111H832zM987 1108H1018V1111H987zM842 1111H847V1114H842zM892 1111H897V1114H892zM1007 1111H1012V1114H1007zM732 1114H737V1117H732zM747 1114H757V1117H747zM762 1114H767V1117H762zM847 1114H852V1117H847zM887 1114H892V1117H887zM977 1114H982V1117H977zM987 1114H992V1117H987zM1017 1114H1018V1117H1017zM747 1117H772V1120H747zM877 1117H887V1120H877zM967 1117H972V1120H967zM977 1117H987V1120H977zM997 1117H1002V1120H997zM742 1120H752V1123H742zM757 1120H777V1123H757zM872 1120H882V1123H872zM967 1120H972V1123H967zM982 1120H992V1123H982zM1017 1120H1018V1123H1017zM732 1123H737V1126H732zM742 1123H782V1126H742zM867 1123H872V1126H867zM957 1123H962V1126H957zM967 1123H997V1126H967zM1002 1123H1007V1126H1002zM1012 1123H1017V1126H1012zM722 1126H727V1129H722zM757 1126H772V1129H757zM777 1126H782V1129H777zM962 1126H972V1129H962zM977 1126H982V1129H977zM722 1129H727V1132H722zM747 1129H752V1132H747zM757 1129H782V1132H757zM952 1129H977V1132H952zM982 1129H992V1132H982zM1007 1129H1012V1132H1007zM1017 1129H1018V1132H1017zM722 1132H737V1135H722zM742 1132H762V1135H742zM767 1132H792V1135H767zM947 1132H957V1135H947zM967 1132H992V1135H967zM997 1132H1007V1135H997zM1012 1132H1018V1135H1012zM722 1135H737V1138H722zM777 1135H782V1138H777zM792 1135H797V1138H792zM967 1135H972V1138H967zM977 1135H982V1138H977zM992 1135H1018V1138H992zM742 1138H807V1141H742zM932 1138H967V1141H932zM972 1138H992V1141H972zM997 1138H1002V1141H997zM732 1141H762V1144H732zM767 1141H777V1144H767zM792 1141H802V1144H792zM967 1141H977V1144H967zM987 1141H1002V1144H987zM807 1144H812V1147H807zM817 1144H827V1147H817zM912 1144H922V1147H912zM927 1144H937V1147H927zM752 1147H757V1150H752zM762 1147H797V1150H762zM817 1147H822V1150H817zM952 1147H987V1150H952zM992 1147H997V1150H992zM832 1150H842V1153H832zM897 1150H912V1153H897zM832 1153H842V1156H832zM897 1153H902V1156H897zM842 1156H852V1159H842zM887 1156H897V1159H887zM857 1159H862V1162H857zM877 1159H882V1162H877zM862 1162H877V1165H862z"/>
<path fill="#c3a778" d="M842 997H847V1000H842zM852 997H862V1000H852zM887 997H897V1000H887zM842 1000H847V1003H842zM882 1000H887V1003H882zM892 1000H897V1003H892zM832 1003H837V1006H832zM827 1006H832V1009H827zM907 1006H912V1009H907zM817 1009H827V1012H817zM912 1009H922V1012H912zM817 1012H837V1015H817zM862 1012H882V1015H862zM917 1012H922V1015H917zM817 1015H832V1018H817zM837 1015H842V1018H837zM847 1015H857V1018H847zM877 1015H882V1018H877zM887 1015H892V1018H887zM897 1015H902V1018H897zM912 1015H922V1018H912zM812 1018H837V1021H812zM902 1018H927V1021H902zM822 1021H832V1024H822zM902 1021H917V1024H902zM927 1021H937V1024H927zM802 1024H807V1027H802zM822 1024H827V1027H822zM917 1024H922V1027H917zM937 1024H942V1027H937zM802 1027H817V1030H802zM927 1027H937V1030H927zM802 1030H807V1033H802zM812 1030H817V1033H812zM922 1030H937V1033H922zM797 1033H802V1036H797zM812 1033H817V1036H812zM922 1033H927V1036H922zM937 1033H942V1036H937zM797 1036H802V1039H797zM807 1036H812V1039H807zM937 1036H942V1039H937zM792 1039H797V1042H792zM927 1039H932V1042H927zM937 1039H947V1042H937zM807 1042H812V1045H807zM927 1042H932V1045H927zM942 1042H947V1045H942zM722 1045H732V1048H722zM792 1045H797V1048H792zM807 1045H812V1048H807zM927 1045H932V1048H927zM937 1045H942V1048H937zM1007 1045H1018V1048H1007zM727 1048H737V1051H727zM792 1048H802V1051H792zM932 1048H947V1051H932zM1002 1048H1018V1051H1002zM727 1051H732V1054H727zM1002 1051H1017V1054H1002zM737 1054H747V1057H737zM797 1054H802V1057H797zM1002 1054H1007V1057H1002zM742 1057H747V1060H742zM997 1057H1002V1060H997zM747 1060H752V1063H747zM992 1060H997V1063H992zM752 1063H757V1066H752zM982 1063H987V1066H982zM762 1066H772V1069H762zM782 1066H792V1069H782zM952 1066H967V1069H952zM972 1066H977V1069H972zM762 1069H767V1072H762zM972 1069H977V1072H972zM782 1072H797V1075H782zM942 1072H952V1075H942zM957 1072H962V1075H957zM792 1075H797V1078H792zM942 1078H947V1081H942zM937 1081H942V1084H937zM802 1084H807V1087H802zM807 1090H812V1093H807zM927 1090H932V1093H927zM722 1093H727V1096H722zM927 1093H932V1096H927zM1017 1093H1018V1096H1017zM722 1096H727V1099H722zM922 1096H927V1099H922zM1012 1096H1018V1099H1012zM722 1099H732V1102H722zM917 1099H922V1102H917zM1012 1099H1018V1102H1012zM722 1102H732V1105H722zM822 1102H827V1105H822zM997 1102H1007V1105H997zM1012 1102H1018V1105H1012zM737 1105H757V1108H737zM822 1105H827V1108H822zM982 1105H997V1108H982zM1002 1105H1007V1108H1002zM747 1108H752V1111H747zM757 1108H767V1111H757zM827 1108H832V1111H827zM907 1108H912V1111H907zM972 1108H987V1111H972zM722 1111H752V1114H722zM757 1111H762V1114H757zM897 1111H902V1114H897zM982 1111H992V1114H982zM997 1111H1007V1114H997zM1012 1111H1018V1114H1012zM722 1114H732V1117H722zM737 1114H747V1117H737zM757 1114H762V1117H757zM767 1114H777V1117H767zM842 1114H847V1117H842zM892 1114H897V1117H892zM962 1114H977V1117H962zM982 1114H987V1117H982zM992 1114H1017V1117H992zM722 1117H747V1120H722zM772 1117H782V1120H772zM847 1117H857V1120H847zM887 1117H892V1120H887zM957 1117H967V1120H957zM972 1117H977V1120H972zM987 1117H997V1120H987zM1002 1117H1018V1120H1002zM722 1120H742V1123H722zM752 1120H757V1123H752zM777 1120H787V1123H777zM857 1120H867V1123H857zM957 1120H967V1123H957zM972 1120H982V1123H972zM992 1120H1012V1123H992zM722 1123H732V1126H722zM737 1123H742V1126H737zM782 1123H787V1126H782zM872 1123H877V1126H872zM947 1123H957V1126H947zM997 1123H1002V1126H997zM1007 1123H1012V1126H1007zM1017 1123H1018V1126H1017zM727 1126H757V1129H727zM772 1126H777V1129H772zM782 1126H792V1129H782zM947 1126H962V1129H947zM972 1126H977V1129H972zM982 1126H1018V1129H982zM727 1129H747V1132H727zM752 1129H757V1132H752zM782 1129H802V1132H782zM942 1129H952V1132H942zM977 1129H982V1132H977zM992 1129H1007V1132H992zM1012 1129H1017V1132H1012zM737 1132H742V1135H737zM762 1132H767V1135H762zM792 1132H802V1135H792zM937 1132H947V1135H937zM957 1132H967V1135H957zM992 1132H997V1135H992zM1007 1132H1012V1135H1007zM737 1135H777V1138H737zM782 1135H792V1138H782zM797 1135H807V1138H797zM937 1135H967V1138H937zM972 1135H977V1138H972zM982 1135H992V1138H982zM807 1138H812V1141H807zM927 1138H932V1141H927zM762 1141H767V1144H762zM777 1141H792V1144H777zM802 1141H817V1144H802zM922 1141H967V1144H922zM977 1141H987V1144H977zM827 1144H832V1147H827zM907 1144H912V1147H907zM797 1147H817V1150H797zM822 1147H827V1150H822zM912 1147H952V1150H912zM842 1150H847V1153H842zM842 1153H847V1156H842zM892 1153H897V1156H892zM852 1156H857V1159H852zM882 1156H887V1159H882zM862 1159H877V1162H862z"/>
<path fill="#ab8968" d="M847 997H852V1000H847zM862 997H887V1000H862zM847 1000H882V1003H847zM887 1000H892V1003H887zM837 1003H847V1006H837zM892 1003H902V1006H892zM832 1006H842V1009H832zM897 1006H907V1009H897zM827 1009H832V1012H827zM907 1009H912V1012H907zM837 1012H862V1015H837zM882 1012H917V1015H882zM832 1015H837V1018H832zM842 1015H847V1018H842zM902 1015H912V1018H902zM807 1021H822V1024H807zM917 1021H927V1024H917zM807 1024H822V1027H807zM927 1024H937V1027H927zM922 1027H927V1030H922zM807 1030H812V1033H807zM802 1033H812V1036H802zM927 1033H937V1036H927zM802 1036H807V1039H802zM927 1036H937V1039H927zM797 1039H812V1042H797zM932 1039H937V1042H932zM797 1042H807V1045H797zM932 1042H942V1045H932zM797 1045H807V1048H797zM932 1045H937V1048H932zM942 1045H947V1048H942zM722 1048H727V1051H722zM722 1051H727V1054H722zM1017 1051H1018V1054H1017zM732 1054H737V1057H732zM997 1054H1002V1057H997zM732 1057H742V1060H732zM737 1060H747V1063H737zM997 1060H1002V1063H997zM747 1063H752V1066H747zM987 1063H992V1066H987zM752 1066H762V1069H752zM977 1066H987V1069H977zM757 1069H762V1072H757zM977 1069H982V1072H977zM772 1072H782V1075H772zM952 1072H957V1075H952zM962 1072H972V1075H962zM777 1075H792V1078H777zM942 1075H957V1078H942zM787 1078H797V1081H787zM947 1078H957V1081H947zM797 1081H802V1084H797zM797 1084H802V1087H797zM937 1084H942V1087H937zM802 1087H807V1090H802zM932 1087H937V1090H932zM1017 1087H1018V1090H1017zM727 1093H732V1096H727zM807 1093H812V1096H807zM1007 1093H1017V1096H1007zM732 1096H737V1099H732zM1002 1096H1012V1099H1002zM732 1099H737V1102H732zM742 1099H747V1102H742zM817 1099H822V1102H817zM1002 1099H1012V1102H1002zM732 1102H757V1105H732zM917 1102H922V1105H917zM992 1102H997V1105H992zM1007 1102H1012V1105H1007zM757 1105H772V1108H757zM967 1105H982V1108H967zM767 1108H772V1111H767zM822 1108H827V1111H822zM912 1108H917V1111H912zM962 1108H972V1111H962zM752 1111H757V1114H752zM762 1111H772V1114H762zM837 1111H842V1114H837zM902 1111H907V1114H902zM967 1111H982V1114H967zM992 1111H997V1114H992zM777 1114H782V1117H777zM837 1114H842V1117H837zM897 1114H902V1117H897zM957 1114H962V1117H957zM782 1117H787V1120H782zM952 1117H957V1120H952zM787 1120H792V1123H787zM852 1120H857V1123H852zM882 1120H887V1123H882zM947 1120H957V1123H947zM1012 1120H1017V1123H1012zM787 1123H797V1126H787zM862 1123H867V1126H862zM877 1123H882V1126H877zM942 1123H947V1126H942zM792 1126H797V1129H792zM867 1126H872V1129H867zM942 1126H947V1129H942zM802 1129H807V1132H802zM937 1129H942V1132H937zM802 1132H812V1135H802zM932 1132H937V1135H932zM807 1135H812V1138H807zM927 1135H937V1138H927zM812 1138H822V1141H812zM917 1138H927V1141H917zM817 1141H827V1144H817zM912 1141H922V1144H912zM832 1144H837V1147H832zM902 1144H907V1147H902zM827 1147H832V1150H827zM902 1147H912V1150H902zM892 1150H897V1153H892zM847 1153H857V1156H847zM882 1153H892V1156H882zM857 1156H862V1159H857zM877 1156H882V1159H877z"/>
<path fill="#936b59" d="M847 1003H892V1006H847zM842 1006H847V1009H842zM852 1006H862V1009H852zM872 1006H877V1009H872zM887 1006H897V1009H887zM832 1009H842V1012H832zM847 1009H852V1012H847zM857 1009H872V1012H857zM877 1009H882V1012H877zM892 1009H907V1012H892zM922 1024H927V1027H922zM727 1054H732V1057H727zM1007 1054H1017V1057H1007zM727 1057H732V1060H727zM1002 1057H1012V1060H1002zM732 1060H737V1063H732zM1002 1060H1007V1063H1002zM742 1063H747V1066H742zM992 1063H997V1066H992zM987 1066H992V1069H987zM752 1069H757V1072H752zM982 1069H987V1072H982zM762 1072H772V1075H762zM972 1072H977V1075H972zM772 1075H777V1078H772zM957 1075H972V1078H957zM772 1078H787V1081H772zM957 1078H967V1081H957zM792 1081H797V1084H792zM942 1081H952V1084H942zM722 1087H727V1090H722zM1012 1087H1017V1090H1012zM722 1090H727V1093H722zM1012 1090H1018V1093H1012zM732 1093H742V1096H732zM997 1093H1007V1096H997zM727 1096H732V1099H727zM737 1096H742V1099H737zM812 1096H817V1099H812zM997 1096H1002V1099H997zM737 1099H742V1102H737zM812 1099H817V1102H812zM922 1099H927V1102H922zM992 1099H1002V1102H992zM757 1102H762V1105H757zM817 1102H822V1105H817zM982 1102H992V1105H982zM817 1105H822V1108H817zM917 1105H922V1108H917zM962 1105H967V1108H962zM772 1108H782V1111H772zM957 1108H962V1111H957zM772 1111H782V1114H772zM832 1111H837V1114H832zM957 1111H967V1114H957zM782 1114H787V1117H782zM902 1114H907V1117H902zM952 1114H957V1117H952zM787 1117H792V1120H787zM842 1117H847V1120H842zM892 1117H897V1120H892zM947 1117H952V1120H947zM792 1120H797V1123H792zM847 1120H852V1123H847zM887 1120H892V1123H887zM942 1120H947V1123H942zM797 1123H802V1126H797zM857 1123H862V1126H857zM882 1123H887V1126H882zM937 1123H942V1126H937zM797 1126H802V1129H797zM872 1126H877V1129H872zM937 1126H942V1129H937zM932 1129H937V1132H932zM927 1132H932V1135H927zM812 1135H817V1138H812zM922 1135H927V1138H922zM822 1138H827V1141H822zM912 1138H917V1141H912zM827 1141H832V1144H827zM832 1147H842V1150H832zM897 1147H902V1150H897zM847 1150H857V1153H847zM887 1150H892V1153H887zM862 1156H877V1159H862z"/>
<path fill="#845a52" d="M847 1006H852V1009H847zM862 1006H872V1009H862zM877 1006H887V1009H877zM842 1009H847V1012H842zM852 1009H857V1012H852zM872 1009H877V1012H872zM882 1009H892V1012H882zM722 1054H727V1057H722zM1017 1054H1018V1057H1017zM722 1057H727V1060H722zM1012 1057H1018V1060H1012zM727 1060H732V1063H727zM1007 1060H1012V1063H1007zM737 1063H742V1066H737zM997 1063H1002V1066H997zM742 1066H752V1069H742zM992 1066H997V1069H992zM747 1069H752V1072H747zM987 1069H992V1072H987zM757 1072H762V1075H757zM977 1072H982V1075H977zM762 1075H772V1078H762zM972 1075H977V1078H972zM767 1078H772V1081H767zM967 1078H972V1081H967zM777 1081H792V1084H777zM952 1081H957V1084H952zM787 1084H797V1087H787zM942 1084H947V1087H942zM1017 1084H1018V1087H1017zM727 1087H732V1090H727zM797 1087H802V1090H797zM937 1087H942V1090H937zM1007 1087H1012V1090H1007zM727 1090H737V1093H727zM802 1090H807V1093H802zM932 1090H937V1093H932zM1007 1090H1012V1093H1007zM742 1093H747V1096H742zM802 1093H807V1096H802zM932 1093H937V1096H932zM742 1096H747V1099H742zM807 1096H812V1099H807zM927 1096H932V1099H927zM992 1096H997V1099H992zM747 1099H762V1102H747zM982 1099H992V1102H982zM762 1102H767V1105H762zM972 1102H982V1105H972zM772 1105H782V1108H772zM957 1105H962V1108H957zM817 1108H822V1111H817zM917 1108H922V1111H917zM782 1111H787V1114H782zM827 1111H832V1114H827zM907 1111H917V1114H907zM952 1111H957V1114H952zM832 1114H837V1117H832zM837 1117H842V1120H837zM897 1117H902V1120H897zM892 1120H897V1123H892zM802 1123H807V1126H802zM847 1123H857V1126H847zM802 1126H807V1129H802zM857 1126H867V1129H857zM932 1126H937V1129H932zM807 1129H812V1132H807zM927 1129H932V1132H927zM812 1132H817V1135H812zM922 1132H927V1135H922zM817 1135H822V1138H817zM917 1135H922V1138H917zM827 1138H832V1141H827zM907 1138H912V1141H907zM907 1141H912V1144H907zM837 1144H842V1147H837zM897 1144H902V1147H897zM882 1150H887V1153H882zM857 1153H862V1156H857zM877 1153H882V1156H877z"/>
<path fill="#815855" d="M722 1060H727V1063H722zM1012 1060H1018V1063H1012zM732 1063H737V1066H732zM1002 1063H1007V1066H1002zM997 1066H1002V1069H997zM742 1069H747V1072H742zM992 1069H997V1072H992zM752 1072H757V1075H752zM982 1072H987V1075H982zM757 1075H762V1078H757zM977 1075H982V1078H977zM762 1078H767V1081H762zM972 1078H977V1081H972zM772 1081H777V1084H772zM957 1081H972V1084H957zM1017 1081H1018V1084H1017zM722 1084H732V1087H722zM777 1084H787V1087H777zM947 1084H962V1087H947zM1012 1084H1017V1087H1012zM732 1087H737V1090H732zM792 1087H797V1090H792zM942 1087H947V1090H942zM1002 1087H1007V1090H1002zM742 1090H747V1093H742zM797 1090H802V1093H797zM937 1090H942V1093H937zM1002 1090H1007V1093H1002zM747 1093H752V1096H747zM982 1093H997V1096H982zM747 1096H762V1099H747zM982 1096H992V1099H982zM762 1099H767V1102H762zM927 1099H932V1102H927zM977 1099H982V1102H977zM767 1102H772V1105H767zM922 1102H927V1105H922zM967 1102H972V1105H967zM782 1105H787V1108H782zM922 1105H927V1108H922zM782 1108H787V1111H782zM952 1108H957V1111H952zM822 1111H827V1114H822zM787 1114H792V1117H787zM827 1114H832V1117H827zM907 1114H917V1117H907zM947 1114H952V1117H947zM792 1117H797V1120H792zM832 1117H837V1120H832zM942 1117H947V1120H942zM797 1120H802V1123H797zM842 1120H847V1123H842zM897 1120H902V1123H897zM937 1120H942V1123H937zM887 1123H897V1126H887zM932 1123H937V1126H932zM807 1126H812V1129H807zM877 1126H882V1129H877zM812 1129H817V1132H812zM862 1129H877V1132H862zM922 1129H927V1132H922zM817 1132H822V1135H817zM917 1132H922V1135H917zM822 1135H827V1138H822zM832 1141H837V1144H832zM902 1141H907V1144H902zM842 1144H847V1147H842zM892 1144H897V1147H892zM842 1147H847V1150H842zM892 1147H897V1150H892zM857 1150H862V1153H857zM877 1150H882V1153H877zM862 1153H867V1156H862zM872 1153H877V1156H872z"/>
<path fill="#916e6b" d="M722 1063H727V1066H722zM1012 1063H1018V1066H1012zM1007 1066H1012V1069H1007zM722 1069H737V1072H722zM1007 1069H1018V1072H1007zM742 1072H747V1075H742zM992 1072H1002V1075H992zM747 1075H752V1078H747zM987 1075H992V1078H987zM1017 1075H1018V1078H1017zM722 1078H727V1081H722zM992 1078H997V1081H992zM1007 1078H1012V1081H1007zM727 1081H737V1084H727zM742 1081H747V1084H742zM757 1081H762V1084H757zM977 1081H982V1084H977zM1002 1081H1012V1084H1002zM737 1084H747V1087H737zM757 1084H767V1087H757zM972 1084H977V1087H972zM982 1084H987V1087H982zM992 1084H997V1087H992zM747 1087H757V1090H747zM767 1087H777V1090H767zM962 1087H972V1090H962zM982 1087H987V1090H982zM992 1087H997V1090H992zM747 1090H777V1093H747zM782 1090H797V1093H782zM947 1090H967V1093H947zM972 1090H987V1093H972zM772 1093H797V1096H772zM942 1093H952V1096H942zM957 1093H972V1096H957zM767 1096H782V1099H767zM802 1096H807V1099H802zM937 1096H942V1099H937zM967 1096H977V1099H967zM777 1099H787V1102H777zM932 1099H937V1102H932zM957 1099H967V1102H957zM782 1102H787V1105H782zM807 1102H812V1105H807zM927 1102H932V1105H927zM952 1102H957V1105H952zM927 1105H932V1108H927zM947 1105H952V1108H947zM792 1108H797V1111H792zM812 1108H817V1111H812zM922 1108H927V1111H922zM817 1111H822V1114H817zM917 1111H922V1114H917zM797 1114H802V1117H797zM917 1114H922V1117H917zM807 1117H812V1120H807zM822 1117H832V1120H822zM912 1117H917V1120H912zM932 1117H937V1120H932zM807 1120H812V1123H807zM832 1120H837V1123H832zM907 1120H912V1123H907zM837 1123H842V1126H837zM897 1123H907V1126H897zM812 1126H817V1129H812zM887 1126H892V1129H887zM922 1126H927V1129H922zM817 1129H822V1132H817zM852 1129H862V1132H852zM882 1129H887V1132H882zM917 1129H922V1132H917zM867 1132H877V1135H867zM827 1135H832V1138H827zM907 1135H912V1138H907zM897 1141H902V1144H897zM887 1144H892V1147H887zM872 1150H877V1153H872z"/>
<path fill="#896360" d="M727 1063H732V1066H727zM1007 1063H1012V1066H1007zM732 1066H742V1069H732zM1002 1066H1007V1069H1002zM737 1069H742V1072H737zM997 1069H1007V1072H997zM747 1072H752V1075H747zM987 1072H992V1075H987zM752 1075H757V1078H752zM982 1075H987V1078H982zM752 1078H762V1081H752zM977 1078H992V1081H977zM1012 1078H1018V1081H1012zM722 1081H727V1084H722zM762 1081H772V1084H762zM972 1081H977V1084H972zM1012 1081H1017V1084H1012zM732 1084H737V1087H732zM767 1084H777V1087H767zM962 1084H972V1087H962zM997 1084H1012V1087H997zM737 1087H747V1090H737zM777 1087H792V1090H777zM947 1087H962V1090H947zM987 1087H992V1090H987zM997 1087H1002V1090H997zM737 1090H742V1093H737zM942 1090H947V1093H942zM987 1090H1002V1093H987zM752 1093H772V1096H752zM797 1093H802V1096H797zM937 1093H942V1096H937zM972 1093H982V1096H972zM762 1096H767V1099H762zM932 1096H937V1099H932zM977 1096H982V1099H977zM767 1099H777V1102H767zM807 1099H812V1102H807zM967 1099H977V1102H967zM772 1102H782V1105H772zM812 1102H817V1105H812zM957 1102H967V1105H957zM787 1105H792V1108H787zM812 1105H817V1108H812zM952 1105H957V1108H952zM787 1108H792V1111H787zM947 1108H952V1111H947zM787 1111H792V1114H787zM947 1111H952V1114H947zM792 1114H797V1117H792zM822 1114H827V1117H822zM942 1114H947V1117H942zM797 1117H802V1120H797zM902 1117H912V1120H902zM937 1117H942V1120H937zM802 1120H807V1123H802zM837 1120H842V1123H837zM902 1120H907V1123H902zM932 1120H937V1123H932zM807 1123H812V1126H807zM842 1123H847V1126H842zM927 1123H932V1126H927zM852 1126H857V1129H852zM882 1126H887V1129H882zM927 1126H932V1129H927zM877 1129H882V1132H877zM822 1132H827V1135H822zM912 1132H917V1135H912zM912 1135H917V1138H912zM832 1138H837V1141H832zM902 1138H907V1141H902zM837 1141H842V1144H837zM847 1144H852V1147H847zM847 1147H852V1150H847zM887 1147H892V1150H887zM862 1150H867V1153H862zM867 1153H872V1156H867z"/>
<path fill="#997976" d="M722 1066H732V1069H722zM1012 1066H1018V1069H1012zM722 1072H742V1075H722zM1002 1072H1018V1075H1002zM722 1075H732V1078H722zM737 1075H747V1078H737zM992 1075H1017V1078H992zM727 1078H752V1081H727zM997 1078H1007V1081H997zM737 1081H742V1084H737zM747 1081H757V1084H747zM982 1081H1002V1084H982zM747 1084H757V1087H747zM977 1084H982V1087H977zM987 1084H992V1087H987zM757 1087H767V1090H757zM972 1087H982V1090H972zM777 1090H782V1093H777zM967 1090H972V1093H967zM952 1093H957V1096H952zM782 1096H792V1099H782zM797 1096H802V1099H797zM947 1096H967V1099H947zM787 1099H792V1102H787zM802 1099H807V1102H802zM952 1099H957V1102H952zM787 1102H792V1105H787zM792 1105H802V1108H792zM807 1105H812V1108H807zM942 1105H947V1108H942zM807 1108H812V1111H807zM927 1108H932V1111H927zM942 1108H947V1111H942zM792 1111H797V1114H792zM812 1111H817V1114H812zM922 1111H927V1114H922zM942 1111H947V1114H942zM802 1114H807V1117H802zM812 1114H822V1117H812zM932 1114H942V1117H932zM802 1117H807V1120H802zM812 1117H817V1120H812zM917 1117H932V1120H917zM812 1120H817V1123H812zM827 1120H832V1123H827zM922 1120H932V1123H922zM812 1123H817V1126H812zM832 1123H837V1126H832zM907 1123H917V1126H907zM922 1123H927V1126H922zM817 1126H822V1129H817zM842 1126H852V1129H842zM892 1126H897V1129H892zM912 1126H922V1129H912zM822 1129H827V1132H822zM887 1129H892V1132H887zM912 1129H917V1132H912zM827 1132H832V1135H827zM862 1132H867V1135H862zM907 1132H912V1135H907zM837 1138H842V1141H837zM897 1138H902V1141H897zM852 1144H857V1147H852zM852 1147H857V1150H852zM882 1147H887V1150H882zM867 1150H872V1153H867z"/>
<path fill="#a48684" d="M732 1075H737V1078H732zM792 1096H797V1099H792zM942 1096H947V1099H942zM792 1099H802V1102H792zM937 1099H952V1102H937zM792 1102H797V1105H792zM802 1102H807V1105H802zM932 1102H942V1105H932zM947 1102H952V1105H947zM802 1105H807V1108H802zM932 1105H942V1108H932zM797 1108H807V1111H797zM932 1108H942V1111H932zM797 1111H802V1114H797zM927 1111H942V1114H927zM807 1114H812V1117H807zM922 1114H932V1117H922zM817 1117H822V1120H817zM817 1120H827V1123H817zM912 1120H922V1123H912zM817 1123H832V1126H817zM917 1123H922V1126H917zM822 1126H842V1129H822zM897 1126H902V1129H897zM827 1129H832V1132H827zM842 1129H852V1132H842zM892 1129H897V1132H892zM907 1129H912V1132H907zM832 1132H837V1135H832zM852 1132H862V1135H852zM877 1132H887V1135H877zM832 1135H837V1138H832zM902 1135H907V1138H902zM842 1138H847V1141H842zM842 1141H847V1144H842zM892 1141H897V1144H892zM882 1144H887V1147H882zM857 1147H862V1150H857z"/>
<path fill="#af9594" d="M797 1102H802V1105H797zM942 1102H947V1105H942zM802 1111H812V1114H802zM902 1126H912V1129H902zM832 1129H842V1132H832zM897 1129H907V1132H897zM837 1132H852V1135H837zM887 1132H892V1135H887zM897 1132H907V1135H897zM837 1135H842V1138H837zM862 1135H877V1138H862zM897 1135H902V1138H897zM887 1138H897V1141H887zM847 1141H852V1144H847zM887 1141H892V1144H887zM857 1144H862V1147H857zM877 1144H882V1147H877zM872 1147H882V1150H872z"/>
<path fill="#baa4a3" d="M892 1132H897V1135H892zM842 1135H862V1138H842zM877 1135H882V1138H877zM887 1135H897V1138H887zM847 1138H857V1141H847zM867 1138H872V1141H867zM882 1138H887V1141H882zM852 1141H857V1144H852zM862 1144H867V1147H862zM872 1144H877V1147H872zM862 1147H867V1150H862z"/>
<path fill="#c5b2b2" d="M882 1135H887V1138H882zM857 1138H867V1141H857zM872 1138H882V1141H872zM857 1141H862V1144H857zM877 1141H887V1144H877zM867 1144H872V1147H867zM867 1147H872V1150H867z"/>
<path fill="#d0c1c1" d="M862 1141H867V1144H862zM872 1141H877V1144H872z"/>
<path fill="#dacece" d="M867 1141H872V1144H867z"/>
</g>
<rect x="725.5" y="60.0" width="297.5" height="295.2" fill="none" stroke="#1a1a2a" stroke-width="1.6" />
<rect x="723.0" y="534.0" width="295.0" height="294.0" fill="none" stroke="#1a1a2a" stroke-width="1.6" />
<rect x="722.0" y="928.0" width="296.0" height="295.0" fill="none" stroke="#1a1a2a" stroke-width="1.6" />
<line x1="725.5" y1="275.0" x2="1023.0" y2="275.0" stroke="#e0282a" stroke-width="3.5" />
<line x1="723.0" y1="744.5" x2="1018.0" y2="744.5" stroke="#e0282a" stroke-width="3.5" />
<text x="740.0" y="88.0" font-size="33" text-anchor="start" fill="#fff" >6 K</text>
<text x="737.0" y="563.0" font-size="33" text-anchor="start" fill="#fff" >31 K</text>
<text x="736.0" y="956.0" font-size="33" text-anchor="start" fill="#fff" >56 K</text>
<text x="991" y="307" font-size="33" fill="#fff">k<tspan font-size="20" dy="10">1</tspan></text>
<text x="975" y="773" font-size="33" fill="#fff">k<tspan font-size="20" dy="10">1</tspan></text>
<rect x="1045.0" y="215.0" width="17.0" height="2.3" fill="#faf6f6" stroke="none" stroke-width="1" />
<rect x="1045.0" y="216.7" width="17.0" height="2.3" fill="#f4efef" stroke="none" stroke-width="1" />
<rect x="1045.0" y="218.3" width="17.0" height="2.3" fill="#efe8e8" stroke="none" stroke-width="1" />
<rect x="1045.0" y="220.0" width="17.0" height="2.3" fill="#e9e1e1" stroke="none" stroke-width="1" />
<rect x="1045.0" y="221.7" width="17.0" height="2.3" fill="#e4dada" stroke="none" stroke-width="1" />
<rect x="1045.0" y="223.3" width="17.0" height="2.3" fill="#ded3d3" stroke="none" stroke-width="1" />
<rect x="1045.0" y="225.0" width="17.0" height="2.3" fill="#d9cccc" stroke="none" stroke-width="1" />
<rect x="1045.0" y="226.7" width="17.0" height="2.3" fill="#d3c5c5" stroke="none" stroke-width="1" />
<rect x="1045.0" y="228.3" width="17.0" height="2.3" fill="#cdbebe" stroke="none" stroke-width="1" />
<rect x="1045.0" y="230.0" width="17.0" height="2.3" fill="#c8b6b6" stroke="none" stroke-width="1" />
<rect x="1045.0" y="231.7" width="17.0" height="2.3" fill="#c2afae" stroke="none" stroke-width="1" />
<rect x="1045.0" y="233.3" width="17.0" height="2.3" fill="#bca7a6" stroke="none" stroke-width="1" />
<rect x="1045.0" y="235.0" width="17.0" height="2.3" fill="#b69f9e" stroke="none" stroke-width="1" />
<rect x="1045.0" y="236.7" width="17.0" height="2.3" fill="#b09796" stroke="none" stroke-width="1" />
<rect x="1045.0" y="238.3" width="17.0" height="2.3" fill="#ab908e" stroke="none" stroke-width="1" />
<rect x="1045.0" y="240.0" width="17.0" height="2.3" fill="#a58886" stroke="none" stroke-width="1" />
<rect x="1045.0" y="241.7" width="17.0" height="2.3" fill="#9f807e" stroke="none" stroke-width="1" />
<rect x="1045.0" y="243.3" width="17.0" height="2.3" fill="#9a7977" stroke="none" stroke-width="1" />
<rect x="1045.0" y="245.0" width="17.0" height="2.3" fill="#967471" stroke="none" stroke-width="1" />
<rect x="1045.0" y="246.7" width="17.0" height="2.3" fill="#916e6b" stroke="none" stroke-width="1" />
<rect x="1045.0" y="248.3" width="17.0" height="2.3" fill="#8d6865" stroke="none" stroke-width="1" />
<rect x="1045.0" y="250.0" width="17.0" height="2.3" fill="#89635f" stroke="none" stroke-width="1" />
<rect x="1045.0" y="251.7" width="17.0" height="2.3" fill="#855d59" stroke="none" stroke-width="1" />
<rect x="1045.0" y="253.3" width="17.0" height="2.3" fill="#815754" stroke="none" stroke-width="1" />
<rect x="1045.0" y="255.0" width="17.0" height="2.3" fill="#805651" stroke="none" stroke-width="1" />
<rect x="1045.0" y="256.7" width="17.0" height="2.3" fill="#855b52" stroke="none" stroke-width="1" />
<rect x="1045.0" y="258.3" width="17.0" height="2.3" fill="#8b6154" stroke="none" stroke-width="1" />
<rect x="1045.0" y="260.0" width="17.0" height="2.3" fill="#97705c" stroke="none" stroke-width="1" />
<rect x="1045.0" y="261.7" width="17.0" height="2.3" fill="#a48064" stroke="none" stroke-width="1" />
<rect x="1045.0" y="263.3" width="17.0" height="2.3" fill="#b0906c" stroke="none" stroke-width="1" />
<rect x="1045.0" y="265.0" width="17.0" height="2.3" fill="#bda074" stroke="none" stroke-width="1" />
<rect x="1045.0" y="266.7" width="17.0" height="2.3" fill="#cab07c" stroke="none" stroke-width="1" />
<rect x="1045.0" y="268.3" width="17.0" height="2.3" fill="#d2bd82" stroke="none" stroke-width="1" />
<rect x="1045.0" y="270.0" width="17.0" height="2.3" fill="#dac986" stroke="none" stroke-width="1" />
<rect x="1045.0" y="271.7" width="17.0" height="2.3" fill="#e1d58b" stroke="none" stroke-width="1" />
<rect x="1045.0" y="273.3" width="17.0" height="2.3" fill="#e8e190" stroke="none" stroke-width="1" />
<rect x="1045.0" y="275.0" width="17.0" height="2.3" fill="#dfe291" stroke="none" stroke-width="1" />
<rect x="1045.0" y="276.7" width="17.0" height="2.3" fill="#ccdc8f" stroke="none" stroke-width="1" />
<rect x="1045.0" y="278.3" width="17.0" height="2.3" fill="#b8d68e" stroke="none" stroke-width="1" />
<rect x="1045.0" y="280.0" width="17.0" height="2.3" fill="#a5d08c" stroke="none" stroke-width="1" />
<rect x="1045.0" y="281.7" width="17.0" height="2.3" fill="#93c985" stroke="none" stroke-width="1" />
<rect x="1045.0" y="283.3" width="17.0" height="2.3" fill="#82c37f" stroke="none" stroke-width="1" />
<rect x="1045.0" y="285.0" width="17.0" height="2.3" fill="#70bc79" stroke="none" stroke-width="1" />
<rect x="1045.0" y="286.7" width="17.0" height="2.3" fill="#65b875" stroke="none" stroke-width="1" />
<rect x="1045.0" y="288.3" width="17.0" height="2.3" fill="#60b573" stroke="none" stroke-width="1" />
<rect x="1045.0" y="290.0" width="17.0" height="2.3" fill="#5bb371" stroke="none" stroke-width="1" />
<rect x="1045.0" y="291.7" width="17.0" height="2.3" fill="#56b16e" stroke="none" stroke-width="1" />
<rect x="1045.0" y="293.3" width="17.0" height="2.3" fill="#50af6c" stroke="none" stroke-width="1" />
<rect x="1045.0" y="295.0" width="17.0" height="2.3" fill="#4bac6a" stroke="none" stroke-width="1" />
<rect x="1045.0" y="296.7" width="17.0" height="2.3" fill="#46aa69" stroke="none" stroke-width="1" />
<rect x="1045.0" y="298.3" width="17.0" height="2.3" fill="#39a483" stroke="none" stroke-width="1" />
<rect x="1045.0" y="300.0" width="17.0" height="2.3" fill="#319b9d" stroke="none" stroke-width="1" />
<rect x="1045.0" y="301.7" width="17.0" height="2.3" fill="#378cb7" stroke="none" stroke-width="1" />
<rect x="1045.0" y="303.3" width="17.0" height="2.3" fill="#397fc0" stroke="none" stroke-width="1" />
<rect x="1045.0" y="305.0" width="17.0" height="2.3" fill="#3573b9" stroke="none" stroke-width="1" />
<rect x="1045.0" y="306.7" width="17.0" height="2.3" fill="#3268b1" stroke="none" stroke-width="1" />
<rect x="1045.0" y="308.3" width="17.0" height="2.3" fill="#305fab" stroke="none" stroke-width="1" />
<rect x="1045.0" y="310.0" width="17.0" height="2.3" fill="#2e58a6" stroke="none" stroke-width="1" />
<rect x="1045.0" y="311.7" width="17.0" height="2.3" fill="#2d51a0" stroke="none" stroke-width="1" />
<rect x="1045.0" y="313.3" width="17.0" height="2.3" fill="#2b4a9b" stroke="none" stroke-width="1" />
<rect x="1045.0" y="215.0" width="17.0" height="100.0" fill="none" stroke="#222" stroke-width="1.4" />
<text x="1032.0" y="202.5" font-size="33.5" text-anchor="start" fill="#000" >High</text>
<text x="1033.0" y="341.5" font-size="33" text-anchor="start" fill="#000" >Low</text>
<rect x="1139.0" y="553.0" width="2.4" height="18.5" fill="#2b4a9b" stroke="none" stroke-width="1" />
<rect x="1140.8" y="553.0" width="2.4" height="18.5" fill="#2d51a0" stroke="none" stroke-width="1" />
<rect x="1142.5" y="553.0" width="2.4" height="18.5" fill="#2e58a6" stroke="none" stroke-width="1" />
<rect x="1144.3" y="553.0" width="2.4" height="18.5" fill="#305fab" stroke="none" stroke-width="1" />
<rect x="1146.1" y="553.0" width="2.4" height="18.5" fill="#3268b1" stroke="none" stroke-width="1" />
<rect x="1147.8" y="553.0" width="2.4" height="18.5" fill="#3573b9" stroke="none" stroke-width="1" />
<rect x="1149.6" y="553.0" width="2.4" height="18.5" fill="#397fc0" stroke="none" stroke-width="1" />
<rect x="1151.4" y="553.0" width="2.4" height="18.5" fill="#378cb7" stroke="none" stroke-width="1" />
<rect x="1153.1" y="553.0" width="2.4" height="18.5" fill="#319b9d" stroke="none" stroke-width="1" />
<rect x="1154.9" y="553.0" width="2.4" height="18.5" fill="#39a483" stroke="none" stroke-width="1" />
<rect x="1156.7" y="553.0" width="2.4" height="18.5" fill="#46aa69" stroke="none" stroke-width="1" />
<rect x="1158.4" y="553.0" width="2.4" height="18.5" fill="#4bac6a" stroke="none" stroke-width="1" />
<rect x="1160.2" y="553.0" width="2.4" height="18.5" fill="#50af6c" stroke="none" stroke-width="1" />
<rect x="1162.0" y="553.0" width="2.4" height="18.5" fill="#56b16e" stroke="none" stroke-width="1" />
<rect x="1163.7" y="553.0" width="2.4" height="18.5" fill="#5bb371" stroke="none" stroke-width="1" />
<rect x="1165.5" y="553.0" width="2.4" height="18.5" fill="#60b573" stroke="none" stroke-width="1" />
<rect x="1167.3" y="553.0" width="2.4" height="18.5" fill="#65b875" stroke="none" stroke-width="1" />
<rect x="1169.0" y="553.0" width="2.4" height="18.5" fill="#70bc79" stroke="none" stroke-width="1" />
<rect x="1170.8" y="553.0" width="2.4" height="18.5" fill="#82c37f" stroke="none" stroke-width="1" />
<rect x="1172.6" y="553.0" width="2.4" height="18.5" fill="#93c985" stroke="none" stroke-width="1" />
<rect x="1174.3" y="553.0" width="2.4" height="18.5" fill="#a5d08c" stroke="none" stroke-width="1" />
<rect x="1176.1" y="553.0" width="2.4" height="18.5" fill="#b8d68e" stroke="none" stroke-width="1" />
<rect x="1177.9" y="553.0" width="2.4" height="18.5" fill="#ccdc8f" stroke="none" stroke-width="1" />
<rect x="1179.6" y="553.0" width="2.4" height="18.5" fill="#dfe291" stroke="none" stroke-width="1" />
<rect x="1181.4" y="553.0" width="2.4" height="18.5" fill="#e8e190" stroke="none" stroke-width="1" />
<rect x="1183.2" y="553.0" width="2.4" height="18.5" fill="#e1d58b" stroke="none" stroke-width="1" />
<rect x="1184.9" y="553.0" width="2.4" height="18.5" fill="#dac986" stroke="none" stroke-width="1" />
<rect x="1186.7" y="553.0" width="2.4" height="18.5" fill="#d2bd82" stroke="none" stroke-width="1" />
<rect x="1188.5" y="553.0" width="2.4" height="18.5" fill="#cab07c" stroke="none" stroke-width="1" />
<rect x="1190.2" y="553.0" width="2.4" height="18.5" fill="#bda074" stroke="none" stroke-width="1" />
<rect x="1192.0" y="553.0" width="2.4" height="18.5" fill="#b0906c" stroke="none" stroke-width="1" />
<rect x="1193.8" y="553.0" width="2.4" height="18.5" fill="#a48064" stroke="none" stroke-width="1" />
<rect x="1195.5" y="553.0" width="2.4" height="18.5" fill="#97705c" stroke="none" stroke-width="1" />
<rect x="1197.3" y="553.0" width="2.4" height="18.5" fill="#8b6154" stroke="none" stroke-width="1" />
<rect x="1199.1" y="553.0" width="2.4" height="18.5" fill="#855b52" stroke="none" stroke-width="1" />
<rect x="1200.8" y="553.0" width="2.4" height="18.5" fill="#805651" stroke="none" stroke-width="1" />
<rect x="1202.6" y="553.0" width="2.4" height="18.5" fill="#815754" stroke="none" stroke-width="1" />
<rect x="1204.4" y="553.0" width="2.4" height="18.5" fill="#855d59" stroke="none" stroke-width="1" />
<rect x="1206.1" y="553.0" width="2.4" height="18.5" fill="#89635f" stroke="none" stroke-width="1" />
<rect x="1207.9" y="553.0" width="2.4" height="18.5" fill="#8d6865" stroke="none" stroke-width="1" />
<rect x="1209.7" y="553.0" width="2.4" height="18.5" fill="#916e6b" stroke="none" stroke-width="1" />
<rect x="1211.4" y="553.0" width="2.4" height="18.5" fill="#967471" stroke="none" stroke-width="1" />
<rect x="1213.2" y="553.0" width="2.4" height="18.5" fill="#9a7977" stroke="none" stroke-width="1" />
<rect x="1215.0" y="553.0" width="2.4" height="18.5" fill="#9f807e" stroke="none" stroke-width="1" />
<rect x="1216.7" y="553.0" width="2.4" height="18.5" fill="#a58886" stroke="none" stroke-width="1" />
<rect x="1218.5" y="553.0" width="2.4" height="18.5" fill="#ab908e" stroke="none" stroke-width="1" />
<rect x="1220.3" y="553.0" width="2.4" height="18.5" fill="#b09796" stroke="none" stroke-width="1" />
<rect x="1222.0" y="553.0" width="2.4" height="18.5" fill="#b69f9e" stroke="none" stroke-width="1" />
<rect x="1223.8" y="553.0" width="2.4" height="18.5" fill="#bca7a6" stroke="none" stroke-width="1" />
<rect x="1225.6" y="553.0" width="2.4" height="18.5" fill="#c2afae" stroke="none" stroke-width="1" />
<rect x="1227.3" y="553.0" width="2.4" height="18.5" fill="#c8b6b6" stroke="none" stroke-width="1" />
<rect x="1229.1" y="553.0" width="2.4" height="18.5" fill="#cdbebe" stroke="none" stroke-width="1" />
<rect x="1230.9" y="553.0" width="2.4" height="18.5" fill="#d3c5c5" stroke="none" stroke-width="1" />
<rect x="1232.6" y="553.0" width="2.4" height="18.5" fill="#d9cccc" stroke="none" stroke-width="1" />
<rect x="1234.4" y="553.0" width="2.4" height="18.5" fill="#ded3d3" stroke="none" stroke-width="1" />
<rect x="1236.2" y="553.0" width="2.4" height="18.5" fill="#e4dada" stroke="none" stroke-width="1" />
<rect x="1237.9" y="553.0" width="2.4" height="18.5" fill="#e9e1e1" stroke="none" stroke-width="1" />
<rect x="1239.7" y="553.0" width="2.4" height="18.5" fill="#efe8e8" stroke="none" stroke-width="1" />
<rect x="1241.5" y="553.0" width="2.4" height="18.5" fill="#f4efef" stroke="none" stroke-width="1" />
<rect x="1243.2" y="553.0" width="2.4" height="18.5" fill="#faf6f6" stroke="none" stroke-width="1" />
<rect x="1139.0" y="553.0" width="106.0" height="18.5" fill="none" stroke="#222" stroke-width="1.6" />
<defs>
<clipPath id="clipA"><rect x="0" y="0" width="1500" height="1510"/></clipPath>
<clipPath id="clipD"><rect x="0" y="0" width="1500" height="1500"/></clipPath>
<pattern id="hatch" patternUnits="userSpaceOnUse" width="48.9" height="100" x="40"><rect width="48.9" height="100" fill="#e8a23e"/><rect x="0" y="0" width="6.5" height="100" fill="#161210"/></pattern>
<filter id="soft" x="-5%" y="-5%" width="110%" height="110%"><feGaussianBlur stdDeviation="6"/></filter>
<linearGradient id="cbA" x1="0" y1="0" x2="0" y2="1">
<stop offset="0" stop-color="#fcf8e4"/><stop offset="0.1" stop-color="#f6ecbc"/><stop offset="0.2" stop-color="#f1da92"/><stop offset="0.3" stop-color="#eec272"/><stop offset="0.4" stop-color="#eba244"/><stop offset="0.5" stop-color="#ea8c38"/><stop offset="0.58" stop-color="#e86c2a"/><stop offset="0.66" stop-color="#c84c22"/><stop offset="0.75" stop-color="#a02a20"/><stop offset="0.85" stop-color="#621618"/><stop offset="0.95" stop-color="#2c0808"/><stop offset="1" stop-color="#1a0404"/>
</linearGradient>
</defs>
<g transform="translate(155.4,61) scale(0.2062)" clip-path="url(#clipA)">
<g filter="url(#soft)">
<rect x="-20" y="-20" width="1540" height="1550" fill="#d46a2c"/>
<polygon points="265,-20 330,65 380,30 470,30 540,80 570,130 610,150 660,200 670,230 740,210 770,270 800,280 870,330 940,400 975,430 1030,370 1110,340 1120,400 1100,450 1150,450 1250,480 1300,560 1340,620 1380,680 1420,720 1520,730 1520,-20" fill="#8c3220" />
<polygon points="540,-20 770,-20 760,60 700,120 690,200 660,200 610,150 570,130 540,80" fill="#3a0e08" />
<polygon points="1130,-20 1135,80 1200,100 1260,140 1290,150 1330,110 1330,60 1360,-20" fill="#140303" />
<polygon points="1360,-20 1370,-20 1380,200 1320,270 1400,290 1520,290 1520,-20" fill="#140303" />
<polygon points="300,-20 540,-20 520,60 470,30 380,30 330,60" fill="#5a1c10" />
<ellipse cx="960" cy="380" rx="60" ry="40" fill="#3a0c08" />
<ellipse cx="1160" cy="400" rx="50" ry="45" fill="#3a0c08" />
<ellipse cx="1160" cy="540" rx="45" ry="40" fill="#3a0c08" />
<ellipse cx="830" cy="210" rx="50" ry="35" fill="#4a1008" />
<ellipse cx="1060" cy="110" rx="70" ry="40" fill="#501408" />
<ellipse cx="900" cy="60" rx="60" ry="40" fill="#5a180c" />
<ellipse cx="1280" cy="380" rx="70" ry="50" fill="#521608" />
<ellipse cx="825" cy="160" rx="60" ry="40" fill="#d0742e" />
<ellipse cx="150" cy="120" rx="60" ry="40" fill="#a8401c" opacity="0.55"/>
<ellipse cx="420" cy="270" rx="50" ry="40" fill="#a8401c" opacity="0.55"/>
<ellipse cx="330" cy="310" rx="50" ry="35" fill="#a8401c" opacity="0.55"/>
<ellipse cx="560" cy="330" rx="40" ry="30" fill="#a8401c" opacity="0.55"/>
<ellipse cx="700" cy="560" rx="90" ry="60" fill="#a8401c" opacity="0.55"/>
<ellipse cx="470" cy="560" rx="60" ry="50" fill="#a8401c" opacity="0.55"/>
<ellipse cx="790" cy="650" rx="60" ry="40" fill="#a8401c" opacity="0.55"/>
<ellipse cx="1000" cy="760" rx="60" ry="50" fill="#a8401c" opacity="0.55"/>
<ellipse cx="1250" cy="950" rx="60" ry="50" fill="#a8401c" opacity="0.55"/>
<ellipse cx="1400" cy="1000" rx="60" ry="60" fill="#a8401c" opacity="0.55"/>
<ellipse cx="1260" cy="640" rx="50" ry="40" fill="#a8401c" opacity="0.55"/>
<ellipse cx="90" cy="760" rx="60" ry="60" fill="#a8401c" opacity="0.55"/>
<ellipse cx="1430" cy="1280" rx="60" ry="60" fill="#a8401c" opacity="0.55"/>
<ellipse cx="775" cy="540" rx="45" ry="40" fill="#f0c060" />
<polygon points="-20,870 60,870 100,810 140,790 190,760 230,790 260,830 270,880 300,910 350,910 450,940 500,1000 520,1070 620,1080 700,1060 800,1090 840,1160 880,1200 870,1260 950,1270 940,1180 960,1130 980,1080 1030,1050 1080,1090 1140,1200 1110,1250 1130,1320 1150,1400 1200,1450 1250,1530 -20,1530" fill="#f1cf80" />
<ellipse cx="150" cy="1000" rx="170" ry="28" fill="#e6a048" transform="rotate(35 150 1000)"/>
<ellipse cx="330" cy="1130" rx="150" ry="24" fill="#e6a048" transform="rotate(30 330 1130)"/>
<ellipse cx="520" cy="1220" rx="140" ry="21" fill="#e6a048" transform="rotate(25 520 1220)"/>
<ellipse cx="80" cy="1180" rx="90" ry="28" fill="#e6a048" transform="rotate(30 80 1180)"/>
<ellipse cx="700" cy="1320" rx="120" ry="24" fill="#e6a048" transform="rotate(20 700 1320)"/>
<ellipse cx="900" cy="1380" rx="90" ry="28" fill="#e6a048" transform="rotate(0 900 1380)"/>
<ellipse cx="1180" cy="1300" rx="80" ry="84" fill="#e6a048" transform="rotate(0 1180 1300)"/>
<ellipse cx="420" cy="1000" rx="60" ry="21" fill="#e6a048" transform="rotate(30 420 1000)"/>
<ellipse cx="640" cy="1440" rx="80" ry="28" fill="#e6a048" transform="rotate(0 640 1440)"/>
<polygon points="-20,1350 100,1320 200,1310 330,1320 400,1380 430,1530 -20,1530" fill="#f9ecc4" />
<ellipse cx="590" cy="1430" rx="30" ry="25" fill="#fbf2d8" />
<ellipse cx="1030" cy="1120" rx="60" ry="50" fill="#f3d490" />
<polygon points="1150,1400 1200,1450 1280,1440 1400,1480 1520,1530 1520,1200 1460,1210 1400,1160 1300,1100 1250,1090 1170,1080 1140,1200 1110,1250 1130,1320" fill="#d87636" />
</g>
<polygon points="-20,210 70,200 100,190 250,190 270,215 215,260 250,310 290,340 350,390 400,460 450,450 490,410 560,400 630,395 680,430 660,480 600,460 520,490 560,570 640,660 700,720 780,730 860,700 930,650 990,630 1000,700 990,780 1040,830 1100,820 1150,810 1230,830 1260,880 1220,960 1190,1030 1170,1080 1250,1090 1300,1100 1400,1160 1460,1210 1520,1230 1520,1530 1400,1480 1280,1440 1200,1450 1150,1400 1130,1320 1110,1250 1140,1200 1080,1090 1030,1050 980,1080 960,1130 940,1180 950,1270 870,1260 880,1200 840,1160 800,1090 700,1060 620,1080 520,1070 500,1000 450,940 350,910 300,910 270,880 260,830 230,790 190,760 140,790 100,810 60,870 -20,760" fill="url(#hatch)" />
<polygon points="30,560 120,540 220,560 270,540 250,600 190,680 230,760 190,760 140,790 60,720 30,640" fill="#da8036" />
<polyline points="30,560 120,540 220,560 270,540 250,600 190,680 230,760 190,760 140,790 60,720 30,640 30,560" fill="none" stroke="#1a1008" stroke-width="5" stroke-dasharray="20,12" stroke-linejoin="round" />
<polygon points="330,640 420,620 470,660 420,720 360,720 330,690" fill="#da8036" />
<polyline points="330,640 420,620 470,660 420,720 360,720 330,690 330,640" fill="none" stroke="#1a1008" stroke-width="5" stroke-dasharray="20,12" stroke-linejoin="round" />
<polygon points="520,900 600,880 640,860 660,920 620,980 560,960 500,960" fill="#da8036" />
<polyline points="520,900 600,880 640,860 660,920 620,980 560,960 500,960 520,900" fill="none" stroke="#1a1008" stroke-width="5" stroke-dasharray="20,12" stroke-linejoin="round" />
<polygon points="720,880 800,840 870,880 880,960 830,1000 760,980 720,940" fill="#da8036" />
<polyline points="720,880 800,840 870,880 880,960 830,1000 760,980 720,940 720,880" fill="none" stroke="#1a1008" stroke-width="5" stroke-dasharray="20,12" stroke-linejoin="round" />
<polygon points="880,1000 960,950 1030,980 1020,1050 960,1080 900,1060" fill="#da8036" />
<polyline points="880,1000 960,950 1030,980 1020,1050 960,1080 900,1060 880,1000" fill="none" stroke="#1a1008" stroke-width="5" stroke-dasharray="20,12" stroke-linejoin="round" />
<polygon points="1110,1250 1180,1230 1250,1260 1280,1320 1270,1400 1200,1440 1150,1400 1130,1320" fill="#da8036" />
<polyline points="1110,1250 1180,1230 1250,1260 1280,1320 1270,1400 1200,1440 1150,1400 1130,1320 1110,1250" fill="none" stroke="#1a1008" stroke-width="5" stroke-dasharray="20,12" stroke-linejoin="round" />
<polygon points="1390,1250 1460,1230 1500,1260 1500,1440 1420,1440 1400,1360" fill="#da8036" />
<polyline points="1390,1250 1460,1230 1500,1260 1500,1440 1420,1440 1400,1360 1390,1250" fill="none" stroke="#1a1008" stroke-width="5" stroke-dasharray="20,12" stroke-linejoin="round" />
<polyline points="265,15 330,65 380,30 470,30 540,80 570,130 610,150 660,200 670,230 740,210 770,270 800,280 870,330 940,400 975,430 1030,370 1110,340 1120,400 1100,450 1150,450 1250,480 1300,560 1340,620 1380,680 1420,720 1500,730" fill="none" stroke="#2a4aa6" stroke-width="11" stroke-dasharray="26,18" stroke-linejoin="round" />
<polyline points="1130,0 1140,80 1200,100 1260,140 1290,150 1330,110 1330,60 1360,0" fill="none" stroke="#2a4aa6" stroke-width="11" stroke-dasharray="26,18" stroke-linejoin="round" />
<polyline points="1370,0 1380,200 1310,280 1400,290 1480,280 1500,300" fill="none" stroke="#2a4aa6" stroke-width="11" stroke-dasharray="26,18" stroke-linejoin="round" />
<polyline points="0,210 70,200 100,190 250,190 270,215 215,260 250,310 290,340 350,390 400,460 450,450 490,410 560,400 630,395 680,430 660,480 600,460 520,490 560,570 640,660 700,720 780,730 860,700 930,650 990,630 1000,700 990,780 1040,830 1100,820 1150,810 1230,830 1260,880 1220,960 1190,1030 1170,1080 1250,1090 1300,1100 1400,1160 1460,1210 1500,1230" fill="none" stroke="#2a4aa6" stroke-width="11" stroke-dasharray="26,18" stroke-linejoin="round" />
<polyline points="70,220 100,290 120,360 150,330 180,290 150,250" fill="none" stroke="#2a4aa6" stroke-width="11" stroke-dasharray="26,18" stroke-linejoin="round" />
<polyline points="0,760 60,870 100,810 140,790 190,760 230,790 260,830 270,880 300,910 350,910 450,940 500,1000 520,1070 620,1080 700,1060 800,1090 840,1160 880,1200 870,1260 950,1270 940,1180 960,1130 980,1080 1030,1050 1080,1090 1140,1200 1110,1250 1130,1320 1150,1400 1200,1450 1280,1440 1400,1480 1460,1510" fill="none" stroke="#2a4aa6" stroke-width="11" stroke-dasharray="26,18" stroke-linejoin="round" />
<polyline points="10,1270 50,1340 100,1320 200,1310 330,1320 400,1380 430,1510" fill="none" stroke="#2a4aa6" stroke-width="11" stroke-dasharray="26,18" stroke-linejoin="round" />
</g>
<rect x="155.4" y="61.0" width="308.4" height="310.2" fill="none" stroke="#231815" stroke-width="1.6" />
<rect x="469.3" y="60.0" width="17.2" height="310.5" fill="url(#cbA)" stroke="none" stroke-width="1" />
<rect x="469.3" y="60.0" width="17.2" height="310.5" fill="none" stroke="#231815" stroke-width="1.4" />
<line x1="486.5" y1="60.5" x2="493.0" y2="60.5" stroke="#000" stroke-width="1.4" />
<line x1="486.5" y1="370.0" x2="493.0" y2="370.0" stroke="#000" stroke-width="1.4" />
<g transform="translate(160.6,521) scale(0.2053)" clip-path="url(#clipD)">
<g filter="url(#soft)">
<rect x="-20" y="-20" width="1540" height="1540" fill="#ee8a32"/>
<polygon points="-20,-20 -20,140 100,180 170,230 220,290 300,270 420,270 530,310 540,350 520,420 540,490 600,550 660,580 700,600 720,550 790,540 900,560 950,510 990,490 1010,520 1020,580 1060,620 1110,680 1130,750 1100,800 1100,870 1150,920 1190,960 1200,900 1260,890 1330,920 1380,980 1430,1030 1520,1050 1520,-20" fill="#c24a26" />
<polygon points="980,300 1100,250 1250,300 1520,280 1520,1050 1430,1030 1380,980 1330,920 1260,890 1200,900 1150,860 1130,750 1110,680 1060,620 1020,520 990,420" fill="#a83a20" />
<polygon points="1380,-20 1520,-20 1520,360 1450,350 1400,250 1460,150 1440,80" fill="#7a2016" />
<ellipse cx="700" cy="60" rx="120" ry="60" fill="#8a2a18" opacity="0.6"/>
<ellipse cx="880" cy="130" rx="70" ry="50" fill="#8a2a18" opacity="0.6"/>
<ellipse cx="420" cy="180" rx="50" ry="40" fill="#8a2a18" opacity="0.6"/>
<ellipse cx="300" cy="230" rx="60" ry="40" fill="#8a2a18" opacity="0.6"/>
<ellipse cx="630" cy="360" rx="60" ry="50" fill="#8a2a18" opacity="0.6"/>
<ellipse cx="760" cy="230" rx="60" ry="40" fill="#8a2a18" opacity="0.6"/>
<ellipse cx="1150" cy="560" rx="70" ry="60" fill="#8a2a18" opacity="0.6"/>
<ellipse cx="1300" cy="700" rx="80" ry="60" fill="#8a2a18" opacity="0.6"/>
<ellipse cx="620" cy="420" rx="50" ry="40" fill="#8a2a18" opacity="0.6"/>
<ellipse cx="720" cy="300" rx="40" ry="40" fill="#8a2a18" opacity="0.6"/>
<ellipse cx="560" cy="180" rx="90" ry="70" fill="#e0702c" opacity="0.8"/>
<ellipse cx="930" cy="300" rx="110" ry="70" fill="#e0702c" opacity="0.8"/>
<ellipse cx="120" cy="60" rx="90" ry="60" fill="#e0702c" opacity="0.8"/>
<ellipse cx="320" cy="60" rx="80" ry="50" fill="#e0702c" opacity="0.8"/>
<ellipse cx="1060" cy="170" rx="80" ry="60" fill="#e0702c" opacity="0.8"/>
<ellipse cx="1370" cy="180" rx="60" ry="80" fill="#e0702c" opacity="0.8"/>
<polygon points="-20,1140 60,1150 120,1200 200,1200 260,1240 330,1300 330,1400 360,1460 400,1470 500,1520 -20,1520" fill="#f4dc98" />
<ellipse cx="40" cy="1330" rx="110" ry="140" fill="#f8ecc0" />
</g>
<polygon points="340,390 400,370 470,390 490,440 450,480 380,490 330,450" fill="#f2a03a" opacity="0.85"/>
<polyline points="340,390 400,370 470,390 490,440 450,480 380,490 330,450 340,390" fill="none" stroke="#3a86d0" stroke-width="9" stroke-dasharray="22,16" stroke-linejoin="round" />
<polygon points="370,600 450,570 550,570 600,610 590,680 520,720 440,700 370,650" fill="#f2a03a" opacity="0.85"/>
<polyline points="370,600 450,570 550,570 600,610 590,680 520,720 440,700 370,650 370,600" fill="none" stroke="#3a86d0" stroke-width="9" stroke-dasharray="22,16" stroke-linejoin="round" />
<polygon points="30,620 110,600 190,640 200,720 170,820 100,860 40,820 20,720" fill="#f2a03a" opacity="0.85"/>
<polyline points="30,620 110,600 190,640 200,720 170,820 100,860 40,820 20,720 30,620" fill="none" stroke="#3a86d0" stroke-width="9" stroke-dasharray="22,16" stroke-linejoin="round" />
<polygon points="300,880 380,860 450,870 470,940 440,1000 360,1010 300,980 290,930" fill="#f2a03a" opacity="0.85"/>
<polyline points="300,880 380,860 450,870 470,940 440,1000 360,1010 300,980 290,930 300,880" fill="none" stroke="#3a86d0" stroke-width="9" stroke-dasharray="22,16" stroke-linejoin="round" />
<polygon points="160,1060 260,1050 330,1100 450,1060 560,1080 610,1180 580,1260 480,1270 380,1240 300,1180 200,1140" fill="#f2a03a" opacity="0.85"/>
<polyline points="160,1060 260,1050 330,1100 450,1060 560,1080 610,1180 580,1260 480,1270 380,1240 300,1180 200,1140 160,1060" fill="none" stroke="#3a86d0" stroke-width="9" stroke-dasharray="22,16" stroke-linejoin="round" />
<polygon points="710,1280 800,1260 900,1300 960,1380 940,1480 850,1500 740,1460 700,1370" fill="#f2a03a" opacity="0.85"/>
<polyline points="710,1280 800,1260 900,1300 960,1380 940,1480 850,1500 740,1460 700,1370 710,1280" fill="none" stroke="#3a86d0" stroke-width="9" stroke-dasharray="22,16" stroke-linejoin="round" />
<polygon points="500,180 570,150 650,170 670,240 620,290 540,290 500,240" fill="#f2a03a" opacity="0.85"/>
<polyline points="500,180 570,150 650,170 670,240 620,290 540,290 500,240 500,180" fill="none" stroke="#3a86d0" stroke-width="9" stroke-dasharray="22,16" stroke-linejoin="round" />
<polygon points="830,250 920,220 1040,240 1060,330 1000,370 900,360 830,320" fill="#f2a03a" opacity="0.85"/>
<polyline points="830,250 920,220 1040,240 1060,330 1000,370 900,360 830,320 830,250" fill="none" stroke="#3a86d0" stroke-width="9" stroke-dasharray="22,16" stroke-linejoin="round" />
<polygon points="40,40 120,20 240,40 260,110 200,140 100,130 40,100" fill="#f2a03a" opacity="0.85"/>
<polyline points="40,40 120,20 240,40 260,110 200,140 100,130 40,100 40,40" fill="none" stroke="#3a86d0" stroke-width="9" stroke-dasharray="22,16" stroke-linejoin="round" />
<polygon points="240,20 330,10 400,40 390,110 320,120 250,90" fill="#f2a03a" opacity="0.85"/>
<polyline points="240,20 330,10 400,40 390,110 320,120 250,90 240,20" fill="none" stroke="#3a86d0" stroke-width="9" stroke-dasharray="22,16" stroke-linejoin="round" />
<polygon points="1330,1040 1400,1030 1440,1070 1420,1110 1350,1110" fill="#f2a03a" opacity="0.85"/>
<polyline points="1330,1040 1400,1030 1440,1070 1420,1110 1350,1110 1330,1040" fill="none" stroke="#3a86d0" stroke-width="9" stroke-dasharray="22,16" stroke-linejoin="round" />
<polygon points="1200,1260 1280,1240 1310,1290 1270,1320 1210,1310" fill="#f2a03a" opacity="0.85"/>
<polyline points="1200,1260 1280,1240 1310,1290 1270,1320 1210,1310 1200,1260" fill="none" stroke="#3a86d0" stroke-width="9" stroke-dasharray="22,16" stroke-linejoin="round" />
<polygon points="1160,1450 1250,1420 1320,1440 1340,1500 1170,1500" fill="#f2a03a" opacity="0.85"/>
<polyline points="1160,1450 1250,1420 1320,1440 1340,1500 1170,1500 1160,1450" fill="none" stroke="#3a86d0" stroke-width="9" stroke-dasharray="22,16" stroke-linejoin="round" />
<polyline points="1040,260 1120,240 1220,260 1270,300 1260,360 1300,380 1350,420 1370,380 1330,330" fill="none" stroke="#3a86d0" stroke-width="9" stroke-dasharray="22,16" stroke-linejoin="round" />
<polyline points="1380,1200 1440,1180 1500,1200" fill="none" stroke="#3a86d0" stroke-width="9" stroke-dasharray="22,16" stroke-linejoin="round" />
<polyline points="1420,1280 1470,1330 1500,1360" fill="none" stroke="#3a86d0" stroke-width="9" stroke-dasharray="22,16" stroke-linejoin="round" />
<polyline points="0,140 100,180 170,230 220,290 300,270 420,270 530,310 540,350 520,420 540,490 600,550 660,580 700,600 700,650 650,665 620,640" fill="none" stroke="#23307a" stroke-width="22" stroke-dasharray="18,16" stroke-linejoin="round" />
<polyline points="720,550 790,540 900,560 950,510 990,490 1010,520 1020,580 1060,620 1110,680 1130,750 1100,800 1100,870 1150,920 1190,960 1200,900 1260,890 1330,920 1380,980 1430,1030 1500,1050" fill="none" stroke="#23307a" stroke-width="22" stroke-dasharray="18,16" stroke-linejoin="round" />
<polyline points="1220,30 1300,50 1440,80 1460,150 1400,250 1450,350 1500,360" fill="none" stroke="#23307a" stroke-width="22" stroke-dasharray="18,16" stroke-linejoin="round" />
<polyline points="0,1140 60,1150 120,1200 200,1200 260,1240 330,1300 330,1400 360,1460 400,1470 500,1500" fill="none" stroke="#23307a" stroke-width="22" stroke-dasharray="18,16" stroke-linejoin="round" />
</g>
<rect x="160.6" y="521.0" width="307.0" height="307.0" fill="none" stroke="#231815" stroke-width="1.6" />
<linearGradient id="cbD" x1="0" y1="0" x2="0" y2="1"><stop offset="0" stop-color="#fcf8e4"/><stop offset="0.1" stop-color="#f6ecbc"/><stop offset="0.2" stop-color="#f1da92"/><stop offset="0.3" stop-color="#eec272"/><stop offset="0.4" stop-color="#eba244"/><stop offset="0.5" stop-color="#ea8c38"/><stop offset="0.58" stop-color="#e86c2a"/><stop offset="0.66" stop-color="#c84c22"/><stop offset="0.75" stop-color="#a02a20"/><stop offset="0.85" stop-color="#621618"/><stop offset="0.95" stop-color="#2c0808"/><stop offset="1" stop-color="#1a0404"/></linearGradient>
<rect x="471.0" y="523.0" width="16.0" height="306.0" fill="url(#cbD)" stroke="none" stroke-width="1" />
<rect x="471.0" y="523.0" width="16.0" height="306.0" fill="none" stroke="#231815" stroke-width="1.4" />
<line x1="487.0" y1="523.5" x2="493.0" y2="523.5" stroke="#000" stroke-width="1.4" />
<line x1="487.0" y1="828.5" x2="493.0" y2="828.5" stroke="#000" stroke-width="1.4" />
<text x="287.0" y="559.0" font-size="33" text-anchor="start" fill="#231815" >2uc FeSe</text>
<text x="293.0" y="692.5" font-size="33" text-anchor="start" fill="#231815" >1uc</text>
<text x="292.0" y="731.5" font-size="33" text-anchor="start" fill="#231815" >FeSe</text>
<text x="0" y="0" font-size="33" fill="#231815" transform="translate(392,618) rotate(52)">1uc</text>
<text x="0" y="0" font-size="33" fill="#231815" transform="translate(387,662) rotate(52)">2uc</text>
<line x1="143.1" y1="631.7" x2="167.0" y2="648.9" stroke="#231815" stroke-width="1.8" />
<polygon points="169.4,637.3 178.5,657.3 156.1,654.5 166.9,648.9" fill="#231815"/>
<rect x="50.0" y="89.0" width="62.5" height="62.0" fill="#eba03a" stroke="none" stroke-width="1" />
<line x1="57.5" y1="89.0" x2="57.5" y2="151.0" stroke="#231815" stroke-width="1.3" />
<line x1="67.6" y1="89.0" x2="67.6" y2="151.0" stroke="#231815" stroke-width="1.3" />
<line x1="77.6" y1="89.0" x2="77.6" y2="151.0" stroke="#231815" stroke-width="1.3" />
<line x1="87.5" y1="89.0" x2="87.5" y2="151.0" stroke="#231815" stroke-width="1.3" />
<line x1="97.5" y1="89.0" x2="97.5" y2="151.0" stroke="#231815" stroke-width="1.3" />
<line x1="107.6" y1="89.0" x2="107.6" y2="151.0" stroke="#231815" stroke-width="1.3" />
<rect x="50.0" y="89.0" width="62.5" height="62.0" fill="none" stroke="#1e1e2a" stroke-width="1.5" stroke-dasharray="3.6,2.2"/>
<text x="82.5" y="186.5" font-size="33.5" text-anchor="middle" fill="#000" >1uc FeSe</text>
<line x1="51.0" y1="245.5" x2="111.0" y2="245.5" stroke="#1e2a78" stroke-width="2.6" stroke-dasharray="5,4"/>
<text x="82.0" y="301.5" font-size="33.5" text-anchor="middle" fill="#000" >1uc LFO</text>
<text x="80.5" y="341.0" font-size="33.5" text-anchor="middle" fill="#000" >step edge</text>
<text x="497.0" y="70.0" font-size="33.5" text-anchor="start" fill="#000" >3.0nm</text>
<text x="497.0" y="377.5" font-size="34" text-anchor="start" fill="#000" >0.9nm</text>
<text x="399.0" y="398.5" font-size="34" text-anchor="middle" fill="#000" >200nm</text>
<rect x="352.0" y="406.5" width="104.0" height="9.5" fill="#231815" stroke="none" stroke-width="1" />
<text x="490.0" y="537.0" font-size="34" text-anchor="start" fill="#000" >4.4nm</text>
<text x="490.0" y="840.0" font-size="34" text-anchor="start" fill="#000" >0.0nm</text>
<text x="411.0" y="857.0" font-size="34" text-anchor="middle" fill="#000" >200nm</text>
<rect x="361.0" y="865.0" width="101.0" height="8.5" fill="#231815" stroke="none" stroke-width="1" />
<text x="18.0" y="630.0" font-size="33.5" text-anchor="start" fill="#000" >2uc FeSe</text>
<line x1="51.0" y1="731.5" x2="111.0" y2="731.5" stroke="#232f80" stroke-width="3.8" stroke-dasharray="4.2,5.2"/>
<text x="73.0" y="777.0" font-size="33.5" text-anchor="middle" fill="#000" >2uc LFO</text>
<text x="73.0" y="817.0" font-size="33.5" text-anchor="middle" fill="#000" >step edge</text>
<line x1="720.0" y1="60.0" x2="725.5" y2="60.0" stroke="#000" stroke-width="1.4" />
<text x="710.0" y="80.0" font-size="34" text-anchor="end" fill="#000" >0.4</text>
<line x1="722.0" y1="96.9" x2="725.5" y2="96.9" stroke="#000" stroke-width="1.4" />
<line x1="720.0" y1="133.8" x2="725.5" y2="133.8" stroke="#000" stroke-width="1.4" />
<text x="710.0" y="142.8" font-size="34" text-anchor="end" fill="#000" >0.2</text>
<line x1="722.0" y1="170.7" x2="725.5" y2="170.7" stroke="#000" stroke-width="1.4" />
<line x1="720.0" y1="207.6" x2="725.5" y2="207.6" stroke="#000" stroke-width="1.4" />
<text x="710.0" y="216.6" font-size="34" text-anchor="end" fill="#000" >0.0</text>
<line x1="722.0" y1="244.5" x2="725.5" y2="244.5" stroke="#000" stroke-width="1.4" />
<line x1="720.0" y1="281.4" x2="725.5" y2="281.4" stroke="#000" stroke-width="1.4" />
<text x="710.0" y="290.4" font-size="34" text-anchor="end" fill="#000" >-0.2</text>
<line x1="722.0" y1="318.3" x2="725.5" y2="318.3" stroke="#000" stroke-width="1.4" />
<line x1="720.0" y1="355.2" x2="725.5" y2="355.2" stroke="#000" stroke-width="1.4" />
<text x="710.0" y="364.2" font-size="34" text-anchor="end" fill="#000" >-0.4</text>
<line x1="726.9" y1="355.2" x2="726.9" y2="358.7" stroke="#000" stroke-width="1.4" />
<line x1="748.0" y1="355.2" x2="748.0" y2="358.7" stroke="#000" stroke-width="1.4" />
<line x1="769.1" y1="355.2" x2="769.1" y2="360.7" stroke="#000" stroke-width="1.4" />
<text x="775.9" y="394.0" font-size="34" text-anchor="middle" fill="#000" >-50</text>
<line x1="790.2" y1="355.2" x2="790.2" y2="358.7" stroke="#000" stroke-width="1.4" />
<line x1="811.3" y1="355.2" x2="811.3" y2="358.7" stroke="#000" stroke-width="1.4" />
<line x1="832.4" y1="355.2" x2="832.4" y2="358.7" stroke="#000" stroke-width="1.4" />
<line x1="853.5" y1="355.2" x2="853.5" y2="358.7" stroke="#000" stroke-width="1.4" />
<line x1="874.6" y1="355.2" x2="874.6" y2="360.7" stroke="#000" stroke-width="1.4" />
<text x="876.1" y="394.0" font-size="34" text-anchor="middle" fill="#000" >0</text>
<line x1="895.7" y1="355.2" x2="895.7" y2="358.7" stroke="#000" stroke-width="1.4" />
<line x1="916.8" y1="355.2" x2="916.8" y2="358.7" stroke="#000" stroke-width="1.4" />
<line x1="937.9" y1="355.2" x2="937.9" y2="358.7" stroke="#000" stroke-width="1.4" />
<line x1="959.0" y1="355.2" x2="959.0" y2="358.7" stroke="#000" stroke-width="1.4" />
<line x1="980.1" y1="355.2" x2="980.1" y2="360.7" stroke="#000" stroke-width="1.4" />
<text x="985.1" y="394.0" font-size="34" text-anchor="middle" fill="#000" >50</text>
<line x1="1001.2" y1="355.2" x2="1001.2" y2="358.7" stroke="#000" stroke-width="1.4" />
<line x1="1022.3" y1="355.2" x2="1022.3" y2="358.7" stroke="#000" stroke-width="1.4" />
<text x="888.5" y="424.0" font-size="33" text-anchor="middle">E - E<tspan font-size="19.5" dy="9">F</tspan><tspan dy="-9"> (meV)</tspan></text>
<text x="0" y="0" font-size="32" text-anchor="middle" transform="translate(648.0,207.6) rotate(-90)">k<tspan font-size="19" dy="8">//</tspan><tspan dy="-8"> (Å</tspan><tspan font-size="19" dy="-11">-1</tspan><tspan dy="11">)</tspan></text>
<line x1="717.5" y1="534.0" x2="723.0" y2="534.0" stroke="#000" stroke-width="1.4" />
<text x="706.5" y="540.8" font-size="34" text-anchor="end" fill="#000" >0.4</text>
<line x1="719.5" y1="570.8" x2="723.0" y2="570.8" stroke="#000" stroke-width="1.4" />
<line x1="717.5" y1="607.5" x2="723.0" y2="607.5" stroke="#000" stroke-width="1.4" />
<text x="706.5" y="614.3" font-size="34" text-anchor="end" fill="#000" >0.2</text>
<line x1="719.5" y1="644.2" x2="723.0" y2="644.2" stroke="#000" stroke-width="1.4" />
<line x1="717.5" y1="681.0" x2="723.0" y2="681.0" stroke="#000" stroke-width="1.4" />
<text x="706.5" y="687.8" font-size="34" text-anchor="end" fill="#000" >0.0</text>
<line x1="719.5" y1="717.8" x2="723.0" y2="717.8" stroke="#000" stroke-width="1.4" />
<line x1="717.5" y1="754.5" x2="723.0" y2="754.5" stroke="#000" stroke-width="1.4" />
<text x="706.5" y="761.3" font-size="34" text-anchor="end" fill="#000" >-0.2</text>
<line x1="719.5" y1="791.2" x2="723.0" y2="791.2" stroke="#000" stroke-width="1.4" />
<line x1="717.5" y1="828.0" x2="723.0" y2="828.0" stroke="#000" stroke-width="1.4" />
<text x="706.5" y="834.8" font-size="34" text-anchor="end" fill="#000" >-0.4</text>
<line x1="723.0" y1="828.0" x2="723.0" y2="831.5" stroke="#000" stroke-width="1.4" />
<line x1="744.0" y1="828.0" x2="744.0" y2="831.5" stroke="#000" stroke-width="1.4" />
<line x1="765.0" y1="828.0" x2="765.0" y2="833.5" stroke="#000" stroke-width="1.4" />
<text x="758.5" y="866.4" font-size="34" text-anchor="middle" fill="#000" >-50</text>
<line x1="786.0" y1="828.0" x2="786.0" y2="831.5" stroke="#000" stroke-width="1.4" />
<line x1="807.0" y1="828.0" x2="807.0" y2="831.5" stroke="#000" stroke-width="1.4" />
<line x1="828.0" y1="828.0" x2="828.0" y2="831.5" stroke="#000" stroke-width="1.4" />
<line x1="849.0" y1="828.0" x2="849.0" y2="831.5" stroke="#000" stroke-width="1.4" />
<line x1="870.0" y1="828.0" x2="870.0" y2="833.5" stroke="#000" stroke-width="1.4" />
<text x="867.8" y="866.4" font-size="34" text-anchor="middle" fill="#000" >0</text>
<line x1="891.0" y1="828.0" x2="891.0" y2="831.5" stroke="#000" stroke-width="1.4" />
<line x1="912.0" y1="828.0" x2="912.0" y2="831.5" stroke="#000" stroke-width="1.4" />
<line x1="933.0" y1="828.0" x2="933.0" y2="831.5" stroke="#000" stroke-width="1.4" />
<line x1="954.0" y1="828.0" x2="954.0" y2="831.5" stroke="#000" stroke-width="1.4" />
<line x1="975.0" y1="828.0" x2="975.0" y2="833.5" stroke="#000" stroke-width="1.4" />
<text x="972.0" y="866.4" font-size="34" text-anchor="middle" fill="#000" >50</text>
<line x1="996.0" y1="828.0" x2="996.0" y2="831.5" stroke="#000" stroke-width="1.4" />
<line x1="1017.0" y1="828.0" x2="1017.0" y2="831.5" stroke="#000" stroke-width="1.4" />
<text x="876.0" y="896.5" font-size="33" text-anchor="middle">E - E<tspan font-size="19.5" dy="9">F</tspan><tspan dy="-9"> (meV)</tspan></text>
<text x="0" y="0" font-size="32" text-anchor="middle" transform="translate(643.0,684.0) rotate(-90)">k<tspan font-size="19" dy="8">//</tspan><tspan dy="-8"> (Å</tspan><tspan font-size="19" dy="-11">-1</tspan><tspan dy="11">)</tspan></text>
<line x1="716.5" y1="928.0" x2="722.0" y2="928.0" stroke="#000" stroke-width="1.4" />
<text x="708.5" y="935.3" font-size="34" text-anchor="end" fill="#000" >0.4</text>
<line x1="718.5" y1="964.9" x2="722.0" y2="964.9" stroke="#000" stroke-width="1.4" />
<line x1="716.5" y1="1001.8" x2="722.0" y2="1001.8" stroke="#000" stroke-width="1.4" />
<text x="708.5" y="1009.0" font-size="34" text-anchor="end" fill="#000" >0.2</text>
<line x1="718.5" y1="1038.6" x2="722.0" y2="1038.6" stroke="#000" stroke-width="1.4" />
<line x1="716.5" y1="1075.5" x2="722.0" y2="1075.5" stroke="#000" stroke-width="1.4" />
<text x="708.5" y="1082.8" font-size="34" text-anchor="end" fill="#000" >0.0</text>
<line x1="718.5" y1="1112.4" x2="722.0" y2="1112.4" stroke="#000" stroke-width="1.4" />
<line x1="716.5" y1="1149.2" x2="722.0" y2="1149.2" stroke="#000" stroke-width="1.4" />
<text x="708.5" y="1156.5" font-size="34" text-anchor="end" fill="#000" >-0.2</text>
<line x1="718.5" y1="1186.1" x2="722.0" y2="1186.1" stroke="#000" stroke-width="1.4" />
<line x1="716.5" y1="1223.0" x2="722.0" y2="1223.0" stroke="#000" stroke-width="1.4" />
<text x="708.5" y="1230.3" font-size="34" text-anchor="end" fill="#000" >-0.4</text>
<line x1="723.0" y1="1223.0" x2="723.0" y2="1226.5" stroke="#000" stroke-width="1.4" />
<line x1="744.0" y1="1223.0" x2="744.0" y2="1226.5" stroke="#000" stroke-width="1.4" />
<line x1="765.0" y1="1223.0" x2="765.0" y2="1228.5" stroke="#000" stroke-width="1.4" />
<text x="758.5" y="1261.4" font-size="34" text-anchor="middle" fill="#000" >-50</text>
<line x1="786.0" y1="1223.0" x2="786.0" y2="1226.5" stroke="#000" stroke-width="1.4" />
<line x1="807.0" y1="1223.0" x2="807.0" y2="1226.5" stroke="#000" stroke-width="1.4" />
<line x1="828.0" y1="1223.0" x2="828.0" y2="1226.5" stroke="#000" stroke-width="1.4" />
<line x1="849.0" y1="1223.0" x2="849.0" y2="1226.5" stroke="#000" stroke-width="1.4" />
<line x1="870.0" y1="1223.0" x2="870.0" y2="1228.5" stroke="#000" stroke-width="1.4" />
<text x="868.0" y="1261.4" font-size="34" text-anchor="middle" fill="#000" >0</text>
<line x1="891.0" y1="1223.0" x2="891.0" y2="1226.5" stroke="#000" stroke-width="1.4" />
<line x1="912.0" y1="1223.0" x2="912.0" y2="1226.5" stroke="#000" stroke-width="1.4" />
<line x1="933.0" y1="1223.0" x2="933.0" y2="1226.5" stroke="#000" stroke-width="1.4" />
<line x1="954.0" y1="1223.0" x2="954.0" y2="1226.5" stroke="#000" stroke-width="1.4" />
<line x1="975.0" y1="1223.0" x2="975.0" y2="1228.5" stroke="#000" stroke-width="1.4" />
<text x="976.0" y="1261.4" font-size="34" text-anchor="middle" fill="#000" >50</text>
<line x1="996.0" y1="1223.0" x2="996.0" y2="1226.5" stroke="#000" stroke-width="1.4" />
<line x1="1017.0" y1="1223.0" x2="1017.0" y2="1226.5" stroke="#000" stroke-width="1.4" />
<text x="873.5" y="1290.5" font-size="33" text-anchor="middle">E - E<tspan font-size="19.5" dy="9">F</tspan><tspan dy="-9"> (meV)</tspan></text>
<text x="0" y="0" font-size="32" text-anchor="middle" transform="translate(643.0,1083.0) rotate(-90)">k<tspan font-size="19" dy="8">//</tspan><tspan dy="-8"> (Å</tspan><tspan font-size="19" dy="-11">-1</tspan><tspan dy="11">)</tspan></text>
<rect x="1164.5" y="62.7" width="333.0" height="293.8" fill="none" stroke="#231815" stroke-width="1.6" />
<line x1="1191.2" y1="356.5" x2="1191.2" y2="363.3" stroke="#000" stroke-width="1.4" />
<line x1="1237.9" y1="356.5" x2="1237.9" y2="363.3" stroke="#000" stroke-width="1.4" />
<line x1="1284.6" y1="356.5" x2="1284.6" y2="363.3" stroke="#000" stroke-width="1.4" />
<line x1="1331.3" y1="356.5" x2="1331.3" y2="363.3" stroke="#000" stroke-width="1.4" />
<line x1="1378.0" y1="356.5" x2="1378.0" y2="363.3" stroke="#000" stroke-width="1.4" />
<line x1="1424.7" y1="356.5" x2="1424.7" y2="363.3" stroke="#000" stroke-width="1.4" />
<line x1="1471.4" y1="356.5" x2="1471.4" y2="363.3" stroke="#000" stroke-width="1.4" />
<text x="1240.5" y="394.0" font-size="34" text-anchor="middle" fill="#000" >-40</text>
<text x="1326.5" y="394.0" font-size="34" text-anchor="middle" fill="#000" >0</text>
<text x="1419.2" y="394.0" font-size="34" text-anchor="middle" fill="#000" >40</text>
<text x="1346" y="428" font-size="33" text-anchor="middle">E - E<tspan font-size="19.5" dy="9">F</tspan><tspan dy="-9"> (meV)</tspan></text>
<text x="0" y="0" font-size="33" text-anchor="middle" fill="#000" transform="translate(1147.0,215.5) rotate(-90)">Intensity (arb. units)</text>
<rect x="1129.0" y="629.0" width="297.0" height="538.0" fill="none" stroke="#231815" stroke-width="1.6" />
<line x1="1133.6" y1="1167.0" x2="1133.6" y2="1173.5" stroke="#000" stroke-width="1.4" />
<line x1="1154.1" y1="1167.0" x2="1154.1" y2="1173.5" stroke="#000" stroke-width="1.4" />
<line x1="1174.6" y1="1167.0" x2="1174.6" y2="1173.5" stroke="#000" stroke-width="1.4" />
<line x1="1195.1" y1="1167.0" x2="1195.1" y2="1173.5" stroke="#000" stroke-width="1.4" />
<line x1="1215.6" y1="1167.0" x2="1215.6" y2="1173.5" stroke="#000" stroke-width="1.4" />
<line x1="1236.1" y1="1167.0" x2="1236.1" y2="1173.5" stroke="#000" stroke-width="1.4" />
<line x1="1256.6" y1="1167.0" x2="1256.6" y2="1173.5" stroke="#000" stroke-width="1.4" />
<line x1="1277.1" y1="1167.0" x2="1277.1" y2="1173.5" stroke="#000" stroke-width="1.4" />
<line x1="1297.6" y1="1167.0" x2="1297.6" y2="1173.5" stroke="#000" stroke-width="1.4" />
<line x1="1318.1" y1="1167.0" x2="1318.1" y2="1173.5" stroke="#000" stroke-width="1.4" />
<line x1="1338.6" y1="1167.0" x2="1338.6" y2="1173.5" stroke="#000" stroke-width="1.4" />
<line x1="1359.1" y1="1167.0" x2="1359.1" y2="1173.5" stroke="#000" stroke-width="1.4" />
<line x1="1379.6" y1="1167.0" x2="1379.6" y2="1173.5" stroke="#000" stroke-width="1.4" />
<line x1="1400.1" y1="1167.0" x2="1400.1" y2="1173.5" stroke="#000" stroke-width="1.4" />
<line x1="1420.6" y1="1167.0" x2="1420.6" y2="1173.5" stroke="#000" stroke-width="1.4" />
<text x="1193.1" y="1216.0" font-size="34" text-anchor="middle" fill="#000" >-40</text>
<text x="1279.1" y="1216.0" font-size="34" text-anchor="middle" fill="#000" >0</text>
<text x="1362.1" y="1216.0" font-size="34" text-anchor="middle" fill="#000" >40</text>
<text x="1305" y="1270" font-size="33" text-anchor="middle">E - E<tspan font-size="19.5" dy="9">F</tspan><tspan dy="-9"> (meV)</tspan></text>
<text x="0" y="0" font-size="33" text-anchor="middle" fill="#000" transform="translate(1112.0,907.5) rotate(-90)">Intensity (arb. units)</text>
<text x="1058.0" y="572.0" font-size="33.5" text-anchor="start" fill="#000" >Low</text>
<text x="1260.0" y="572.0" font-size="33.5" text-anchor="start" fill="#000" >High</text>
<rect x="123.0" y="904.0" width="376.0" height="301.0" fill="none" stroke="#231815" stroke-width="1.6" />
<line x1="133.0" y1="1205.0" x2="133.0" y2="1198.0" stroke="#000" stroke-width="1.5" />
<line x1="133.0" y1="904.0" x2="133.0" y2="911.0" stroke="#000" stroke-width="1.5" />
<line x1="184.0" y1="1205.0" x2="184.0" y2="1198.0" stroke="#000" stroke-width="1.5" />
<line x1="184.0" y1="904.0" x2="184.0" y2="911.0" stroke="#000" stroke-width="1.5" />
<line x1="235.0" y1="1205.0" x2="235.0" y2="1198.0" stroke="#000" stroke-width="1.5" />
<line x1="235.0" y1="904.0" x2="235.0" y2="911.0" stroke="#000" stroke-width="1.5" />
<line x1="286.0" y1="1205.0" x2="286.0" y2="1198.0" stroke="#000" stroke-width="1.5" />
<line x1="286.0" y1="904.0" x2="286.0" y2="911.0" stroke="#000" stroke-width="1.5" />
<line x1="337.0" y1="1205.0" x2="337.0" y2="1198.0" stroke="#000" stroke-width="1.5" />
<line x1="337.0" y1="904.0" x2="337.0" y2="911.0" stroke="#000" stroke-width="1.5" />
<line x1="388.0" y1="1205.0" x2="388.0" y2="1198.0" stroke="#000" stroke-width="1.5" />
<line x1="388.0" y1="904.0" x2="388.0" y2="911.0" stroke="#000" stroke-width="1.5" />
<line x1="439.0" y1="1205.0" x2="439.0" y2="1198.0" stroke="#000" stroke-width="1.5" />
<line x1="439.0" y1="904.0" x2="439.0" y2="911.0" stroke="#000" stroke-width="1.5" />
<line x1="490.0" y1="1205.0" x2="490.0" y2="1198.0" stroke="#000" stroke-width="1.5" />
<line x1="490.0" y1="904.0" x2="490.0" y2="911.0" stroke="#000" stroke-width="1.5" />
<line x1="123.0" y1="1175.0" x2="130.0" y2="1175.0" stroke="#000" stroke-width="1.5" />
<line x1="499.0" y1="1175.0" x2="492.0" y2="1175.0" stroke="#000" stroke-width="1.5" />
<line x1="123.0" y1="1091.3" x2="130.0" y2="1091.3" stroke="#000" stroke-width="1.5" />
<line x1="499.0" y1="1091.3" x2="492.0" y2="1091.3" stroke="#000" stroke-width="1.5" />
<line x1="123.0" y1="1007.7" x2="130.0" y2="1007.7" stroke="#000" stroke-width="1.5" />
<line x1="499.0" y1="1007.7" x2="492.0" y2="1007.7" stroke="#000" stroke-width="1.5" />
<line x1="123.0" y1="924.0" x2="130.0" y2="924.0" stroke="#000" stroke-width="1.5" />
<line x1="499.0" y1="924.0" x2="492.0" y2="924.0" stroke="#000" stroke-width="1.5" />
<text x="110.5" y="1189.8" font-size="34" text-anchor="end" fill="#000" >0</text>
<text x="110.5" y="1106.1" font-size="34" text-anchor="end" fill="#000" >5</text>
<text x="110.5" y="1022.5" font-size="34" text-anchor="end" fill="#000" >10</text>
<text x="110.5" y="938.8" font-size="34" text-anchor="end" fill="#000" >15</text>
<text x="133.0" y="1239.5" font-size="34" text-anchor="middle" fill="#000" >0</text>
<text x="232.5" y="1239.5" font-size="34" text-anchor="middle" fill="#000" >20</text>
<text x="334.5" y="1239.5" font-size="34" text-anchor="middle" fill="#000" >40</text>
<text x="436.5" y="1239.5" font-size="34" text-anchor="middle" fill="#000" >60</text>
<text x="285.5" y="1271.5" font-size="32.5" text-anchor="middle" fill="#000" >T (K)</text>
<text x="0" y="0" font-size="32" text-anchor="middle" transform="translate(64,1052) rotate(-90)">Δ (meV)</text>
<rect x="99.0" y="1320.0" width="381.0" height="299.0" fill="none" stroke="#231815" stroke-width="1.6" />
<line x1="159.1" y1="1619.0" x2="159.1" y2="1612.0" stroke="#000" stroke-width="1.5" />
<line x1="159.1" y1="1320.0" x2="159.1" y2="1327.0" stroke="#000" stroke-width="1.5" />
<line x1="222.9" y1="1619.0" x2="222.9" y2="1612.0" stroke="#000" stroke-width="1.5" />
<line x1="222.9" y1="1320.0" x2="222.9" y2="1327.0" stroke="#000" stroke-width="1.5" />
<line x1="286.7" y1="1619.0" x2="286.7" y2="1612.0" stroke="#000" stroke-width="1.5" />
<line x1="286.7" y1="1320.0" x2="286.7" y2="1327.0" stroke="#000" stroke-width="1.5" />
<line x1="350.5" y1="1619.0" x2="350.5" y2="1612.0" stroke="#000" stroke-width="1.5" />
<line x1="350.5" y1="1320.0" x2="350.5" y2="1327.0" stroke="#000" stroke-width="1.5" />
<line x1="414.3" y1="1619.0" x2="414.3" y2="1612.0" stroke="#000" stroke-width="1.5" />
<line x1="414.3" y1="1320.0" x2="414.3" y2="1327.0" stroke="#000" stroke-width="1.5" />
<line x1="478.1" y1="1619.0" x2="478.1" y2="1612.0" stroke="#000" stroke-width="1.5" />
<line x1="478.1" y1="1320.0" x2="478.1" y2="1327.0" stroke="#000" stroke-width="1.5" />
<line x1="99.0" y1="1351.0" x2="106.0" y2="1351.0" stroke="#000" stroke-width="1.5" />
<line x1="480.0" y1="1351.0" x2="473.0" y2="1351.0" stroke="#000" stroke-width="1.5" />
<line x1="99.0" y1="1410.0" x2="106.0" y2="1410.0" stroke="#000" stroke-width="1.5" />
<line x1="480.0" y1="1410.0" x2="473.0" y2="1410.0" stroke="#000" stroke-width="1.5" />
<line x1="99.0" y1="1469.0" x2="106.0" y2="1469.0" stroke="#000" stroke-width="1.5" />
<line x1="480.0" y1="1469.0" x2="473.0" y2="1469.0" stroke="#000" stroke-width="1.5" />
<line x1="99.0" y1="1528.0" x2="106.0" y2="1528.0" stroke="#000" stroke-width="1.5" />
<line x1="480.0" y1="1528.0" x2="473.0" y2="1528.0" stroke="#000" stroke-width="1.5" />
<line x1="99.0" y1="1587.0" x2="106.0" y2="1587.0" stroke="#000" stroke-width="1.5" />
<line x1="480.0" y1="1587.0" x2="473.0" y2="1587.0" stroke="#000" stroke-width="1.5" />
<text x="88.0" y="1361.8" font-size="34" text-anchor="end" fill="#000" >3.4</text>
<text x="88.0" y="1420.8" font-size="34" text-anchor="end" fill="#000" >3.3</text>
<text x="88.0" y="1479.8" font-size="34" text-anchor="end" fill="#000" >3.2</text>
<text x="88.0" y="1538.8" font-size="34" text-anchor="end" fill="#000" >3.1</text>
<text x="88.0" y="1597.8" font-size="34" text-anchor="end" fill="#000" >3.0</text>
<text x="156.1" y="1650.0" font-size="34" text-anchor="middle" fill="#000" >20</text>
<text x="219.9" y="1650.0" font-size="34" text-anchor="middle" fill="#000" >40</text>
<text x="283.7" y="1650.0" font-size="34" text-anchor="middle" fill="#000" >60</text>
<text x="347.5" y="1650.0" font-size="34" text-anchor="middle" fill="#000" >80</text>
<text x="414.3" y="1650.0" font-size="34" text-anchor="middle" fill="#000" >100</text>
<text x="293.0" y="1683.0" font-size="32" text-anchor="middle" fill="#000" >T(K)</text>
<text x="0" y="0" font-size="34" text-anchor="middle" transform="translate(28,1452) rotate(-90)">V<tspan font-size="20" dy="8">out</tspan><tspan dy="-8"> (×10</tspan><tspan font-size="19" dy="-11">2</tspan><tspan dy="11"> μV)</tspan></text>
<rect x="607.0" y="1319.0" width="360.0" height="300.0" fill="none" stroke="#231815" stroke-width="1.6" />
<line x1="662.7" y1="1619.0" x2="662.7" y2="1612.0" stroke="#000" stroke-width="1.5" />
<line x1="662.7" y1="1319.0" x2="662.7" y2="1326.0" stroke="#000" stroke-width="1.5" />
<line x1="722.9" y1="1619.0" x2="722.9" y2="1612.0" stroke="#000" stroke-width="1.5" />
<line x1="722.9" y1="1319.0" x2="722.9" y2="1326.0" stroke="#000" stroke-width="1.5" />
<line x1="783.1" y1="1619.0" x2="783.1" y2="1612.0" stroke="#000" stroke-width="1.5" />
<line x1="783.1" y1="1319.0" x2="783.1" y2="1326.0" stroke="#000" stroke-width="1.5" />
<line x1="843.3" y1="1619.0" x2="843.3" y2="1612.0" stroke="#000" stroke-width="1.5" />
<line x1="843.3" y1="1319.0" x2="843.3" y2="1326.0" stroke="#000" stroke-width="1.5" />
<line x1="903.5" y1="1619.0" x2="903.5" y2="1612.0" stroke="#000" stroke-width="1.5" />
<line x1="903.5" y1="1319.0" x2="903.5" y2="1326.0" stroke="#000" stroke-width="1.5" />
<line x1="963.7" y1="1619.0" x2="963.7" y2="1612.0" stroke="#000" stroke-width="1.5" />
<line x1="963.7" y1="1319.0" x2="963.7" y2="1326.0" stroke="#000" stroke-width="1.5" />
<line x1="607.0" y1="1343.0" x2="614.0" y2="1343.0" stroke="#000" stroke-width="1.5" />
<line x1="967.0" y1="1343.0" x2="960.0" y2="1343.0" stroke="#000" stroke-width="1.5" />
<line x1="607.0" y1="1400.2" x2="614.0" y2="1400.2" stroke="#000" stroke-width="1.5" />
<line x1="967.0" y1="1400.2" x2="960.0" y2="1400.2" stroke="#000" stroke-width="1.5" />
<line x1="607.0" y1="1457.4" x2="614.0" y2="1457.4" stroke="#000" stroke-width="1.5" />
<line x1="967.0" y1="1457.4" x2="960.0" y2="1457.4" stroke="#000" stroke-width="1.5" />
<line x1="607.0" y1="1514.6" x2="614.0" y2="1514.6" stroke="#000" stroke-width="1.5" />
<line x1="967.0" y1="1514.6" x2="960.0" y2="1514.6" stroke="#000" stroke-width="1.5" />
<line x1="607.0" y1="1571.8" x2="614.0" y2="1571.8" stroke="#000" stroke-width="1.5" />
<line x1="967.0" y1="1571.8" x2="960.0" y2="1571.8" stroke="#000" stroke-width="1.5" />
<text x="603.0" y="1353.3" font-size="34" text-anchor="end" fill="#000" >0</text>
<text x="600.0" y="1410.5" font-size="34" text-anchor="end" fill="#000" >-0.1</text>
<text x="600.0" y="1467.7" font-size="34" text-anchor="end" fill="#000" >-0.2</text>
<text x="600.0" y="1524.9" font-size="34" text-anchor="end" fill="#000" >-0.3</text>
<text x="600.0" y="1582.1" font-size="34" text-anchor="end" fill="#000" >-0.4</text>
<text x="662.7" y="1650.0" font-size="34" text-anchor="middle" fill="#000" >20</text>
<text x="722.9" y="1650.0" font-size="34" text-anchor="middle" fill="#000" >40</text>
<text x="783.1" y="1650.0" font-size="34" text-anchor="middle" fill="#000" >60</text>
<text x="843.3" y="1650.0" font-size="34" text-anchor="middle" fill="#000" >80</text>
<text x="903.5" y="1650.0" font-size="34" text-anchor="middle" fill="#000" >100</text>
<text x="791.0" y="1685.0" font-size="32" text-anchor="middle" fill="#000" >T(K)</text>
<text x="0" y="0" font-size="33.5" text-anchor="middle" transform="translate(533,1485) rotate(-90)">V<tspan font-size="20" dy="8">out</tspan><tspan dy="-8">(FeSe)(×10</tspan><tspan font-size="19" dy="-11">2</tspan><tspan dy="11"> μV)</tspan></text>
<rect x="1107.0" y="1320.0" width="389.0" height="302.0" fill="none" stroke="#231815" stroke-width="1.6" />
<line x1="1168.0" y1="1622.0" x2="1168.0" y2="1615.0" stroke="#000" stroke-width="1.5" />
<line x1="1168.0" y1="1320.0" x2="1168.0" y2="1327.0" stroke="#000" stroke-width="1.5" />
<line x1="1233.6" y1="1622.0" x2="1233.6" y2="1615.0" stroke="#000" stroke-width="1.5" />
<line x1="1233.6" y1="1320.0" x2="1233.6" y2="1327.0" stroke="#000" stroke-width="1.5" />
<line x1="1299.2" y1="1622.0" x2="1299.2" y2="1615.0" stroke="#000" stroke-width="1.5" />
<line x1="1299.2" y1="1320.0" x2="1299.2" y2="1327.0" stroke="#000" stroke-width="1.5" />
<line x1="1364.8" y1="1622.0" x2="1364.8" y2="1615.0" stroke="#000" stroke-width="1.5" />
<line x1="1364.8" y1="1320.0" x2="1364.8" y2="1327.0" stroke="#000" stroke-width="1.5" />
<line x1="1430.4" y1="1622.0" x2="1430.4" y2="1615.0" stroke="#000" stroke-width="1.5" />
<line x1="1430.4" y1="1320.0" x2="1430.4" y2="1327.0" stroke="#000" stroke-width="1.5" />
<line x1="1496.0" y1="1622.0" x2="1496.0" y2="1615.0" stroke="#000" stroke-width="1.5" />
<line x1="1496.0" y1="1320.0" x2="1496.0" y2="1327.0" stroke="#000" stroke-width="1.5" />
<line x1="1107.0" y1="1322.0" x2="1114.0" y2="1322.0" stroke="#000" stroke-width="1.5" />
<line x1="1496.0" y1="1322.0" x2="1489.0" y2="1322.0" stroke="#000" stroke-width="1.5" />
<line x1="1107.0" y1="1370.8" x2="1114.0" y2="1370.8" stroke="#000" stroke-width="1.5" />
<line x1="1496.0" y1="1370.8" x2="1489.0" y2="1370.8" stroke="#000" stroke-width="1.5" />
<line x1="1107.0" y1="1419.6" x2="1114.0" y2="1419.6" stroke="#000" stroke-width="1.5" />
<line x1="1496.0" y1="1419.6" x2="1489.0" y2="1419.6" stroke="#000" stroke-width="1.5" />
<line x1="1107.0" y1="1468.4" x2="1114.0" y2="1468.4" stroke="#000" stroke-width="1.5" />
<line x1="1496.0" y1="1468.4" x2="1489.0" y2="1468.4" stroke="#000" stroke-width="1.5" />
<line x1="1107.0" y1="1517.2" x2="1114.0" y2="1517.2" stroke="#000" stroke-width="1.5" />
<line x1="1496.0" y1="1517.2" x2="1489.0" y2="1517.2" stroke="#000" stroke-width="1.5" />
<line x1="1107.0" y1="1566.0" x2="1114.0" y2="1566.0" stroke="#000" stroke-width="1.5" />
<line x1="1496.0" y1="1566.0" x2="1489.0" y2="1566.0" stroke="#000" stroke-width="1.5" />
<line x1="1107.0" y1="1614.8" x2="1114.0" y2="1614.8" stroke="#000" stroke-width="1.5" />
<line x1="1496.0" y1="1614.8" x2="1489.0" y2="1614.8" stroke="#000" stroke-width="1.5" />
<text x="1097.0" y="1331.8" font-size="34" text-anchor="end" fill="#000" >1.00</text>
<text x="1097.0" y="1380.6" font-size="34" text-anchor="end" fill="#000" >0.98</text>
<text x="1097.0" y="1429.4" font-size="34" text-anchor="end" fill="#000" >0.96</text>
<text x="1097.0" y="1478.2" font-size="34" text-anchor="end" fill="#000" >0.94</text>
<text x="1097.0" y="1527.0" font-size="34" text-anchor="end" fill="#000" >0.92</text>
<text x="1097.0" y="1575.8" font-size="34" text-anchor="end" fill="#000" >0.90</text>
<text x="1097.0" y="1624.6" font-size="34" text-anchor="end" fill="#000" >0.88</text>
<text x="1167.0" y="1653.0" font-size="34" text-anchor="middle" fill="#000" >20</text>
<text x="1232.6" y="1653.0" font-size="34" text-anchor="middle" fill="#000" >40</text>
<text x="1298.2" y="1653.0" font-size="34" text-anchor="middle" fill="#000" >60</text>
<text x="1363.8" y="1653.0" font-size="34" text-anchor="middle" fill="#000" >80</text>
<text x="1434.4" y="1653.0" font-size="34" text-anchor="middle" fill="#000" >100</text>
<text x="1306.0" y="1685.0" font-size="32" text-anchor="middle" fill="#000" >T(K)</text>
<text x="0" y="0" font-size="33" text-anchor="middle" transform="translate(1016,1450.5) rotate(-90)">V<tspan font-size="20" dy="8">out</tspan><tspan dy="-8">(T)/V</tspan><tspan font-size="20" dy="8">out</tspan><tspan dy="-8">(105K)</tspan></text>
<line x1="1292.8" y1="63.0" x2="1292.8" y2="356.0" stroke="#231815" stroke-width="2.2" stroke-dasharray="7,5"/>
<line x1="1369.8" y1="63.0" x2="1369.8" y2="356.0" stroke="#231815" stroke-width="2.2" stroke-dasharray="7,5"/>
<polyline points="1214.1,318.0 1215.8,315.9 1218.3,313.0 1221.2,309.6 1224.3,306.0 1227.2,302.3 1229.7,299.0 1231.8,296.0 1233.7,293.2 1235.5,290.4 1237.2,287.6 1238.9,284.5 1240.7,281.0 1242.6,277.2 1244.5,273.3 1246.4,269.1 1248.3,264.7 1250.1,260.0 1251.9,255.0 1253.6,249.8 1255.2,244.4 1256.7,238.8 1258.2,232.8 1259.7,226.2 1261.2,219.0 1262.8,210.8 1264.4,201.7 1266.1,192.1 1267.6,182.3 1269.2,172.8 1270.6,164.0 1271.9,155.8 1273.1,147.7 1274.2,140.0 1275.3,132.6 1276.5,125.6 1277.6,119.0 1278.8,112.8 1280.0,107.0 1281.1,101.5 1282.3,96.5 1283.5,92.0 1284.6,88.0 1285.7,84.6 1286.8,81.6 1287.9,79.1 1288.9,77.2 1289.9,75.8 1290.9,75.0 1291.8,74.8 1292.7,75.1 1293.6,75.9 1294.5,77.4 1295.4,79.4 1296.3,82.0 1297.2,84.9 1298.2,88.1 1299.2,91.9 1300.2,96.6 1301.2,102.5 1302.3,110.0 1303.5,119.3 1304.7,130.2 1306.0,142.3 1307.3,155.3 1308.6,168.8 1309.8,182.5 1311.0,197.0 1312.2,212.7 1313.5,228.9 1314.7,245.0 1315.9,260.1 1317.1,273.6 1318.3,285.6 1319.5,296.8 1320.7,307.1 1321.9,316.5 1323.1,324.8 1324.3,332.0 1325.5,338.3 1326.6,343.6 1327.8,347.9 1329.0,351.1 1330.1,353.1 1331.3,353.8 1332.5,353.1 1333.6,351.1 1334.8,347.9 1336.0,343.6 1337.1,338.3 1338.3,332.0 1339.5,324.8 1340.7,316.5 1341.9,307.1 1343.1,296.8 1344.3,285.6 1345.5,273.6 1346.7,260.1 1347.9,245.0 1349.1,228.9 1350.4,212.7 1351.6,197.0 1352.8,182.5 1354.0,168.8 1355.3,155.3 1356.6,142.3 1357.9,130.2 1359.1,119.3 1360.3,110.0 1361.4,102.5 1362.4,96.6 1363.4,91.9 1364.4,88.1 1365.4,84.9 1366.3,82.0 1367.2,79.4 1368.1,77.4 1369.0,75.9 1369.9,75.1 1370.8,74.8 1371.7,75.0 1372.7,75.8 1373.7,77.2 1374.7,79.1 1375.8,81.6 1376.9,84.6 1378.0,88.0 1379.1,92.0 1380.3,96.5 1381.5,101.5 1382.6,107.0 1383.8,112.8 1385.0,119.0 1386.1,125.6 1387.3,132.6 1388.4,140.0 1389.5,147.7 1390.7,155.8 1392.0,164.0 1393.4,172.8 1395.0,182.3 1396.5,192.1 1398.2,201.7 1399.8,210.8 1401.3,219.0 1402.9,226.2 1404.4,232.8 1405.9,238.8 1407.4,244.4 1409.0,249.8 1410.7,255.0 1412.5,260.0 1414.3,264.7 1416.2,269.1 1418.1,273.3 1420.0,277.2 1421.9,281.0 1423.7,284.5 1425.4,287.6 1427.1,290.4 1428.9,293.2 1430.8,296.0 1432.9,299.0 1435.4,302.3 1438.3,306.0 1441.4,309.6 1444.3,313.0 1446.8,315.9 1448.5,318.0" stroke="#e8262a" stroke-width="5.5" fill="none" stroke-linejoin="round" stroke-linecap="round" />
<polyline points="1167.4,310.6 1173.0,316.4 1178.1,317.7 1182.8,313.7 1187.2,315.9 1191.9,308.2 1196.3,301.0 1201.0,299.7 1206.1,302.4 1211.0,306.4 1214.8,311.5 1220.2,313.3 1224.6,308.2 1228.8,293.7 1233.7,286.0 1238.4,277.3 1242.8,274.5 1247.7,259.0 1252.8,230.8 1257.3,212.6 1262.9,196.2 1267.6,181.6 1271.1,180.7 1275.7,180.7 1280.2,134.3 1283.9,89.6 1288.3,67.4 1294.4,66.3 1298.8,73.2 1304.0,120.2 1308.4,200.4 1313.1,272.7 1317.1,317.3 1321.3,338.3 1325.7,343.8 1329.0,342.0 1333.6,342.0 1336.9,343.8 1341.3,338.3 1345.5,317.3 1349.5,272.7 1354.2,200.4 1358.6,120.2 1363.8,73.2 1368.2,66.3 1374.3,67.4 1378.7,89.6 1382.4,134.3 1386.9,180.7 1391.5,180.7 1395.0,181.6 1399.7,196.2 1405.3,212.6 1409.8,230.8 1414.9,259.0 1419.8,274.5 1424.2,277.3 1428.9,286.0 1433.8,293.7 1438.0,308.2 1442.4,313.3 1447.8,311.5 1451.6,306.4 1456.5,302.4 1461.6,299.7 1466.3,301.0 1470.7,308.2 1475.4,315.9 1479.8,313.7 1484.5,317.7 1489.6,316.4 1495.2,310.6" stroke="#2e3a94" stroke-width="1.5" fill="none" stroke-linejoin="round" stroke-linecap="round" />
<polygon points="1167.4,306.4 1171.0,310.6 1167.4,314.8 1163.8,310.6" fill="#2e3a94"/>
<polygon points="1173.0,312.2 1176.6,316.4 1173.0,320.6 1169.4,316.4" fill="#2e3a94"/>
<polygon points="1178.1,313.5 1181.7,317.7 1178.1,321.9 1174.5,317.7" fill="#2e3a94"/>
<polygon points="1182.8,309.5 1186.4,313.7 1182.8,317.9 1179.2,313.7" fill="#2e3a94"/>
<polygon points="1187.2,311.7 1190.8,315.9 1187.2,320.1 1183.6,315.9" fill="#2e3a94"/>
<polygon points="1191.9,304.0 1195.5,308.2 1191.9,312.4 1188.3,308.2" fill="#2e3a94"/>
<polygon points="1196.3,296.8 1199.9,301.0 1196.3,305.2 1192.7,301.0" fill="#2e3a94"/>
<polygon points="1201.0,295.5 1204.6,299.7 1201.0,303.9 1197.4,299.7" fill="#2e3a94"/>
<polygon points="1206.1,298.2 1209.7,302.4 1206.1,306.6 1202.5,302.4" fill="#2e3a94"/>
<polygon points="1211.0,302.2 1214.6,306.4 1211.0,310.6 1207.4,306.4" fill="#2e3a94"/>
<polygon points="1214.8,307.3 1218.4,311.5 1214.8,315.7 1211.2,311.5" fill="#2e3a94"/>
<polygon points="1220.2,309.1 1223.8,313.3 1220.2,317.5 1216.6,313.3" fill="#2e3a94"/>
<polygon points="1224.6,304.0 1228.2,308.2 1224.6,312.4 1221.0,308.2" fill="#2e3a94"/>
<polygon points="1228.8,289.5 1232.4,293.7 1228.8,297.9 1225.2,293.7" fill="#2e3a94"/>
<polygon points="1233.7,281.8 1237.3,286.0 1233.7,290.2 1230.1,286.0" fill="#2e3a94"/>
<polygon points="1238.4,273.1 1242.0,277.3 1238.4,281.5 1234.8,277.3" fill="#2e3a94"/>
<polygon points="1242.8,270.3 1246.4,274.5 1242.8,278.7 1239.2,274.5" fill="#2e3a94"/>
<polygon points="1247.7,254.8 1251.3,259.0 1247.7,263.2 1244.1,259.0" fill="#2e3a94"/>
<polygon points="1252.8,226.6 1256.4,230.8 1252.8,235.0 1249.2,230.8" fill="#2e3a94"/>
<polygon points="1257.3,208.4 1260.9,212.6 1257.3,216.8 1253.7,212.6" fill="#2e3a94"/>
<polygon points="1262.9,192.0 1266.5,196.2 1262.9,200.4 1259.3,196.2" fill="#2e3a94"/>
<polygon points="1267.6,177.4 1271.2,181.6 1267.6,185.8 1264.0,181.6" fill="#2e3a94"/>
<polygon points="1271.1,176.5 1274.7,180.7 1271.1,184.9 1267.5,180.7" fill="#2e3a94"/>
<polygon points="1275.7,176.5 1279.3,180.7 1275.7,184.9 1272.1,180.7" fill="#2e3a94"/>
<polygon points="1280.2,130.1 1283.8,134.3 1280.2,138.5 1276.6,134.3" fill="#2e3a94"/>
<polygon points="1283.9,85.4 1287.5,89.6 1283.9,93.8 1280.3,89.6" fill="#2e3a94"/>
<polygon points="1288.3,63.2 1291.9,67.4 1288.3,71.6 1284.7,67.4" fill="#2e3a94"/>
<polygon points="1294.4,62.1 1298.0,66.3 1294.4,70.5 1290.8,66.3" fill="#2e3a94"/>
<polygon points="1298.8,69.0 1302.4,73.2 1298.8,77.4 1295.2,73.2" fill="#2e3a94"/>
<polygon points="1304.0,116.0 1307.6,120.2 1304.0,124.4 1300.4,120.2" fill="#2e3a94"/>
<polygon points="1308.4,196.2 1312.0,200.4 1308.4,204.6 1304.8,200.4" fill="#2e3a94"/>
<polygon points="1313.1,268.5 1316.7,272.7 1313.1,276.9 1309.5,272.7" fill="#2e3a94"/>
<polygon points="1317.1,313.1 1320.7,317.3 1317.1,321.5 1313.5,317.3" fill="#2e3a94"/>
<polygon points="1321.3,334.1 1324.9,338.3 1321.3,342.5 1317.7,338.3" fill="#2e3a94"/>
<polygon points="1325.7,339.6 1329.3,343.8 1325.7,348.0 1322.1,343.8" fill="#2e3a94"/>
<polygon points="1329.0,337.8 1332.6,342.0 1329.0,346.2 1325.4,342.0" fill="#2e3a94"/>
<polygon points="1333.6,337.8 1337.2,342.0 1333.6,346.2 1330.0,342.0" fill="#2e3a94"/>
<polygon points="1336.9,339.6 1340.5,343.8 1336.9,348.0 1333.3,343.8" fill="#2e3a94"/>
<polygon points="1341.3,334.1 1344.9,338.3 1341.3,342.5 1337.7,338.3" fill="#2e3a94"/>
<polygon points="1345.5,313.1 1349.1,317.3 1345.5,321.5 1341.9,317.3" fill="#2e3a94"/>
<polygon points="1349.5,268.5 1353.1,272.7 1349.5,276.9 1345.9,272.7" fill="#2e3a94"/>
<polygon points="1354.2,196.2 1357.8,200.4 1354.2,204.6 1350.6,200.4" fill="#2e3a94"/>
<polygon points="1358.6,116.0 1362.2,120.2 1358.6,124.4 1355.0,120.2" fill="#2e3a94"/>
<polygon points="1363.8,69.0 1367.4,73.2 1363.8,77.4 1360.2,73.2" fill="#2e3a94"/>
<polygon points="1368.2,62.1 1371.8,66.3 1368.2,70.5 1364.6,66.3" fill="#2e3a94"/>
<polygon points="1374.3,63.2 1377.9,67.4 1374.3,71.6 1370.7,67.4" fill="#2e3a94"/>
<polygon points="1378.7,85.4 1382.3,89.6 1378.7,93.8 1375.1,89.6" fill="#2e3a94"/>
<polygon points="1382.4,130.1 1386.0,134.3 1382.4,138.5 1378.8,134.3" fill="#2e3a94"/>
<polygon points="1386.9,176.5 1390.5,180.7 1386.9,184.9 1383.3,180.7" fill="#2e3a94"/>
<polygon points="1391.5,176.5 1395.1,180.7 1391.5,184.9 1387.9,180.7" fill="#2e3a94"/>
<polygon points="1395.0,177.4 1398.6,181.6 1395.0,185.8 1391.4,181.6" fill="#2e3a94"/>
<polygon points="1399.7,192.0 1403.3,196.2 1399.7,200.4 1396.1,196.2" fill="#2e3a94"/>
<polygon points="1405.3,208.4 1408.9,212.6 1405.3,216.8 1401.7,212.6" fill="#2e3a94"/>
<polygon points="1409.8,226.6 1413.4,230.8 1409.8,235.0 1406.2,230.8" fill="#2e3a94"/>
<polygon points="1414.9,254.8 1418.5,259.0 1414.9,263.2 1411.3,259.0" fill="#2e3a94"/>
<polygon points="1419.8,270.3 1423.4,274.5 1419.8,278.7 1416.2,274.5" fill="#2e3a94"/>
<polygon points="1424.2,273.1 1427.8,277.3 1424.2,281.5 1420.6,277.3" fill="#2e3a94"/>
<polygon points="1428.9,281.8 1432.5,286.0 1428.9,290.2 1425.3,286.0" fill="#2e3a94"/>
<polygon points="1433.8,289.5 1437.4,293.7 1433.8,297.9 1430.2,293.7" fill="#2e3a94"/>
<polygon points="1438.0,304.0 1441.6,308.2 1438.0,312.4 1434.4,308.2" fill="#2e3a94"/>
<polygon points="1442.4,309.1 1446.0,313.3 1442.4,317.5 1438.8,313.3" fill="#2e3a94"/>
<polygon points="1447.8,307.3 1451.4,311.5 1447.8,315.7 1444.2,311.5" fill="#2e3a94"/>
<polygon points="1451.6,302.2 1455.2,306.4 1451.6,310.6 1448.0,306.4" fill="#2e3a94"/>
<polygon points="1456.5,298.2 1460.1,302.4 1456.5,306.6 1452.9,302.4" fill="#2e3a94"/>
<polygon points="1461.6,295.5 1465.2,299.7 1461.6,303.9 1458.0,299.7" fill="#2e3a94"/>
<polygon points="1466.3,296.8 1469.9,301.0 1466.3,305.2 1462.7,301.0" fill="#2e3a94"/>
<polygon points="1470.7,304.0 1474.3,308.2 1470.7,312.4 1467.1,308.2" fill="#2e3a94"/>
<polygon points="1475.4,311.7 1479.0,315.9 1475.4,320.1 1471.8,315.9" fill="#2e3a94"/>
<polygon points="1479.8,309.5 1483.4,313.7 1479.8,317.9 1476.2,313.7" fill="#2e3a94"/>
<polygon points="1484.5,313.5 1488.1,317.7 1484.5,321.9 1480.9,317.7" fill="#2e3a94"/>
<polygon points="1489.6,312.2 1493.2,316.4 1489.6,320.6 1486.0,316.4" fill="#2e3a94"/>
<polygon points="1495.2,306.4 1498.8,310.6 1495.2,314.8 1491.6,310.6" fill="#2e3a94"/>
<line x1="1405.0" y1="80.0" x2="1423.0" y2="80.0" stroke="#2e3a94" stroke-width="1.6" />
<circle cx="1413.5" cy="80" r="3.8" fill="#2e3a94"/>
<text x="1426.0" y="88.0" font-size="34" text-anchor="start" fill="#000" >Data</text>
<line x1="1405.0" y1="111.5" x2="1423.0" y2="111.5" stroke="#e8262a" stroke-width="2.2" />
<text x="1426.0" y="123.0" font-size="34" text-anchor="start" fill="#000" >Fit</text>
<text x="1172.0" y="84.0" font-size="34" text-anchor="start" fill="#e8262a" >Δ=</text>
<text x="1167.0" y="123.0" font-size="34" text-anchor="start" fill="#e8262a" >17meV</text>
<text x="1172" y="156" font-size="34" fill="#e8262a" font-family="Liberation Serif">Γ<tspan font-size="20" dy="8" font-family="Liberation Sans">1</tspan><tspan dy="-8" font-family="Liberation Sans">=</tspan></text>
<text x="1164.0" y="192.0" font-size="34" text-anchor="start" fill="#e8262a" >20meV</text>
<line x1="1277.1" y1="634.0" x2="1277.1" y2="1165.0" stroke="#231815" stroke-width="1.5" stroke-dasharray="6,5"/>
<polyline points="1136.2,709.0 1146.4,719.6 1156.5,735.8 1166.7,746.6 1176.9,752.1 1186.6,752.1 1196.6,742.5 1206.7,730.7 1216.9,708.4 1227.1,694.1 1236.8,679.5 1247.0,662.6 1257.2,644.3 1267.3,637.2 1277.1,637.6 1287.7,637.2 1297.4,644.3 1307.6,662.6 1317.8,679.5 1327.5,694.1 1337.7,708.4 1347.9,730.7 1358.0,742.5 1367.8,751.5 1377.7,752.1 1387.9,746.6 1398.1,735.8 1408.0,719.6 1417.8,710.0" stroke="#c42a78" stroke-width="2.6" fill="none" stroke-linejoin="round" stroke-linecap="round" />
<ellipse cx="1136.2" cy="709.0" rx="3.1" ry="3.9" fill="#c42a78"/>
<ellipse cx="1146.4" cy="719.6" rx="3.1" ry="3.9" fill="#c42a78"/>
<ellipse cx="1156.5" cy="735.8" rx="3.1" ry="3.9" fill="#c42a78"/>
<ellipse cx="1166.7" cy="746.6" rx="3.1" ry="3.9" fill="#c42a78"/>
<ellipse cx="1176.9" cy="752.1" rx="3.1" ry="3.9" fill="#c42a78"/>
<ellipse cx="1186.6" cy="752.1" rx="3.1" ry="3.9" fill="#c42a78"/>
<ellipse cx="1196.6" cy="742.5" rx="3.1" ry="3.9" fill="#c42a78"/>
<ellipse cx="1206.7" cy="730.7" rx="3.1" ry="3.9" fill="#c42a78"/>
<ellipse cx="1216.9" cy="708.4" rx="3.1" ry="3.9" fill="#c42a78"/>
<ellipse cx="1227.1" cy="694.1" rx="3.1" ry="3.9" fill="#c42a78"/>
<ellipse cx="1236.8" cy="679.5" rx="3.1" ry="3.9" fill="#c42a78"/>
<ellipse cx="1247.0" cy="662.6" rx="3.1" ry="3.9" fill="#c42a78"/>
<ellipse cx="1257.2" cy="644.3" rx="3.1" ry="3.9" fill="#c42a78"/>
<ellipse cx="1267.3" cy="637.2" rx="3.1" ry="3.9" fill="#c42a78"/>
<ellipse cx="1277.1" cy="637.6" rx="3.1" ry="3.9" fill="#c42a78"/>
<ellipse cx="1287.7" cy="637.2" rx="3.1" ry="3.9" fill="#c42a78"/>
<ellipse cx="1297.4" cy="644.3" rx="3.1" ry="3.9" fill="#c42a78"/>
<ellipse cx="1307.6" cy="662.6" rx="3.1" ry="3.9" fill="#c42a78"/>
<ellipse cx="1317.8" cy="679.5" rx="3.1" ry="3.9" fill="#c42a78"/>
<ellipse cx="1327.5" cy="694.1" rx="3.1" ry="3.9" fill="#c42a78"/>
<ellipse cx="1337.7" cy="708.4" rx="3.1" ry="3.9" fill="#c42a78"/>
<ellipse cx="1347.9" cy="730.7" rx="3.1" ry="3.9" fill="#c42a78"/>
<ellipse cx="1358.0" cy="742.5" rx="3.1" ry="3.9" fill="#c42a78"/>
<ellipse cx="1367.8" cy="751.5" rx="3.1" ry="3.9" fill="#c42a78"/>
<ellipse cx="1377.7" cy="752.1" rx="3.1" ry="3.9" fill="#c42a78"/>
<ellipse cx="1387.9" cy="746.6" rx="3.1" ry="3.9" fill="#c42a78"/>
<ellipse cx="1398.1" cy="735.8" rx="3.1" ry="3.9" fill="#c42a78"/>
<ellipse cx="1408.0" cy="719.6" rx="3.1" ry="3.9" fill="#c42a78"/>
<ellipse cx="1417.8" cy="710.0" rx="3.1" ry="3.9" fill="#c42a78"/>
<polyline points="1134.2,780.6 1142.9,786.7 1153.1,799.5 1163.2,816.1 1173.4,816.1 1184.0,818.2 1194.1,818.2 1204.7,807.6 1214.9,795.8 1225.4,782.6 1235.6,758.2 1246.0,730.7 1256.4,705.3 1266.9,697.2 1277.1,689.1 1287.7,697.2 1297.8,705.3 1308.0,730.3 1318.6,757.6 1328.7,782.6 1338.9,795.8 1349.5,807.0 1359.9,818.2 1370.0,817.2 1380.6,815.7 1390.8,815.7 1401.5,798.9 1411.7,786.7 1420.2,780.6" stroke="#b4bb3a" stroke-width="2.6" fill="none" stroke-linejoin="round" stroke-linecap="round" />
<ellipse cx="1134.2" cy="780.6" rx="3.1" ry="3.9" fill="#b4bb3a"/>
<ellipse cx="1142.9" cy="786.7" rx="3.1" ry="3.9" fill="#b4bb3a"/>
<ellipse cx="1153.1" cy="799.5" rx="3.1" ry="3.9" fill="#b4bb3a"/>
<ellipse cx="1163.2" cy="816.1" rx="3.1" ry="3.9" fill="#b4bb3a"/>
<ellipse cx="1173.4" cy="816.1" rx="3.1" ry="3.9" fill="#b4bb3a"/>
<ellipse cx="1184.0" cy="818.2" rx="3.1" ry="3.9" fill="#b4bb3a"/>
<ellipse cx="1194.1" cy="818.2" rx="3.1" ry="3.9" fill="#b4bb3a"/>
<ellipse cx="1204.7" cy="807.6" rx="3.1" ry="3.9" fill="#b4bb3a"/>
<ellipse cx="1214.9" cy="795.8" rx="3.1" ry="3.9" fill="#b4bb3a"/>
<ellipse cx="1225.4" cy="782.6" rx="3.1" ry="3.9" fill="#b4bb3a"/>
<ellipse cx="1235.6" cy="758.2" rx="3.1" ry="3.9" fill="#b4bb3a"/>
<ellipse cx="1246.0" cy="730.7" rx="3.1" ry="3.9" fill="#b4bb3a"/>
<ellipse cx="1256.4" cy="705.3" rx="3.1" ry="3.9" fill="#b4bb3a"/>
<ellipse cx="1266.9" cy="697.2" rx="3.1" ry="3.9" fill="#b4bb3a"/>
<ellipse cx="1277.1" cy="689.1" rx="3.1" ry="3.9" fill="#b4bb3a"/>
<ellipse cx="1287.7" cy="697.2" rx="3.1" ry="3.9" fill="#b4bb3a"/>
<ellipse cx="1297.8" cy="705.3" rx="3.1" ry="3.9" fill="#b4bb3a"/>
<ellipse cx="1308.0" cy="730.3" rx="3.1" ry="3.9" fill="#b4bb3a"/>
<ellipse cx="1318.6" cy="757.6" rx="3.1" ry="3.9" fill="#b4bb3a"/>
<ellipse cx="1328.7" cy="782.6" rx="3.1" ry="3.9" fill="#b4bb3a"/>
<ellipse cx="1338.9" cy="795.8" rx="3.1" ry="3.9" fill="#b4bb3a"/>
<ellipse cx="1349.5" cy="807.0" rx="3.1" ry="3.9" fill="#b4bb3a"/>
<ellipse cx="1359.9" cy="818.2" rx="3.1" ry="3.9" fill="#b4bb3a"/>
<ellipse cx="1370.0" cy="817.2" rx="3.1" ry="3.9" fill="#b4bb3a"/>
<ellipse cx="1380.6" cy="815.7" rx="3.1" ry="3.9" fill="#b4bb3a"/>
<ellipse cx="1390.8" cy="815.7" rx="3.1" ry="3.9" fill="#b4bb3a"/>
<ellipse cx="1401.5" cy="798.9" rx="3.1" ry="3.9" fill="#b4bb3a"/>
<ellipse cx="1411.7" cy="786.7" rx="3.1" ry="3.9" fill="#b4bb3a"/>
<polyline points="1134.2,842.2 1143.3,856.8 1153.5,860.5 1164.0,878.8 1174.2,880.2 1184.4,887.3 1194.5,876.1 1205.1,872.1 1215.5,853.8 1225.4,828.7 1235.8,822.6 1247.0,801.9 1256.8,766.3 1266.9,751.1 1277.1,751.1 1287.7,751.1 1297.8,766.3 1308.0,801.9 1318.6,822.2 1328.7,828.3 1338.9,853.8 1349.5,870.0 1359.6,876.1 1370.0,887.3 1380.2,879.2 1390.4,878.2 1400.5,859.9 1411.1,855.8 1420.2,841.6" stroke="#2a8e9c" stroke-width="2.6" fill="none" stroke-linejoin="round" stroke-linecap="round" />
<ellipse cx="1134.2" cy="842.2" rx="3.1" ry="3.9" fill="#2a8e9c"/>
<ellipse cx="1143.3" cy="856.8" rx="3.1" ry="3.9" fill="#2a8e9c"/>
<ellipse cx="1153.5" cy="860.5" rx="3.1" ry="3.9" fill="#2a8e9c"/>
<ellipse cx="1164.0" cy="878.8" rx="3.1" ry="3.9" fill="#2a8e9c"/>
<ellipse cx="1174.2" cy="880.2" rx="3.1" ry="3.9" fill="#2a8e9c"/>
<ellipse cx="1184.4" cy="887.3" rx="3.1" ry="3.9" fill="#2a8e9c"/>
<ellipse cx="1194.5" cy="876.1" rx="3.1" ry="3.9" fill="#2a8e9c"/>
<ellipse cx="1205.1" cy="872.1" rx="3.1" ry="3.9" fill="#2a8e9c"/>
<ellipse cx="1215.5" cy="853.8" rx="3.1" ry="3.9" fill="#2a8e9c"/>
<ellipse cx="1225.4" cy="828.7" rx="3.1" ry="3.9" fill="#2a8e9c"/>
<ellipse cx="1235.8" cy="822.6" rx="3.1" ry="3.9" fill="#2a8e9c"/>
<ellipse cx="1247.0" cy="801.9" rx="3.1" ry="3.9" fill="#2a8e9c"/>
<ellipse cx="1256.8" cy="766.3" rx="3.1" ry="3.9" fill="#2a8e9c"/>
<ellipse cx="1266.9" cy="751.1" rx="3.1" ry="3.9" fill="#2a8e9c"/>
<ellipse cx="1277.1" cy="751.1" rx="3.1" ry="3.9" fill="#2a8e9c"/>
<ellipse cx="1287.7" cy="751.1" rx="3.1" ry="3.9" fill="#2a8e9c"/>
<ellipse cx="1297.8" cy="766.3" rx="3.1" ry="3.9" fill="#2a8e9c"/>
<ellipse cx="1308.0" cy="801.9" rx="3.1" ry="3.9" fill="#2a8e9c"/>
<ellipse cx="1318.6" cy="822.2" rx="3.1" ry="3.9" fill="#2a8e9c"/>
<ellipse cx="1328.7" cy="828.3" rx="3.1" ry="3.9" fill="#2a8e9c"/>
<ellipse cx="1338.9" cy="853.8" rx="3.1" ry="3.9" fill="#2a8e9c"/>
<ellipse cx="1349.5" cy="870.0" rx="3.1" ry="3.9" fill="#2a8e9c"/>
<ellipse cx="1359.6" cy="876.1" rx="3.1" ry="3.9" fill="#2a8e9c"/>
<ellipse cx="1370.0" cy="887.3" rx="3.1" ry="3.9" fill="#2a8e9c"/>
<ellipse cx="1380.2" cy="879.2" rx="3.1" ry="3.9" fill="#2a8e9c"/>
<ellipse cx="1390.4" cy="878.2" rx="3.1" ry="3.9" fill="#2a8e9c"/>
<ellipse cx="1400.5" cy="859.9" rx="3.1" ry="3.9" fill="#2a8e9c"/>
<ellipse cx="1411.1" cy="855.8" rx="3.1" ry="3.9" fill="#2a8e9c"/>
<polyline points="1134.2,908.5 1143.9,918.6 1154.1,921.7 1164.2,942.0 1174.4,946.1 1185.0,941.0 1195.2,944.1 1205.3,924.3 1215.9,912.5 1226.1,899.3 1236.2,881.0 1246.2,848.7 1256.8,817.2 1266.9,819.2 1277.1,835.5 1287.3,819.2 1297.4,817.2 1308.0,848.7 1318.0,881.0 1328.1,899.3 1338.3,912.5 1348.9,924.3 1359.0,944.1 1369.2,941.0 1379.8,946.1 1390.0,942.0 1400.1,921.7 1410.3,918.6 1420.0,908.5" stroke="#7b4fa0" stroke-width="2.6" fill="none" stroke-linejoin="round" stroke-linecap="round" />
<ellipse cx="1134.2" cy="908.5" rx="3.1" ry="3.9" fill="#7b4fa0"/>
<ellipse cx="1143.9" cy="918.6" rx="3.1" ry="3.9" fill="#7b4fa0"/>
<ellipse cx="1154.1" cy="921.7" rx="3.1" ry="3.9" fill="#7b4fa0"/>
<ellipse cx="1164.2" cy="942.0" rx="3.1" ry="3.9" fill="#7b4fa0"/>
<ellipse cx="1174.4" cy="946.1" rx="3.1" ry="3.9" fill="#7b4fa0"/>
<ellipse cx="1185.0" cy="941.0" rx="3.1" ry="3.9" fill="#7b4fa0"/>
<ellipse cx="1195.2" cy="944.1" rx="3.1" ry="3.9" fill="#7b4fa0"/>
<ellipse cx="1205.3" cy="924.3" rx="3.1" ry="3.9" fill="#7b4fa0"/>
<ellipse cx="1215.9" cy="912.5" rx="3.1" ry="3.9" fill="#7b4fa0"/>
<ellipse cx="1226.1" cy="899.3" rx="3.1" ry="3.9" fill="#7b4fa0"/>
<ellipse cx="1236.2" cy="881.0" rx="3.1" ry="3.9" fill="#7b4fa0"/>
<ellipse cx="1246.2" cy="848.7" rx="3.1" ry="3.9" fill="#7b4fa0"/>
<ellipse cx="1256.8" cy="817.2" rx="3.1" ry="3.9" fill="#7b4fa0"/>
<ellipse cx="1266.9" cy="819.2" rx="3.1" ry="3.9" fill="#7b4fa0"/>
<ellipse cx="1277.1" cy="835.5" rx="3.1" ry="3.9" fill="#7b4fa0"/>
<ellipse cx="1287.3" cy="819.2" rx="3.1" ry="3.9" fill="#7b4fa0"/>
<ellipse cx="1297.4" cy="817.2" rx="3.1" ry="3.9" fill="#7b4fa0"/>
<ellipse cx="1308.0" cy="848.7" rx="3.1" ry="3.9" fill="#7b4fa0"/>
<ellipse cx="1318.0" cy="881.0" rx="3.1" ry="3.9" fill="#7b4fa0"/>
<ellipse cx="1328.1" cy="899.3" rx="3.1" ry="3.9" fill="#7b4fa0"/>
<ellipse cx="1338.3" cy="912.5" rx="3.1" ry="3.9" fill="#7b4fa0"/>
<ellipse cx="1348.9" cy="924.3" rx="3.1" ry="3.9" fill="#7b4fa0"/>
<ellipse cx="1359.0" cy="944.1" rx="3.1" ry="3.9" fill="#7b4fa0"/>
<ellipse cx="1369.2" cy="941.0" rx="3.1" ry="3.9" fill="#7b4fa0"/>
<ellipse cx="1379.8" cy="946.1" rx="3.1" ry="3.9" fill="#7b4fa0"/>
<ellipse cx="1390.0" cy="942.0" rx="3.1" ry="3.9" fill="#7b4fa0"/>
<ellipse cx="1400.1" cy="921.7" rx="3.1" ry="3.9" fill="#7b4fa0"/>
<ellipse cx="1410.3" cy="918.6" rx="3.1" ry="3.9" fill="#7b4fa0"/>
<polyline points="1134.2,966.4 1144.7,973.5 1154.9,1005.7 1165.1,1011.2 1175.2,1008.1 1185.4,1013.8 1195.6,1013.2 1205.7,1014.2 1215.9,987.8 1226.1,971.1 1236.2,938.6 1246.4,900.9 1256.8,869.0 1266.9,888.3 1277.1,912.5 1287.3,888.3 1297.4,869.0 1307.8,900.9 1318.0,938.6 1328.1,971.1 1338.3,987.8 1348.5,1014.2 1358.6,1013.2 1368.8,1013.8 1379.0,1008.1 1389.1,1011.2 1399.3,1005.7 1409.5,973.5 1420.0,966.4" stroke="#e08530" stroke-width="2.6" fill="none" stroke-linejoin="round" stroke-linecap="round" />
<ellipse cx="1134.2" cy="966.4" rx="3.1" ry="3.9" fill="#e08530"/>
<ellipse cx="1144.7" cy="973.5" rx="3.1" ry="3.9" fill="#e08530"/>
<ellipse cx="1154.9" cy="1005.7" rx="3.1" ry="3.9" fill="#e08530"/>
<ellipse cx="1165.1" cy="1011.2" rx="3.1" ry="3.9" fill="#e08530"/>
<ellipse cx="1175.2" cy="1008.1" rx="3.1" ry="3.9" fill="#e08530"/>
<ellipse cx="1185.4" cy="1013.8" rx="3.1" ry="3.9" fill="#e08530"/>
<ellipse cx="1195.6" cy="1013.2" rx="3.1" ry="3.9" fill="#e08530"/>
<ellipse cx="1205.7" cy="1014.2" rx="3.1" ry="3.9" fill="#e08530"/>
<ellipse cx="1215.9" cy="987.8" rx="3.1" ry="3.9" fill="#e08530"/>
<ellipse cx="1226.1" cy="971.1" rx="3.1" ry="3.9" fill="#e08530"/>
<ellipse cx="1236.2" cy="938.6" rx="3.1" ry="3.9" fill="#e08530"/>
<ellipse cx="1246.4" cy="900.9" rx="3.1" ry="3.9" fill="#e08530"/>
<ellipse cx="1256.8" cy="869.0" rx="3.1" ry="3.9" fill="#e08530"/>
<ellipse cx="1266.9" cy="888.3" rx="3.1" ry="3.9" fill="#e08530"/>
<ellipse cx="1277.1" cy="912.5" rx="3.1" ry="3.9" fill="#e08530"/>
<ellipse cx="1287.3" cy="888.3" rx="3.1" ry="3.9" fill="#e08530"/>
<ellipse cx="1297.4" cy="869.0" rx="3.1" ry="3.9" fill="#e08530"/>
<ellipse cx="1307.8" cy="900.9" rx="3.1" ry="3.9" fill="#e08530"/>
<ellipse cx="1318.0" cy="938.6" rx="3.1" ry="3.9" fill="#e08530"/>
<ellipse cx="1328.1" cy="971.1" rx="3.1" ry="3.9" fill="#e08530"/>
<ellipse cx="1338.3" cy="987.8" rx="3.1" ry="3.9" fill="#e08530"/>
<ellipse cx="1348.5" cy="1014.2" rx="3.1" ry="3.9" fill="#e08530"/>
<ellipse cx="1358.6" cy="1013.2" rx="3.1" ry="3.9" fill="#e08530"/>
<ellipse cx="1368.8" cy="1013.8" rx="3.1" ry="3.9" fill="#e08530"/>
<ellipse cx="1379.0" cy="1008.1" rx="3.1" ry="3.9" fill="#e08530"/>
<ellipse cx="1389.1" cy="1011.2" rx="3.1" ry="3.9" fill="#e08530"/>
<ellipse cx="1399.3" cy="1005.7" rx="3.1" ry="3.9" fill="#e08530"/>
<ellipse cx="1409.5" cy="973.5" rx="3.1" ry="3.9" fill="#e08530"/>
<ellipse cx="1420.0" cy="966.4" rx="3.1" ry="3.9" fill="#e08530"/>
<polyline points="1135.6,1040.6 1145.9,1048.8 1156.1,1063.0 1166.3,1076.2 1176.4,1068.7 1186.6,1070.5 1196.8,1074.2 1206.9,1066.1 1216.9,1053.9 1227.1,1036.6 1236.8,1007.1 1247.0,966.4 1257.2,933.3 1267.3,967.0 1277.1,992.9 1287.7,967.0 1297.8,933.3 1308.0,966.4 1317.8,1007.1 1327.9,1036.6 1338.1,1053.9 1348.3,1066.1 1358.4,1074.2 1368.0,1069.5 1378.2,1068.1 1388.3,1075.2 1398.5,1062.0 1408.7,1048.8 1418.8,1040.6" stroke="#3aa86a" stroke-width="2.6" fill="none" stroke-linejoin="round" stroke-linecap="round" />
<ellipse cx="1135.6" cy="1040.6" rx="3.1" ry="3.9" fill="#3aa86a"/>
<ellipse cx="1145.9" cy="1048.8" rx="3.1" ry="3.9" fill="#3aa86a"/>
<ellipse cx="1156.1" cy="1063.0" rx="3.1" ry="3.9" fill="#3aa86a"/>
<ellipse cx="1166.3" cy="1076.2" rx="3.1" ry="3.9" fill="#3aa86a"/>
<ellipse cx="1176.4" cy="1068.7" rx="3.1" ry="3.9" fill="#3aa86a"/>
<ellipse cx="1186.6" cy="1070.5" rx="3.1" ry="3.9" fill="#3aa86a"/>
<ellipse cx="1196.8" cy="1074.2" rx="3.1" ry="3.9" fill="#3aa86a"/>
<ellipse cx="1206.9" cy="1066.1" rx="3.1" ry="3.9" fill="#3aa86a"/>
<ellipse cx="1216.9" cy="1053.9" rx="3.1" ry="3.9" fill="#3aa86a"/>
<ellipse cx="1227.1" cy="1036.6" rx="3.1" ry="3.9" fill="#3aa86a"/>
<ellipse cx="1236.8" cy="1007.1" rx="3.1" ry="3.9" fill="#3aa86a"/>
<ellipse cx="1247.0" cy="966.4" rx="3.1" ry="3.9" fill="#3aa86a"/>
<ellipse cx="1257.2" cy="933.3" rx="3.1" ry="3.9" fill="#3aa86a"/>
<ellipse cx="1267.3" cy="967.0" rx="3.1" ry="3.9" fill="#3aa86a"/>
<ellipse cx="1277.1" cy="992.9" rx="3.1" ry="3.9" fill="#3aa86a"/>
<ellipse cx="1287.7" cy="967.0" rx="3.1" ry="3.9" fill="#3aa86a"/>
<ellipse cx="1297.8" cy="933.3" rx="3.1" ry="3.9" fill="#3aa86a"/>
<ellipse cx="1308.0" cy="966.4" rx="3.1" ry="3.9" fill="#3aa86a"/>
<ellipse cx="1317.8" cy="1007.1" rx="3.1" ry="3.9" fill="#3aa86a"/>
<ellipse cx="1327.9" cy="1036.6" rx="3.1" ry="3.9" fill="#3aa86a"/>
<ellipse cx="1338.1" cy="1053.9" rx="3.1" ry="3.9" fill="#3aa86a"/>
<ellipse cx="1348.3" cy="1066.1" rx="3.1" ry="3.9" fill="#3aa86a"/>
<ellipse cx="1358.4" cy="1074.2" rx="3.1" ry="3.9" fill="#3aa86a"/>
<ellipse cx="1368.0" cy="1069.5" rx="3.1" ry="3.9" fill="#3aa86a"/>
<ellipse cx="1378.2" cy="1068.1" rx="3.1" ry="3.9" fill="#3aa86a"/>
<ellipse cx="1388.3" cy="1075.2" rx="3.1" ry="3.9" fill="#3aa86a"/>
<ellipse cx="1398.5" cy="1062.0" rx="3.1" ry="3.9" fill="#3aa86a"/>
<ellipse cx="1408.7" cy="1048.8" rx="3.1" ry="3.9" fill="#3aa86a"/>
<ellipse cx="1418.8" cy="1040.6" rx="3.1" ry="3.9" fill="#3aa86a"/>
<polyline points="1134.2,1132.1 1137.2,1108.8 1141.9,1101.6 1145.9,1151.5 1149.4,1144.3 1154.1,1136.6 1158.1,1150.4 1162.2,1144.7 1166.3,1146.4 1170.3,1160.6 1174.4,1146.8 1178.5,1149.4 1182.5,1155.5 1186.6,1163.7 1191.1,1133.8 1195.2,1139.9 1199.2,1156.1 1203.3,1144.7 1207.4,1148.0 1211.4,1145.4 1215.9,1148.0 1219.6,1127.1 1224.0,1117.9 1228.1,1108.8 1232.2,1098.6 1236.2,1080.3 1240.3,1062.0 1244.6,1052.8 1248.6,1019.3 1252.7,974.6 1256.8,964.4 1260.8,999.0 1264.9,1030.5 1269.0,1097.6 1273.0,1121.0 1277.1,1101.6 1281.2,1121.0 1285.6,1097.6 1289.7,1030.5 1293.8,998.3 1297.8,963.4 1301.9,975.6 1306.0,1019.3 1310.0,1052.8 1314.1,1062.0 1318.2,1079.3 1322.2,1098.6 1326.3,1107.7 1330.8,1116.9 1334.8,1126.0 1338.9,1146.4 1343.0,1145.4 1347.0,1148.0 1351.1,1145.4 1355.2,1156.5 1359.2,1138.6 1363.3,1134.2 1367.4,1163.7 1371.4,1156.5 1375.5,1148.4 1379.6,1146.0 1383.6,1158.6 1387.7,1146.0 1391.8,1146.4 1395.8,1151.5 1399.9,1138.2 1404.0,1141.3 1408.7,1150.4 1412.7,1101.6 1416.8,1108.8 1420.2,1133.2" stroke="#2f4f9e" stroke-width="2.6" fill="none" stroke-linejoin="round" stroke-linecap="round" />
<ellipse cx="1137.2" cy="1108.8" rx="3.1" ry="3.9" fill="#2f4f9e"/>
<ellipse cx="1141.9" cy="1101.6" rx="3.1" ry="3.9" fill="#2f4f9e"/>
<ellipse cx="1145.9" cy="1151.5" rx="3.1" ry="3.9" fill="#2f4f9e"/>
<ellipse cx="1149.4" cy="1144.3" rx="3.1" ry="3.9" fill="#2f4f9e"/>
<ellipse cx="1154.1" cy="1136.6" rx="3.1" ry="3.9" fill="#2f4f9e"/>
<ellipse cx="1158.1" cy="1150.4" rx="3.1" ry="3.9" fill="#2f4f9e"/>
<ellipse cx="1162.2" cy="1144.7" rx="3.1" ry="3.9" fill="#2f4f9e"/>
<ellipse cx="1166.3" cy="1146.4" rx="3.1" ry="3.9" fill="#2f4f9e"/>
<ellipse cx="1170.3" cy="1160.6" rx="3.1" ry="3.9" fill="#2f4f9e"/>
<ellipse cx="1174.4" cy="1146.8" rx="3.1" ry="3.9" fill="#2f4f9e"/>
<ellipse cx="1178.5" cy="1149.4" rx="3.1" ry="3.9" fill="#2f4f9e"/>
<ellipse cx="1182.5" cy="1155.5" rx="3.1" ry="3.9" fill="#2f4f9e"/>
<ellipse cx="1186.6" cy="1163.7" rx="3.1" ry="3.9" fill="#2f4f9e"/>
<ellipse cx="1191.1" cy="1133.8" rx="3.1" ry="3.9" fill="#2f4f9e"/>
<ellipse cx="1195.2" cy="1139.9" rx="3.1" ry="3.9" fill="#2f4f9e"/>
<ellipse cx="1199.2" cy="1156.1" rx="3.1" ry="3.9" fill="#2f4f9e"/>
<ellipse cx="1203.3" cy="1144.7" rx="3.1" ry="3.9" fill="#2f4f9e"/>
<ellipse cx="1207.4" cy="1148.0" rx="3.1" ry="3.9" fill="#2f4f9e"/>
<ellipse cx="1211.4" cy="1145.4" rx="3.1" ry="3.9" fill="#2f4f9e"/>
<ellipse cx="1215.9" cy="1148.0" rx="3.1" ry="3.9" fill="#2f4f9e"/>
<ellipse cx="1219.6" cy="1127.1" rx="3.1" ry="3.9" fill="#2f4f9e"/>
<ellipse cx="1224.0" cy="1117.9" rx="3.1" ry="3.9" fill="#2f4f9e"/>
<ellipse cx="1228.1" cy="1108.8" rx="3.1" ry="3.9" fill="#2f4f9e"/>
<ellipse cx="1232.2" cy="1098.6" rx="3.1" ry="3.9" fill="#2f4f9e"/>
<ellipse cx="1236.2" cy="1080.3" rx="3.1" ry="3.9" fill="#2f4f9e"/>
<ellipse cx="1240.3" cy="1062.0" rx="3.1" ry="3.9" fill="#2f4f9e"/>
<ellipse cx="1244.6" cy="1052.8" rx="3.1" ry="3.9" fill="#2f4f9e"/>
<ellipse cx="1248.6" cy="1019.3" rx="3.1" ry="3.9" fill="#2f4f9e"/>
<ellipse cx="1252.7" cy="974.6" rx="3.1" ry="3.9" fill="#2f4f9e"/>
<ellipse cx="1256.8" cy="964.4" rx="3.1" ry="3.9" fill="#2f4f9e"/>
<ellipse cx="1260.8" cy="999.0" rx="3.1" ry="3.9" fill="#2f4f9e"/>
<ellipse cx="1264.9" cy="1030.5" rx="3.1" ry="3.9" fill="#2f4f9e"/>
<ellipse cx="1269.0" cy="1097.6" rx="3.1" ry="3.9" fill="#2f4f9e"/>
<ellipse cx="1273.0" cy="1121.0" rx="3.1" ry="3.9" fill="#2f4f9e"/>
<ellipse cx="1277.1" cy="1101.6" rx="3.1" ry="3.9" fill="#2f4f9e"/>
<ellipse cx="1281.2" cy="1121.0" rx="3.1" ry="3.9" fill="#2f4f9e"/>
<ellipse cx="1285.6" cy="1097.6" rx="3.1" ry="3.9" fill="#2f4f9e"/>
<ellipse cx="1289.7" cy="1030.5" rx="3.1" ry="3.9" fill="#2f4f9e"/>
<ellipse cx="1293.8" cy="998.3" rx="3.1" ry="3.9" fill="#2f4f9e"/>
<ellipse cx="1297.8" cy="963.4" rx="3.1" ry="3.9" fill="#2f4f9e"/>
<ellipse cx="1301.9" cy="975.6" rx="3.1" ry="3.9" fill="#2f4f9e"/>
<ellipse cx="1306.0" cy="1019.3" rx="3.1" ry="3.9" fill="#2f4f9e"/>
<ellipse cx="1310.0" cy="1052.8" rx="3.1" ry="3.9" fill="#2f4f9e"/>
<ellipse cx="1314.1" cy="1062.0" rx="3.1" ry="3.9" fill="#2f4f9e"/>
<ellipse cx="1318.2" cy="1079.3" rx="3.1" ry="3.9" fill="#2f4f9e"/>
<ellipse cx="1322.2" cy="1098.6" rx="3.1" ry="3.9" fill="#2f4f9e"/>
<ellipse cx="1326.3" cy="1107.7" rx="3.1" ry="3.9" fill="#2f4f9e"/>
<ellipse cx="1330.8" cy="1116.9" rx="3.1" ry="3.9" fill="#2f4f9e"/>
<ellipse cx="1334.8" cy="1126.0" rx="3.1" ry="3.9" fill="#2f4f9e"/>
<ellipse cx="1338.9" cy="1146.4" rx="3.1" ry="3.9" fill="#2f4f9e"/>
<ellipse cx="1343.0" cy="1145.4" rx="3.1" ry="3.9" fill="#2f4f9e"/>
<ellipse cx="1347.0" cy="1148.0" rx="3.1" ry="3.9" fill="#2f4f9e"/>
<ellipse cx="1351.1" cy="1145.4" rx="3.1" ry="3.9" fill="#2f4f9e"/>
<ellipse cx="1355.2" cy="1156.5" rx="3.1" ry="3.9" fill="#2f4f9e"/>
<ellipse cx="1359.2" cy="1138.6" rx="3.1" ry="3.9" fill="#2f4f9e"/>
<ellipse cx="1363.3" cy="1134.2" rx="3.1" ry="3.9" fill="#2f4f9e"/>
<ellipse cx="1367.4" cy="1163.7" rx="3.1" ry="3.9" fill="#2f4f9e"/>
<ellipse cx="1371.4" cy="1156.5" rx="3.1" ry="3.9" fill="#2f4f9e"/>
<ellipse cx="1375.5" cy="1148.4" rx="3.1" ry="3.9" fill="#2f4f9e"/>
<ellipse cx="1379.6" cy="1146.0" rx="3.1" ry="3.9" fill="#2f4f9e"/>
<ellipse cx="1383.6" cy="1158.6" rx="3.1" ry="3.9" fill="#2f4f9e"/>
<ellipse cx="1387.7" cy="1146.0" rx="3.1" ry="3.9" fill="#2f4f9e"/>
<ellipse cx="1391.8" cy="1146.4" rx="3.1" ry="3.9" fill="#2f4f9e"/>
<ellipse cx="1395.8" cy="1151.5" rx="3.1" ry="3.9" fill="#2f4f9e"/>
<ellipse cx="1399.9" cy="1138.2" rx="3.1" ry="3.9" fill="#2f4f9e"/>
<ellipse cx="1404.0" cy="1141.3" rx="3.1" ry="3.9" fill="#2f4f9e"/>
<ellipse cx="1408.7" cy="1150.4" rx="3.1" ry="3.9" fill="#2f4f9e"/>
<ellipse cx="1412.7" cy="1101.6" rx="3.1" ry="3.9" fill="#2f4f9e"/>
<ellipse cx="1416.8" cy="1108.8" rx="3.1" ry="3.9" fill="#2f4f9e"/>
<text x="1432.0" y="713.5" font-size="33" text-anchor="start" fill="#c42a78" >61 K</text>
<text x="1432.0" y="790.5" font-size="33" text-anchor="start" fill="#b4bb3a" >56 K</text>
<text x="1432.0" y="859.5" font-size="33" text-anchor="start" fill="#2a8e9c" >51 K</text>
<text x="1432.0" y="920.0" font-size="33" text-anchor="start" fill="#7b4fa0" >46 K</text>
<text x="1432.0" y="983.0" font-size="33" text-anchor="start" fill="#e08530" >41 K</text>
<text x="1432.0" y="1054.0" font-size="33" text-anchor="start" fill="#3aa86a" >36 K</text>
<text x="1432.0" y="1129.0" font-size="33" text-anchor="start" fill="#2f4f9e" >31 K</text>
<line x1="123.0" y1="1175.0" x2="499.0" y2="1175.0" stroke="#555" stroke-width="1.4" stroke-dasharray="7,6"/>
<polyline points="129.3,982.3 138.4,982.2 151.3,982.1 166.5,982.0 182.1,981.9 196.5,981.8 208.0,981.8 216.4,981.8 223.1,981.8 228.5,981.9 233.2,982.0 237.7,982.2 242.6,982.6 247.7,983.2 252.6,983.9 257.4,984.7 261.9,985.6 266.3,986.5 270.4,987.5 274.3,988.5 277.9,989.4 281.2,990.4 284.5,991.5 287.8,992.8 291.2,994.4 294.7,996.2 298.1,998.2 301.6,1000.4 305.1,1002.8 308.5,1005.4 312.0,1008.2 315.5,1011.2 318.9,1014.4 322.4,1017.7 325.9,1021.3 329.3,1025.0 332.8,1029.0 336.3,1033.2 339.9,1037.6 343.4,1042.3 346.9,1047.0 350.3,1051.9 353.6,1056.8 356.7,1061.8 359.8,1066.8 362.7,1072.0 365.5,1077.2 368.3,1082.6 370.9,1088.0 373.5,1093.6 376.0,1099.5 378.4,1105.5 380.7,1111.4 382.8,1117.2 384.7,1122.6 386.3,1127.7 387.7,1132.7 388.9,1137.6 389.9,1142.1 390.9,1146.4 391.7,1150.4 392.4,1154.0 393.0,1157.4 393.4,1160.5 393.7,1163.3 394.1,1165.8 394.5,1168.0 395.0,1169.8 395.4,1171.3 395.9,1172.5 396.4,1173.4 396.7,1174.2 397.0,1174.8 402.0,1175.0 489.4,1175.0" stroke="#f6bcc2" stroke-width="13" fill="none" stroke-linejoin="round" stroke-linecap="butt" opacity="0.95"/>
<line x1="291.1" y1="955.8" x2="291.1" y2="1026.1" stroke="#e03030" stroke-width="2.4" />
<line x1="285.1" y1="955.8" x2="297.1" y2="955.8" stroke="#e03030" stroke-width="2.4" />
<line x1="285.1" y1="1026.1" x2="297.1" y2="1026.1" stroke="#e03030" stroke-width="2.4" />
<circle cx="291.1" cy="991.0" r="6.2" fill="#e03030"/>
<line x1="316.6" y1="991.8" x2="316.6" y2="1062.1" stroke="#e03030" stroke-width="2.4" />
<line x1="310.6" y1="991.8" x2="322.6" y2="991.8" stroke="#e03030" stroke-width="2.4" />
<line x1="310.6" y1="1062.1" x2="322.6" y2="1062.1" stroke="#e03030" stroke-width="2.4" />
<circle cx="316.6" cy="1026.9" r="6.2" fill="#e03030"/>
<line x1="342.1" y1="999.3" x2="342.1" y2="1069.6" stroke="#e03030" stroke-width="2.4" />
<line x1="336.1" y1="999.3" x2="348.1" y2="999.3" stroke="#e03030" stroke-width="2.4" />
<line x1="336.1" y1="1069.6" x2="348.1" y2="1069.6" stroke="#e03030" stroke-width="2.4" />
<circle cx="342.1" cy="1034.5" r="6.2" fill="#e03030"/>
<line x1="367.6" y1="1024.4" x2="367.6" y2="1094.7" stroke="#e03030" stroke-width="2.4" />
<line x1="361.6" y1="1024.4" x2="373.6" y2="1024.4" stroke="#e03030" stroke-width="2.4" />
<line x1="361.6" y1="1094.7" x2="373.6" y2="1094.7" stroke="#e03030" stroke-width="2.4" />
<circle cx="367.6" cy="1059.6" r="6.2" fill="#e03030"/>
<line x1="393.1" y1="1139.9" x2="393.1" y2="1175.0" stroke="#e03030" stroke-width="2.4" />
<line x1="387.1" y1="1139.9" x2="399.1" y2="1139.9" stroke="#e03030" stroke-width="2.4" />
<circle cx="393.1" cy="1175.0" r="6.2" fill="#e03030"/>
<line x1="418.6" y1="1139.9" x2="418.6" y2="1175.0" stroke="#e03030" stroke-width="2.4" />
<line x1="412.6" y1="1139.9" x2="424.6" y2="1139.9" stroke="#e03030" stroke-width="2.4" />
<circle cx="418.6" cy="1175.0" r="6.2" fill="#e03030"/>
<line x1="444.1" y1="1139.9" x2="444.1" y2="1175.0" stroke="#e03030" stroke-width="2.4" />
<line x1="438.1" y1="1139.9" x2="450.1" y2="1139.9" stroke="#e03030" stroke-width="2.4" />
<circle cx="444.1" cy="1175.0" r="6.2" fill="#e03030"/>
<clipPath id="clipI"><rect x="99" y="1320" width="381" height="299"/></clipPath>
<polyline points="99.1,1351.0 101.4,1351.1 104.6,1351.2 108.3,1351.3 112.5,1351.4 116.7,1351.5 120.8,1351.6 124.8,1351.7 128.9,1351.8 133.1,1351.9 137.5,1352.0 142.1,1351.9 147.0,1351.6 152.2,1351.1 157.8,1350.4 163.7,1349.5 169.6,1348.6 175.6,1347.7 181.4,1346.9 187.2,1346.1 193.0,1345.3 198.8,1344.5 204.6,1343.7 210.4,1343.0 216.2,1342.4 222.0,1341.9 227.8,1341.5 233.6,1341.1 239.4,1340.8 245.2,1340.5 251.0,1340.4 256.7,1340.3 262.5,1340.4 268.2,1340.5 273.9,1340.7 279.7,1340.9 285.4,1341.2 291.3,1341.6 297.4,1342.0 303.4,1342.5 309.4,1343.1 315.0,1343.6 320.2,1344.1 324.7,1344.5 328.5,1344.9 332.1,1345.2 335.7,1345.6 339.7,1346.2 344.4,1346.9 350.0,1347.8 356.3,1349.0 362.9,1350.3 369.7,1351.6 376.3,1352.8 382.4,1354.0 388.1,1355.0 393.5,1355.9 398.7,1356.8 403.9,1357.7 409.1,1358.5 414.3,1359.3 419.6,1359.9 424.9,1360.5 430.2,1361.1 435.4,1361.6 440.8,1362.2 446.2,1362.8 452.1,1363.5 458.5,1364.3 464.9,1365.1 471.0,1365.8 476.0,1366.5 479.7,1366.9" stroke="#2850a8" stroke-width="4.5" fill="none" stroke-linejoin="round" stroke-linecap="round" clip-path="url(#clipI)"/>
<polyline points="99.1,1607.7 101.0,1608.0 103.7,1608.5 106.8,1609.2 110.2,1609.7 113.6,1610.0 117.0,1610.0 120.3,1609.6 123.8,1609.0 127.4,1608.2 130.9,1607.2 134.4,1606.0 137.7,1604.7 140.9,1603.1 144.0,1601.3 147.0,1599.4 149.9,1597.2 152.7,1595.1 155.3,1592.9 157.6,1590.8 159.6,1588.7 161.6,1586.6 163.4,1584.3 165.3,1581.7 167.4,1578.7 169.6,1575.3 172.0,1571.6 174.4,1567.5 176.8,1563.2 179.2,1558.9 181.4,1554.5 183.6,1550.2 185.6,1545.7 187.6,1541.1 189.6,1536.5 191.6,1531.7 193.6,1526.8 195.6,1521.8 197.5,1516.8 199.5,1511.6 201.5,1506.3 203.6,1501.0 205.7,1495.6 207.9,1489.9 210.1,1484.1 212.4,1478.2 214.7,1472.4 217.1,1466.7 219.4,1461.3 221.7,1456.3 223.9,1451.5 226.2,1446.9 228.5,1442.5 230.9,1438.0 233.4,1433.6 236.2,1429.1 239.0,1424.5 242.0,1420.0 245.0,1415.6 248.0,1411.5 251.0,1407.6 253.9,1404.1 256.7,1400.8 259.6,1397.8 262.5,1395.0 265.3,1392.4 268.2,1389.9 271.1,1387.8 273.9,1386.0 276.8,1384.3 279.7,1382.8 282.5,1381.4 285.4,1379.9 288.3,1378.4 291.3,1376.9 294.2,1375.4 297.1,1374.1 300.1,1372.8 303.0,1371.6 305.8,1370.6 308.5,1369.8 311.2,1369.0 313.9,1368.3 316.9,1367.6 320.2,1366.9 323.7,1366.3 327.2,1365.6 331.0,1365.0 335.1,1364.4 339.5,1363.9 344.4,1363.4 350.0,1363.0 356.3,1362.6 362.9,1362.2 369.7,1361.9 376.3,1361.7 382.4,1361.6 388.1,1361.6 393.5,1361.8 398.7,1362.0 403.9,1362.3 409.1,1362.5 414.3,1362.8 419.6,1363.0 424.9,1363.2 430.2,1363.5 435.4,1363.7 440.8,1364.1 446.2,1364.6 452.1,1365.2 458.5,1366.1 464.9,1367.0 471.0,1368.0 476.0,1368.7 479.7,1369.3" stroke="#e0282a" stroke-width="4.5" fill="none" stroke-linejoin="round" stroke-linecap="round" clip-path="url(#clipI)"/>
<text x="100.0" y="1378.0" font-size="32.5" text-anchor="start" fill="#2850a8" >Se/LFO/STO</text>
<text x="172.0" y="1593.0" font-size="32.5" text-anchor="start" fill="#e0282a" >Se/FeSe/LFO/STO</text>
<line x1="205.9" y1="1526.7" x2="214.5" y2="1552.0" stroke="#e0282a" stroke-width="1.9" />
<polygon points="218.9,1567.4 204.2,1550.1 221.2,1545.8" fill="#e0282a"/>
<line x1="607.0" y1="1343.0" x2="967.0" y2="1343.0" stroke="#231815" stroke-width="1.4" stroke-dasharray="7,6"/>
<line x1="756.0" y1="1319.0" x2="756.0" y2="1422.0" stroke="#231815" stroke-width="1.4" stroke-dasharray="7,6"/>
<line x1="843.3" y1="1319.0" x2="843.3" y2="1400.0" stroke="#231815" stroke-width="1.4" stroke-dasharray="7,6"/>
<clipPath id="clipJ"><rect x="607" y="1319" width="360" height="300"/></clipPath>
<polyline points="607.0,1590.7 609.2,1590.8 612.4,1590.9 616.0,1591.0 619.9,1591.2 623.5,1591.2 626.6,1591.2 629.0,1591.2 631.2,1591.1 633.1,1591.0 634.9,1590.8 636.7,1590.5 638.6,1590.1 640.6,1589.7 642.6,1589.3 644.6,1588.7 646.6,1588.1 648.7,1587.2 650.7,1586.1 652.7,1584.7 654.7,1583.2 656.7,1581.4 658.7,1579.4 660.7,1577.1 662.7,1574.7 664.7,1571.9 666.7,1568.8 668.7,1565.5 670.7,1562.1 672.7,1558.4 674.7,1554.6 676.7,1550.7 678.8,1546.7 680.8,1542.5 682.8,1538.1 684.8,1533.6 686.8,1528.9 688.8,1524.0 690.8,1518.8 692.8,1513.5 694.8,1508.1 696.8,1502.7 698.8,1497.4 700.8,1492.1 702.8,1486.8 704.8,1481.4 706.8,1476.1 708.9,1471.0 710.9,1466.0 712.9,1461.2 714.9,1456.5 716.9,1451.9 718.9,1447.5 720.9,1443.2 722.9,1439.1 724.9,1435.1 726.9,1431.2 728.9,1427.4 730.9,1423.9 732.9,1420.5 734.9,1417.4 736.9,1414.5 739.0,1411.9 741.0,1409.6 743.0,1407.3 745.0,1405.2 747.0,1403.1 749.0,1401.0 751.0,1398.9 753.0,1397.0 755.0,1395.1 757.0,1393.3 759.0,1391.6 761.0,1390.0 763.0,1388.5 765.0,1387.1 767.0,1385.7 769.1,1384.4 771.1,1383.0 773.0,1381.7 774.9,1380.5 776.7,1379.2 778.6,1378.0 780.7,1376.8 783.1,1375.6 785.8,1374.4 788.7,1373.2 791.8,1372.0 794.9,1370.9 798.1,1369.8 801.2,1368.7 804.1,1367.8 807.0,1366.9 809.8,1366.1 812.8,1365.2 815.9,1364.4 819.2,1363.6 822.8,1362.7 826.6,1361.9 830.5,1361.1 834.6,1360.2 838.9,1359.3 843.3,1358.4 848.0,1357.5 852.9,1356.5 858.0,1355.4 863.1,1354.4 868.3,1353.5 873.4,1352.7 878.4,1352.1 883.4,1351.7 888.5,1351.4 893.5,1351.1 898.5,1350.8 903.5,1350.4 908.5,1350.1 913.5,1349.7 918.5,1349.3 923.5,1349.0 928.5,1348.6 933.6,1348.1 939.1,1347.7 945.2,1347.1 951.3,1346.6 957.0,1346.1 961.7,1345.6 965.2,1345.3" stroke="#e0282a" stroke-width="4.5" fill="none" stroke-linejoin="round" stroke-linecap="round" clip-path="url(#clipJ)"/>
<polyline points="607.0,1522.0 609.2,1522.1 612.4,1522.3 616.0,1522.4 619.9,1522.6 623.5,1522.6 626.6,1522.6 629.0,1522.5 631.2,1522.3 633.1,1522.1 634.9,1521.8 636.7,1521.4 638.6,1520.9 640.6,1520.3 642.6,1519.7 644.6,1518.9 646.6,1518.1 648.7,1517.0 650.7,1515.7 652.7,1514.3 654.7,1512.6 656.7,1510.7 658.7,1508.7 660.7,1506.5 662.7,1504.3 664.7,1501.9 666.7,1499.4 668.7,1496.7 670.7,1494.0 672.7,1491.1 674.7,1488.3 676.7,1485.4 678.8,1482.4 680.8,1479.3 682.8,1476.2 684.8,1473.1 686.8,1470.0 688.8,1466.9 690.8,1463.8 692.8,1460.8 694.8,1457.7 696.8,1454.7 698.8,1451.7 700.8,1448.7 702.8,1445.8 704.8,1442.9 706.8,1440.1 708.9,1437.3 710.9,1434.5 712.9,1431.8 714.9,1429.2 716.9,1426.6 718.9,1424.1 720.9,1421.6 722.9,1419.1 724.9,1416.6 726.9,1414.1 728.9,1411.7 730.9,1409.3 732.9,1407.0 734.9,1404.8 736.9,1402.7 739.0,1400.6 741.0,1398.7 743.0,1396.8 745.0,1395.0 747.0,1393.3 749.0,1391.8 751.0,1390.4 753.0,1389.1 755.0,1387.8 757.0,1386.6 759.0,1385.3 761.0,1384.0 763.0,1382.8 765.0,1381.5 767.0,1380.3 769.1,1379.1 771.1,1377.9 773.0,1376.8 774.9,1375.7 776.7,1374.6 778.6,1373.6 780.7,1372.6 783.1,1371.6 785.8,1370.6 788.7,1369.7 791.8,1368.7 794.9,1367.8 798.1,1366.8 801.2,1365.9 804.1,1364.9 807.0,1364.0 809.8,1363.1 812.8,1362.2 815.9,1361.2 819.2,1360.2 823.0,1359.1 827.0,1357.9 831.3,1356.7 835.5,1355.5 839.6,1354.4 843.3,1353.3 846.7,1352.2 850.0,1351.1 853.1,1350.1 856.0,1349.1 858.8,1348.3 861.4,1347.6 863.5,1347.1 865.2,1346.8 866.6,1346.6 868.3,1346.5 870.4,1346.4 873.4,1346.4 877.4,1346.5 882.1,1346.8 887.3,1347.1 892.8,1347.4 898.3,1347.6 903.5,1347.6 908.5,1347.4 913.5,1347.2 918.5,1346.8 923.5,1346.4 928.5,1345.9 933.6,1345.3 939.1,1344.5 945.2,1343.6 951.3,1342.6 957.0,1341.6 961.7,1340.7 965.2,1340.1" stroke="#3aa86a" stroke-width="4.5" fill="none" stroke-linejoin="round" stroke-linecap="round" clip-path="url(#clipJ)"/>
<polyline points="607.0,1492.9 609.2,1492.9 612.4,1492.9 616.0,1492.9 619.9,1492.9 623.5,1492.9 626.6,1492.9 629.0,1492.8 631.2,1492.7 633.1,1492.6 634.9,1492.4 636.7,1492.1 638.6,1491.7 640.6,1491.2 642.6,1490.6 644.6,1490.0 646.6,1489.2 648.7,1488.2 650.7,1487.1 652.7,1485.9 654.7,1484.5 656.7,1482.9 658.7,1481.2 660.7,1479.4 662.7,1477.4 664.7,1475.3 666.7,1473.1 668.7,1470.7 670.7,1468.2 672.7,1465.7 674.7,1463.1 676.7,1460.5 678.8,1457.9 680.8,1455.2 682.8,1452.5 684.8,1449.8 686.8,1447.1 688.8,1444.5 690.8,1441.9 692.8,1439.3 694.8,1436.8 696.8,1434.2 698.8,1431.7 700.8,1429.1 702.8,1426.4 704.8,1423.8 706.8,1421.2 708.9,1418.7 710.9,1416.2 712.9,1413.9 714.9,1411.6 716.9,1409.3 718.9,1407.1 720.9,1405.1 722.9,1403.1 724.9,1401.2 726.9,1399.3 728.9,1397.6 730.9,1395.9 732.9,1394.3 734.9,1392.8 736.9,1391.3 739.0,1389.9 741.0,1388.5 743.0,1387.2 745.0,1386.0 747.0,1384.8 749.0,1383.6 751.0,1382.5 753.0,1381.5 755.0,1380.5 757.0,1379.5 759.0,1378.5 761.0,1377.5 763.0,1376.5 765.0,1375.5 767.0,1374.5 769.1,1373.6 771.1,1372.7 773.0,1371.9 774.9,1371.2 776.7,1370.4 778.6,1369.7 780.7,1369.0 783.1,1368.2 785.8,1367.3 788.7,1366.5 791.8,1365.6 794.9,1364.7 798.1,1363.8 801.2,1363.0 804.1,1362.3 807.0,1361.6 809.8,1360.9 812.8,1360.3 815.9,1359.6 819.2,1359.0 822.8,1358.4 826.6,1357.8 830.5,1357.2 834.6,1356.7 838.9,1356.1 843.3,1355.6 848.0,1355.1 852.9,1354.6 858.0,1354.1 863.1,1353.6 868.3,1353.2 873.4,1352.7 878.4,1352.3 883.4,1351.9 888.5,1351.5 893.5,1351.2 898.5,1350.8 903.5,1350.4 908.5,1350.1 913.5,1349.7 918.5,1349.3 923.5,1349.0 928.5,1348.6 933.6,1348.1 939.1,1347.7 945.2,1347.1 951.3,1346.6 957.0,1346.1 961.7,1345.6 965.2,1345.3" stroke="#7b4fa0" stroke-width="4.5" fill="none" stroke-linejoin="round" stroke-linecap="round" clip-path="url(#clipJ)"/>
<text x="743.0" y="1454.0" font-size="32.5" text-anchor="start" fill="#000" >51K</text>
<text x="818.0" y="1430.0" font-size="32.5" text-anchor="start" fill="#000" >80K</text>
<line x1="816.5" y1="1524.3" x2="854.5" y2="1524.3" stroke="#e0282a" stroke-width="5" />
<text x="866.0" y="1537.0" font-size="33" text-anchor="start" fill="#000" >0 T</text>
<line x1="816.5" y1="1552.0" x2="854.5" y2="1552.0" stroke="#3aa86a" stroke-width="5" />
<text x="866.0" y="1567.5" font-size="33" text-anchor="start" fill="#000" >5 T</text>
<line x1="816.5" y1="1582.0" x2="854.5" y2="1582.0" stroke="#7b4fa0" stroke-width="5" />
<text x="866.0" y="1596.5" font-size="33" text-anchor="start" fill="#000" >8 T</text>
<clipPath id="clipK"><rect x="1107" y="1320" width="389" height="302"/></clipPath>
<polyline points="1106.7,1612.4 1108.0,1612.4 1109.9,1612.4 1112.1,1612.4 1114.5,1612.4 1116.8,1612.4 1118.8,1612.4 1120.6,1612.3 1122.3,1612.3 1123.9,1612.3 1125.4,1612.3 1127.0,1612.1 1128.6,1611.9 1130.3,1611.6 1131.9,1611.2 1133.6,1610.8 1135.2,1610.3 1136.8,1609.6 1138.5,1608.7 1140.1,1607.7 1141.7,1606.7 1143.3,1605.5 1144.9,1604.0 1146.6,1602.3 1148.3,1600.2 1150.2,1597.7 1152.2,1594.8 1154.2,1591.7 1156.3,1588.3 1158.3,1584.6 1160.1,1580.6 1161.8,1576.5 1163.4,1572.1 1165.0,1567.4 1166.5,1562.4 1168.0,1557.1 1169.6,1551.4 1171.3,1545.1 1173.1,1538.3 1174.8,1531.2 1176.6,1524.0 1178.4,1516.8 1180.1,1509.9 1181.9,1503.1 1183.6,1496.4 1185.3,1489.8 1187.0,1483.2 1188.6,1476.9 1190.3,1470.8 1192.0,1465.1 1193.6,1459.5 1195.2,1454.2 1196.9,1449.1 1198.5,1444.0 1200.1,1439.1 1201.8,1434.3 1203.4,1429.6 1205.0,1425.1 1206.7,1420.7 1208.3,1416.4 1210.0,1412.3 1211.7,1408.3 1213.4,1404.4 1215.1,1400.7 1216.8,1397.1 1218.5,1393.6 1220.2,1390.3 1221.8,1387.1 1223.5,1384.1 1225.1,1381.2 1226.7,1378.4 1228.4,1375.7 1230.0,1373.2 1231.6,1370.9 1233.1,1368.8 1234.7,1366.8 1236.3,1364.9 1238.0,1363.0 1239.8,1361.0 1241.8,1359.0 1243.9,1356.8 1246.1,1354.7 1248.4,1352.7 1250.8,1350.7 1253.3,1348.8 1255.9,1347.1 1258.6,1345.6 1261.5,1344.1 1264.3,1342.6 1267.1,1341.3 1269.7,1340.1 1272.0,1338.9 1274.2,1337.8 1276.2,1336.8 1278.3,1335.9 1280.4,1335.0 1282.8,1334.2 1285.2,1333.4 1287.6,1332.7 1290.1,1332.0 1292.9,1331.4 1296.1,1330.7 1299.9,1330.1 1304.3,1329.3 1309.4,1328.5 1314.9,1327.7 1320.7,1327.0 1326.4,1326.3 1332.0,1325.7 1337.4,1325.2 1342.9,1324.8 1348.4,1324.5 1353.8,1324.3 1359.3,1324.0 1364.8,1323.7 1370.3,1323.4 1375.7,1323.1 1381.2,1322.7 1386.7,1322.4 1392.1,1322.2 1397.6,1322.0 1403.1,1321.9 1408.5,1321.9 1414.0,1321.9 1419.5,1321.9 1424.9,1322.0 1430.4,1322.0 1435.9,1322.0 1441.5,1322.0 1447.0,1321.9 1452.5,1321.9 1457.9,1321.9 1463.2,1322.0 1468.7,1322.1 1474.4,1322.4 1480.0,1322.6 1485.2,1322.9 1489.5,1323.1 1492.7,1323.2" stroke="#231815" stroke-width="4.5" fill="none" stroke-linejoin="round" stroke-linecap="round" clip-path="url(#clipK)"/>
<polyline points="1106.7,1617.2 1108.0,1617.4 1109.8,1617.6 1112.0,1617.8 1114.4,1618.0 1116.7,1618.2 1118.8,1618.5 1120.7,1618.7 1122.6,1619.0 1124.4,1619.3 1126.2,1619.5 1128.1,1619.7 1130.0,1619.7 1131.9,1619.5 1133.9,1619.2 1135.9,1618.8 1137.9,1618.4 1139.9,1617.8 1141.8,1617.2 1143.5,1616.6 1145.2,1615.9 1146.9,1615.1 1148.5,1614.3 1150.1,1613.3 1151.6,1612.4 1153.1,1611.3 1154.5,1610.2 1155.9,1609.0 1157.2,1607.8 1158.6,1606.4 1160.1,1605.0 1161.7,1603.6 1163.3,1602.1 1164.9,1600.6 1166.6,1599.0 1168.3,1597.2 1170.0,1595.3 1171.6,1593.2 1173.3,1590.9 1175.0,1588.6 1176.7,1586.1 1178.4,1583.4 1180.1,1580.6 1181.8,1577.7 1183.5,1574.7 1185.2,1571.6 1186.9,1568.3 1188.6,1564.8 1190.3,1561.1 1192.0,1557.1 1193.6,1552.9 1195.2,1548.4 1196.9,1543.9 1198.5,1539.4 1200.1,1535.0 1201.8,1530.8 1203.4,1526.7 1205.0,1522.6 1206.7,1518.5 1208.3,1514.3 1210.0,1509.9 1211.7,1505.2 1213.4,1500.3 1215.1,1495.3 1216.8,1490.3 1218.5,1485.4 1220.2,1480.6 1221.8,1475.9 1223.5,1471.4 1225.1,1466.8 1226.7,1462.4 1228.4,1458.0 1230.0,1453.8 1231.6,1449.6 1233.3,1445.5 1234.9,1441.5 1236.5,1437.6 1238.2,1433.8 1239.8,1430.1 1241.5,1426.5 1243.2,1423.1 1244.9,1419.7 1246.6,1416.4 1248.3,1413.1 1250.0,1409.8 1251.7,1406.5 1253.3,1403.1 1254.9,1399.7 1256.6,1396.3 1258.2,1393.2 1259.8,1390.3 1261.5,1387.7 1263.1,1385.3 1264.8,1383.1 1266.4,1381.0 1268.0,1379.0 1269.7,1376.9 1271.3,1374.8 1273.0,1372.8 1274.6,1370.8 1276.2,1368.8 1277.9,1366.9 1279.5,1364.9 1281.2,1363.0 1282.8,1361.1 1284.4,1359.1 1286.0,1357.3 1287.7,1355.4 1289.4,1353.7 1291.0,1352.1 1292.7,1350.5 1294.4,1349.1 1296.2,1347.6 1298.0,1346.3 1299.9,1344.9 1301.8,1343.7 1303.7,1342.5 1305.6,1341.3 1307.7,1340.2 1309.9,1339.1 1312.3,1337.9 1314.8,1336.6 1317.4,1335.2 1320.1,1333.9 1323.0,1332.6 1326.3,1331.3 1330.0,1330.1 1334.2,1328.9 1338.8,1327.7 1343.7,1326.6 1348.9,1325.6 1354.3,1324.7 1359.9,1324.0 1365.8,1323.4 1372.1,1322.9 1378.6,1322.6 1385.1,1322.4 1391.5,1322.2 1397.6,1322.0 1403.4,1321.9 1408.9,1321.8 1414.3,1321.7 1419.6,1321.7 1425.0,1321.8 1430.4,1322.0 1435.9,1322.2 1441.5,1322.5 1447.0,1322.9 1452.5,1323.3 1457.9,1323.8 1463.2,1324.4 1468.7,1325.2 1474.4,1326.2 1480.0,1327.3 1485.2,1328.3 1489.5,1329.2 1492.7,1329.8" stroke="#e0282a" stroke-width="4.5" fill="none" stroke-linejoin="round" stroke-linecap="round" clip-path="url(#clipK)"/>
<line x1="1364.8" y1="1361.0" x2="1364.8" y2="1330.0" stroke="#e0282a" stroke-width="1.6" />
<polygon points="1364.8,1323 1361.3,1335 1368.3,1335" fill="#e0282a"/>
<line x1="1269.4" y1="1411.0" x2="1269.4" y2="1380.0" stroke="#e0282a" stroke-width="1.6" />
<polygon points="1269.4,1372.5 1265.9,1384.5 1272.9,1384.5" fill="#e0282a"/>
<text x="1339.0" y="1390.0" font-size="32.5" text-anchor="start" fill="#000" >80K</text>
<text x="1250" y="1444" font-size="32.5">T<tspan font-size="20" dy="9">g</tspan><tspan dy="-9">=51K</tspan></text>
<line x1="1196.5" y1="1562.0" x2="1216.0" y2="1562.0" stroke="#231815" stroke-width="5" />
<text x="1217.0" y="1568.5" font-size="32.5" text-anchor="start" fill="#000" >Se/FeSe/STO</text>
<line x1="1196.5" y1="1598.0" x2="1216.0" y2="1598.0" stroke="#e0282a" stroke-width="5" />
<text x="1217.0" y="1603.5" font-size="32.5" text-anchor="start" fill="#000" >Se/FeSe/LFO/STO</text>
</svg></body></html>
